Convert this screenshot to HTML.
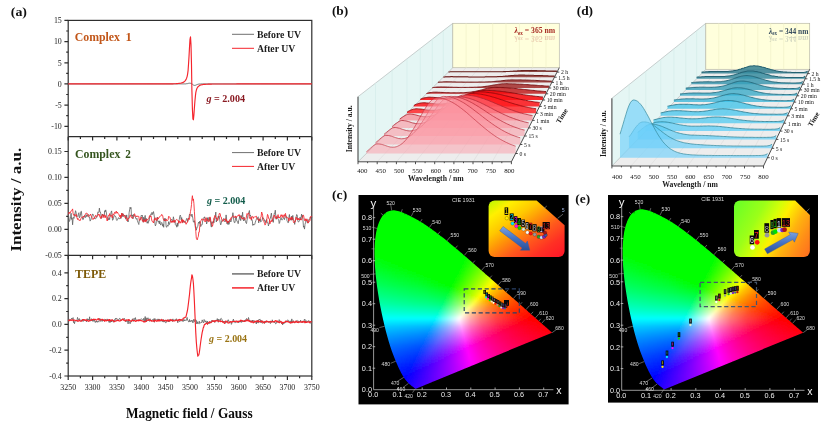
<!DOCTYPE html>
<html><head><meta charset="utf-8"><title>figure</title>
<style>html,body{margin:0;padding:0;background:#fff;overflow:hidden}svg{display:block;filter:blur(0.4px)}text{font-family:"Liberation Serif",serif}.sans,.sans text{font-family:"Liberation Sans",sans-serif}</style></head>
<body>
<svg width="839" height="430" viewBox="0 0 839 430">
<rect width="839" height="430" fill="#fff"/>
<g id="panelA">
<g fill="none" stroke="#2e2e2e" stroke-width="1.2">
<rect x="68.2" y="20.4" width="243.6" height="355.6"/>
<path d="M68.2,136.7H311.8M68.2,255.3H311.8"/>
<path d="M68.2,20.4h-3.8M68.2,41.6h-3.8M68.2,62.8h-3.8M68.2,83.9h-3.8M68.2,105.1h-3.8M68.2,126.3h-3.8M68.2,31h-2M68.2,52.2h-2M68.2,73.3h-2M68.2,94.5h-2M68.2,115.7h-2M68.2,151.5h-3.8M68.2,177.4h-3.8M68.2,203.4h-3.8M68.2,229.3h-3.8M68.2,164.5h-2M68.2,190.4h-2M68.2,216.4h-2M68.2,242.3h-2M68.2,272.8h-3.8M68.2,298.6h-3.8M68.2,324.4h-3.8M68.2,350.2h-3.8M68.2,376h-3.8M68.2,285.7h-2M68.2,311.5h-2M68.2,337.3h-2M68.2,363.1h-2M68.2,255.3h-3.8M68.2,376.0v3.9M68.2,136.7v3.9M68.2,255.3v3.9M80.4,376.0v2.3M80.4,136.7v2.3M80.4,255.3v2.3M92.6,376.0v3.9M92.6,136.7v3.9M92.6,255.3v3.9M104.7,376.0v2.3M104.7,136.7v2.3M104.7,255.3v2.3M116.9,376.0v3.9M116.9,136.7v3.9M116.9,255.3v3.9M129.1,376.0v2.3M129.1,136.7v2.3M129.1,255.3v2.3M141.3,376.0v3.9M141.3,136.7v3.9M141.3,255.3v3.9M153.5,376.0v2.3M153.5,136.7v2.3M153.5,255.3v2.3M165.6,376.0v3.9M165.6,136.7v3.9M165.6,255.3v3.9M177.8,376.0v2.3M177.8,136.7v2.3M177.8,255.3v2.3M190,376.0v3.9M190,136.7v3.9M190,255.3v3.9M202.2,376.0v2.3M202.2,136.7v2.3M202.2,255.3v2.3M214.4,376.0v3.9M214.4,136.7v3.9M214.4,255.3v3.9M226.5,376.0v2.3M226.5,136.7v2.3M226.5,255.3v2.3M238.7,376.0v3.9M238.7,136.7v3.9M238.7,255.3v3.9M250.9,376.0v2.3M250.9,136.7v2.3M250.9,255.3v2.3M263.1,376.0v3.9M263.1,136.7v3.9M263.1,255.3v3.9M275.3,376.0v2.3M275.3,136.7v2.3M275.3,255.3v2.3M287.4,376.0v3.9M287.4,136.7v3.9M287.4,255.3v3.9M299.6,376.0v2.3M299.6,136.7v2.3M299.6,255.3v2.3M311.8,376.0v3.9M311.8,136.7v3.9M311.8,255.3v3.9"/>
</g>
<g font-size="7.9" fill="#1e1e1e" text-anchor="end">
<text x="61.8" y="23.1">15</text>
<text x="61.8" y="44.3">10</text>
<text x="61.8" y="65.5">5</text>
<text x="61.8" y="86.6">0</text>
<text x="61.8" y="107.8">-5</text>
<text x="61.8" y="129">-10</text>
<text x="61.8" y="154.2">0.15</text>
<text x="61.8" y="180.1">0.10</text>
<text x="61.8" y="206.1">0.05</text>
<text x="61.8" y="232">0.00</text>
<text x="61.8" y="258">-0.05</text>
<text x="61.8" y="275.5">0.4</text>
<text x="61.8" y="301.3">0.2</text>
<text x="61.8" y="327.1">0.0</text>
<text x="61.8" y="352.9">-0.2</text>
<text x="61.8" y="378.7">-0.4</text>
</g>
<g font-size="7.9" fill="#1e1e1e" text-anchor="middle">
<text x="68.2" y="390.3">3250</text>
<text x="92.6" y="390.3">3300</text>
<text x="116.9" y="390.3">3350</text>
<text x="141.3" y="390.3">3400</text>
<text x="165.6" y="390.3">3450</text>
<text x="190" y="390.3">3500</text>
<text x="214.4" y="390.3">3550</text>
<text x="238.7" y="390.3">3600</text>
<text x="263.1" y="390.3">3650</text>
<text x="287.4" y="390.3">3700</text>
<text x="311.8" y="390.3">3750</text>
</g>
<g fill="none" stroke-linejoin="round">
<path stroke="#5e5e5e" stroke-width="0.9" d="M68.2,83.9 68.7,83.9 69.2,83.9 69.7,83.9 70.1,83.9 70.6,83.9 71.1,83.9 71.6,83.9 72.1,83.9 72.6,83.9 73.1,83.9 73.6,83.9 74,83.9 74.5,83.9 75,83.9 75.5,83.9 76,83.9 76.5,83.9 77,83.9 77.5,83.9 77.9,83.9 78.4,83.9 78.9,83.9 79.4,83.9 79.9,83.9 80.4,83.9 80.9,83.9 81.4,83.9 81.8,83.9 82.3,83.9 82.8,83.9 83.3,83.9 83.8,83.9 84.3,83.9 84.8,83.9 85.3,83.9 85.7,83.9 86.2,83.9 86.7,83.9 87.2,83.9 87.7,83.9 88.2,83.9 88.7,83.9 89.1,83.9 89.6,83.9 90.1,83.9 90.6,83.9 91.1,83.9 91.6,83.9 92.1,83.9 92.6,83.9 93,83.9 93.5,83.9 94,83.9 94.5,83.9 95,83.9 95.5,83.9 96,83.9 96.5,83.9 96.9,83.9 97.4,83.9 97.9,83.9 98.4,83.9 98.9,83.9 99.4,83.9 99.9,83.9 100.4,83.9 100.8,83.9 101.3,83.9 101.8,83.9 102.3,83.9 102.8,83.9 103.3,83.9 103.8,83.9 104.3,83.9 104.7,83.9 105.2,83.9 105.7,83.9 106.2,83.9 106.7,83.9 107.2,83.9 107.7,83.9 108.2,83.9 108.6,83.9 109.1,83.9 109.6,83.9 110.1,83.9 110.6,83.9 111.1,83.9 111.6,83.9 112,83.9 112.5,83.9 113,83.9 113.5,83.9 114,83.9 114.5,83.9 115,83.9 115.5,83.9 115.9,83.9 116.4,83.9 116.9,83.9 117.4,83.9 117.9,83.9 118.4,83.9 118.9,83.9 119.4,83.9 119.8,83.9 120.3,83.9 120.8,83.9 121.3,83.9 121.8,83.9 122.3,83.9 122.8,83.9 123.3,83.9 123.7,83.9 124.2,83.9 124.7,83.9 125.2,83.9 125.7,83.9 126.2,83.9 126.7,83.9 127.2,83.9 127.6,83.9 128.1,83.9 128.6,83.9 129.1,83.9 129.6,83.9 130.1,83.9 130.6,83.9 131,83.9 131.5,83.9 132,83.9 132.5,83.9 133,83.9 133.5,83.9 134,83.9 134.5,83.9 134.9,83.9 135.4,83.9 135.9,83.9 136.4,83.9 136.9,83.9 137.4,83.9 137.9,83.9 138.4,83.9 138.8,83.9 139.3,83.9 139.8,83.9 140.3,83.9 140.8,83.9 141.3,83.9 141.8,83.9 142.3,83.9 142.7,83.9 143.2,83.9 143.7,83.9 144.2,83.9 144.7,83.9 145.2,83.9 145.7,83.9 146.2,83.9 146.6,83.9 147.1,83.9 147.6,83.9 148.1,83.9 148.6,83.9 149.1,83.9 149.6,83.9 150,83.9 150.5,83.9 151,83.9 151.5,83.9 152,83.9 152.5,83.9 153,83.9 153.5,83.9 153.9,83.9 154.4,83.9 154.9,83.9 155.4,83.9 155.9,83.9 156.4,83.9 156.9,83.9 157.4,83.9 157.8,83.9 158.3,83.9 158.8,83.9 159.3,83.9 159.8,83.9 160.3,83.9 160.8,83.9 161.3,83.9 161.7,83.9 162.2,83.9 162.7,83.9 163.2,83.9 163.7,83.9 164.2,83.9 164.7,83.9 165.2,83.9 165.6,83.9 166.1,83.9 166.6,83.9 167.1,83.9 167.6,83.9 168.1,83.9 168.6,83.9 169.1,83.9 169.5,83.9 170,83.9 170.5,83.9 171,83.9 171.5,83.9 172,83.9 172.5,83.9 172.9,83.9 173.4,83.9 173.9,83.9 174.4,83.9 174.9,83.9 175.4,83.9 175.9,83.9 176.4,83.9 176.8,83.9 177.3,83.9 177.8,83.9 178.3,83.9 178.8,83.9 179.3,83.9 179.8,83.9 180.3,83.9 180.7,83.9 181.2,83.9 181.7,83.9 182.2,83.9 182.7,83.9 183.2,83.9 183.7,83.9 184.2,83.9 184.6,83.9 185.1,83.9 185.6,83.9 186.1,83.8 186.6,83.7 187.1,83.7 187.6,83.6 188.1,83.5 188.5,83.3 189,83.3 189.5,83.2 190,83.2 190.5,83.3 191,83.4 191.5,83.6 191.9,83.8 192.4,84.2 192.9,84.6 193.4,85 193.9,85.3 194.4,85.4 194.9,85.4 195.4,85.3 195.8,85.1 196.3,84.9 196.8,84.7 197.3,84.5 197.8,84.3 198.3,84.2 198.8,84.1 199.3,84 199.7,84 200.2,84 200.7,84 201.2,83.9 201.7,83.9 202.2,83.9 202.7,83.9 203.2,83.9 203.6,83.9 204.1,83.9 204.6,83.9 205.1,83.9 205.6,83.9 206.1,83.9 206.6,83.9 207.1,83.9 207.5,83.9 208,83.9 208.5,83.9 209,83.9 209.5,83.9 210,83.9 210.5,83.9 210.9,83.9 211.4,83.9 211.9,83.9 212.4,83.9 212.9,83.9 213.4,83.9 213.9,83.9 214.4,83.9 214.8,83.9 215.3,83.9 215.8,83.9 216.3,83.9 216.8,83.9 217.3,83.9 217.8,83.9 218.3,83.9 218.7,83.9 219.2,83.9 219.7,83.9 220.2,83.9 220.7,83.9 221.2,83.9 221.7,83.9 222.2,83.9 222.6,83.9 223.1,83.9 223.6,83.9 224.1,83.9 224.6,83.9 225.1,83.9 225.6,83.9 226.1,83.9 226.5,83.9 227,83.9 227.5,83.9 228,83.9 228.5,83.9 229,83.9 229.5,83.9 230,83.9 230.4,83.9 230.9,83.9 231.4,83.9 231.9,83.9 232.4,83.9 232.9,83.9 233.4,83.9 233.8,83.9 234.3,83.9 234.8,83.9 235.3,83.9 235.8,83.9 236.3,83.9 236.8,83.9 237.3,83.9 237.7,83.9 238.2,83.9 238.7,83.9 239.2,83.9 239.7,83.9 240.2,83.9 240.7,83.9 241.2,83.9 241.6,83.9 242.1,83.9 242.6,83.9 243.1,83.9 243.6,83.9 244.1,83.9 244.6,83.9 245.1,83.9 245.5,83.9 246,83.9 246.5,83.9 247,83.9 247.5,83.9 248,83.9 248.5,83.9 249,83.9 249.4,83.9 249.9,83.9 250.4,83.9 250.9,83.9 251.4,83.9 251.9,83.9 252.4,83.9 252.8,83.9 253.3,83.9 253.8,83.9 254.3,83.9 254.8,83.9 255.3,83.9 255.8,83.9 256.3,83.9 256.7,83.9 257.2,83.9 257.7,83.9 258.2,83.9 258.7,83.9 259.2,83.9 259.7,83.9 260.2,83.9 260.6,83.9 261.1,83.9 261.6,83.9 262.1,83.9 262.6,83.9 263.1,83.9 263.6,83.9 264.1,83.9 264.5,83.9 265,83.9 265.5,83.9 266,83.9 266.5,83.9 267,83.9 267.5,83.9 268,83.9 268.4,83.9 268.9,83.9 269.4,83.9 269.9,83.9 270.4,83.9 270.9,83.9 271.4,83.9 271.8,83.9 272.3,83.9 272.8,83.9 273.3,83.9 273.8,83.9 274.3,83.9 274.8,83.9 275.3,83.9 275.7,83.9 276.2,83.9 276.7,83.9 277.2,83.9 277.7,83.9 278.2,83.9 278.7,83.9 279.2,83.9 279.6,83.9 280.1,83.9 280.6,83.9 281.1,83.9 281.6,83.9 282.1,83.9 282.6,83.9 283.1,83.9 283.5,83.9 284,83.9 284.5,83.9 285,83.9 285.5,83.9 286,83.9 286.5,83.9 287,83.9 287.4,83.9 287.9,83.9 288.4,83.9 288.9,83.9 289.4,83.9 289.9,83.9 290.4,83.9 290.9,83.9 291.3,83.9 291.8,83.9 292.3,83.9 292.8,83.9 293.3,83.9 293.8,83.9 294.3,83.9 294.7,83.9 295.2,83.9 295.7,83.9 296.2,83.9 296.7,83.9 297.2,83.9 297.7,83.9 298.2,83.9 298.6,83.9 299.1,83.9 299.6,83.9 300.1,83.9 300.6,83.9 301.1,83.9 301.6,83.9 302.1,83.9 302.5,83.9 303,83.9 303.5,83.9 304,83.9 304.5,83.9 305,83.9 305.5,83.9 306,83.9 306.4,83.9 306.9,83.9 307.4,83.9 307.9,83.9 308.4,83.9 308.9,83.9 309.4,83.9 309.9,83.9 310.3,83.9 310.8,83.9 311.3,83.9 311.8,83.9"/>
<path stroke="#f5242c" stroke-width="1.15" d="M68.2,83.9 68.7,83.9 69.2,83.9 69.7,83.9 70.1,83.9 70.6,83.9 71.1,83.9 71.6,83.9 72.1,83.9 72.6,83.9 73.1,83.9 73.6,83.9 74,83.9 74.5,83.9 75,83.9 75.5,83.9 76,83.9 76.5,83.9 77,83.9 77.5,83.9 77.9,83.9 78.4,83.9 78.9,83.9 79.4,83.9 79.9,83.9 80.4,83.9 80.9,83.9 81.4,83.9 81.8,83.9 82.3,83.9 82.8,83.9 83.3,83.9 83.8,83.9 84.3,83.9 84.8,83.9 85.3,83.9 85.7,83.9 86.2,83.9 86.7,83.9 87.2,83.9 87.7,83.9 88.2,83.9 88.7,83.9 89.1,83.9 89.6,83.9 90.1,83.9 90.6,83.9 91.1,83.9 91.6,83.9 92.1,83.9 92.6,83.9 93,83.9 93.5,83.9 94,83.9 94.5,83.9 95,83.9 95.5,83.9 96,83.9 96.5,83.9 96.9,83.9 97.4,83.9 97.9,83.9 98.4,83.9 98.9,83.9 99.4,83.9 99.9,83.9 100.4,83.9 100.8,83.9 101.3,83.9 101.8,83.9 102.3,83.9 102.8,83.9 103.3,83.9 103.8,83.9 104.3,83.9 104.7,83.9 105.2,83.9 105.7,83.9 106.2,83.9 106.7,83.9 107.2,83.9 107.7,83.9 108.2,83.9 108.6,83.9 109.1,83.9 109.6,83.9 110.1,83.9 110.6,83.9 111.1,83.9 111.6,83.9 112,83.9 112.5,83.9 113,83.9 113.5,83.9 114,83.9 114.5,83.9 115,83.9 115.5,83.9 115.9,83.9 116.4,83.9 116.9,83.9 117.4,83.9 117.9,83.9 118.4,83.9 118.9,83.9 119.4,83.9 119.8,83.9 120.3,83.9 120.8,83.9 121.3,83.9 121.8,83.9 122.3,83.9 122.8,83.9 123.3,83.9 123.7,83.9 124.2,83.9 124.7,83.9 125.2,83.9 125.7,83.9 126.2,83.9 126.7,83.9 127.2,83.9 127.6,83.9 128.1,83.9 128.6,83.9 129.1,83.9 129.6,83.9 130.1,83.9 130.6,83.9 131,83.9 131.5,83.9 132,83.9 132.5,83.9 133,83.9 133.5,83.9 134,83.9 134.5,83.9 134.9,83.9 135.4,83.9 135.9,83.9 136.4,83.9 136.9,83.9 137.4,83.9 137.9,83.9 138.4,83.9 138.8,83.9 139.3,83.9 139.8,83.9 140.3,83.9 140.8,83.9 141.3,83.9 141.8,83.9 142.3,83.9 142.7,83.9 143.2,83.9 143.7,83.9 144.2,83.9 144.7,83.9 145.2,83.9 145.7,83.9 146.2,83.9 146.6,83.9 147.1,83.9 147.6,83.9 148.1,83.9 148.6,83.9 149.1,83.9 149.6,83.9 150,83.9 150.5,83.9 151,83.9 151.5,83.9 152,83.9 152.5,83.9 153,83.9 153.5,83.9 153.9,83.9 154.4,83.9 154.9,83.9 155.4,83.9 155.9,83.9 156.4,83.9 156.9,83.9 157.4,83.9 157.8,83.9 158.3,83.9 158.8,83.9 159.3,83.9 159.8,83.9 160.3,83.9 160.8,83.9 161.3,83.9 161.7,83.9 162.2,83.9 162.7,83.9 163.2,83.9 163.7,83.9 164.2,83.9 164.7,83.9 165.2,83.9 165.6,83.9 166.1,83.9 166.6,83.9 167.1,83.9 167.6,83.9 168.1,83.9 168.6,83.8 169.1,83.8 169.5,83.8 170,83.8 170.5,83.8 171,83.8 171.5,83.8 172,83.8 172.5,83.8 172.9,83.8 173.4,83.8 173.9,83.7 174.4,83.7 174.9,83.7 175.4,83.7 175.9,83.7 176.4,83.6 176.8,83.6 177.3,83.6 177.8,83.5 178.3,83.5 178.8,83.4 179.3,83.4 179.8,83.3 180.3,83.2 180.7,83.2 181.2,83 181.7,82.9 182.2,82.8 182.7,82.6 183.2,82.4 183.7,82.1 184.2,81.8 184.6,81.4 185.1,80.9 185.6,80.2 186.1,79.4 186.6,78.2 187.1,76.6 187.6,74.1 188.1,70.3 188.5,64.5 189,56.6 189.5,47.4 190,39.4 190.5,36.9 191,44.8 191.5,65 191.9,90.4 192.4,108.9 192.9,118.9 193.4,119.8 193.9,114.9 194.4,107.8 194.9,101.2 195.4,96.1 195.8,92.6 196.3,90.3 196.8,88.8 197.3,87.8 197.8,87 198.3,86.5 198.8,86.1 199.3,85.7 199.7,85.4 200.2,85.2 200.7,85 201.2,84.9 201.7,84.8 202.2,84.7 202.7,84.6 203.2,84.5 203.6,84.4 204.1,84.4 204.6,84.3 205.1,84.3 205.6,84.3 206.1,84.2 206.6,84.2 207.1,84.2 207.5,84.2 208,84.1 208.5,84.1 209,84.1 209.5,84.1 210,84.1 210.5,84.1 210.9,84.1 211.4,84.1 211.9,84 212.4,84 212.9,84 213.4,84 213.9,84 214.4,84 214.8,84 215.3,84 215.8,84 216.3,84 216.8,84 217.3,84 217.8,84 218.3,84 218.7,84 219.2,84 219.7,84 220.2,84 220.7,84 221.2,84 221.7,84 222.2,84 222.6,84 223.1,84 223.6,84 224.1,84 224.6,84 225.1,84 225.6,84 226.1,84 226.5,84 227,84 227.5,84 228,84 228.5,84 229,84 229.5,84 230,84 230.4,84 230.9,84 231.4,84 231.9,84 232.4,84 232.9,84 233.4,84 233.8,84 234.3,84 234.8,84 235.3,84 235.8,84 236.3,84 236.8,83.9 237.3,83.9 237.7,83.9 238.2,83.9 238.7,83.9 239.2,83.9 239.7,83.9 240.2,83.9 240.7,83.9 241.2,83.9 241.6,83.9 242.1,83.9 242.6,83.9 243.1,83.9 243.6,83.9 244.1,83.9 244.6,83.9 245.1,83.9 245.5,83.9 246,83.9 246.5,83.9 247,83.9 247.5,83.9 248,83.9 248.5,83.9 249,83.9 249.4,83.9 249.9,83.9 250.4,83.9 250.9,83.9 251.4,83.9 251.9,83.9 252.4,83.9 252.8,83.9 253.3,83.9 253.8,83.9 254.3,83.9 254.8,83.9 255.3,83.9 255.8,83.9 256.3,83.9 256.7,83.9 257.2,83.9 257.7,83.9 258.2,83.9 258.7,83.9 259.2,83.9 259.7,83.9 260.2,83.9 260.6,83.9 261.1,83.9 261.6,83.9 262.1,83.9 262.6,83.9 263.1,83.9 263.6,83.9 264.1,83.9 264.5,83.9 265,83.9 265.5,83.9 266,83.9 266.5,83.9 267,83.9 267.5,83.9 268,83.9 268.4,83.9 268.9,83.9 269.4,83.9 269.9,83.9 270.4,83.9 270.9,83.9 271.4,83.9 271.8,83.9 272.3,83.9 272.8,83.9 273.3,83.9 273.8,83.9 274.3,83.9 274.8,83.9 275.3,83.9 275.7,83.9 276.2,83.9 276.7,83.9 277.2,83.9 277.7,83.9 278.2,83.9 278.7,83.9 279.2,83.9 279.6,83.9 280.1,83.9 280.6,83.9 281.1,83.9 281.6,83.9 282.1,83.9 282.6,83.9 283.1,83.9 283.5,83.9 284,83.9 284.5,83.9 285,83.9 285.5,83.9 286,83.9 286.5,83.9 287,83.9 287.4,83.9 287.9,83.9 288.4,83.9 288.9,83.9 289.4,83.9 289.9,83.9 290.4,83.9 290.9,83.9 291.3,83.9 291.8,83.9 292.3,83.9 292.8,83.9 293.3,83.9 293.8,83.9 294.3,83.9 294.7,83.9 295.2,83.9 295.7,83.9 296.2,83.9 296.7,83.9 297.2,83.9 297.7,83.9 298.2,83.9 298.6,83.9 299.1,83.9 299.6,83.9 300.1,83.9 300.6,83.9 301.1,83.9 301.6,83.9 302.1,83.9 302.5,83.9 303,83.9 303.5,83.9 304,83.9 304.5,83.9 305,83.9 305.5,83.9 306,83.9 306.4,83.9 306.9,83.9 307.4,83.9 307.9,83.9 308.4,83.9 308.9,83.9 309.4,83.9 309.9,83.9 310.3,83.9 310.8,83.9 311.3,83.9 311.8,83.9"/>
<path stroke="#5e5e5e" stroke-width="0.8" d="M68.2,214.5 68.7,216.7 69.2,221.6 69.7,220.7 70.1,219.3 70.6,216.8 71.1,213.2 71.6,219.4 72.1,217.7 72.6,224.8 73.1,218.8 73.6,217.4 74,218.4 74.5,214 75,213.9 75.5,210.7 76,212.1 76.5,216.4 77,215.8 77.5,216.3 77.9,216.6 78.4,213.7 78.9,212.7 79.4,217.9 79.9,217.2 80.4,215.1 80.9,211.6 81.4,211.3 81.8,215.5 82.3,217.9 82.8,219.6 83.3,219.4 83.8,217.5 84.3,216.6 84.8,215.6 85.3,217.6 85.7,217.3 86.2,214.6 86.7,216.6 87.2,216.5 87.7,215.1 88.2,214.8 88.7,214.6 89.1,217.6 89.6,217.3 90.1,221.1 90.6,220.3 91.1,219.2 91.6,217.2 92.1,215.7 92.6,214.1 93,214.1 93.5,215.7 94,216.4 94.5,218.4 95,218.5 95.5,218.7 96,218.5 96.5,217.5 96.9,217.4 97.4,214.8 97.9,211.9 98.4,212.4 98.9,212.1 99.4,208.1 99.9,212.2 100.4,212.1 100.8,213.9 101.3,218.5 101.8,217.7 102.3,214 102.8,215.1 103.3,216.2 103.8,214.7 104.3,215.3 104.7,210.7 105.2,211.9 105.7,209.9 106.2,211.7 106.7,215 107.2,217.9 107.7,217.7 108.2,220.1 108.6,218.6 109.1,217.8 109.6,219.7 110.1,215.7 110.6,215.6 111.1,212 111.6,210.9 112,214.4 112.5,220.2 113,219.9 113.5,218.1 114,215.8 114.5,215.3 115,216.5 115.5,216.3 115.9,217.1 116.4,219.7 116.9,220.5 117.4,219.5 117.9,219.3 118.4,217.7 118.9,218.1 119.4,218.9 119.8,218.7 120.3,217.6 120.8,218.5 121.3,217.3 121.8,213.5 122.3,216.6 122.8,213.4 123.3,216.5 123.7,216.3 124.2,215 124.7,215.6 125.2,215.1 125.7,219.2 126.2,217.9 126.7,214.9 127.2,220.8 127.6,220.9 128.1,222 128.6,219.6 129.1,212.8 129.6,209.9 130.1,207.2 130.6,208.7 131,207.5 131.5,216.2 132,216.3 132.5,214.9 133,218.8 133.5,214.5 134,215.2 134.5,215.9 134.9,215.9 135.4,217 135.9,218.6 136.4,219.3 136.9,218.3 137.4,220.6 137.9,222.1 138.4,223.4 138.8,224.5 139.3,220.4 139.8,220.7 140.3,220.1 140.8,217.2 141.3,215.3 141.8,216.1 142.3,215.2 142.7,219 143.2,222.2 143.7,217.2 144.2,221.3 144.7,217.5 145.2,215.4 145.7,220.9 146.2,218.4 146.6,219.2 147.1,223.2 147.6,221.7 148.1,223.3 148.6,220.7 149.1,221.1 149.6,216.8 150,217.1 150.5,215.2 151,213.8 151.5,214.5 152,212.3 152.5,214.5 153,213.2 153.5,211.6 153.9,214 154.4,217 154.9,223.6 155.4,225.9 155.9,224.7 156.4,221.6 156.9,219.6 157.4,217.1 157.8,221.1 158.3,222.2 158.8,221.2 159.3,223.8 159.8,220.8 160.3,223.6 160.8,225.1 161.3,223.2 161.7,222.4 162.2,223.3 162.7,226.2 163.2,224.3 163.7,227.3 164.2,218.2 164.7,220.9 165.2,219.3 165.6,218.5 166.1,226.2 166.6,227.3 167.1,225.9 167.6,225.3 168.1,226.2 168.6,221.7 169.1,224.1 169.5,224.5 170,222.2 170.5,220.7 171,220 171.5,219.1 172,219.8 172.5,221.9 172.9,220.4 173.4,216.8 173.9,219.4 174.4,222.4 174.9,220.6 175.4,224.7 175.9,225.3 176.4,224.8 176.8,227.2 177.3,222.9 177.8,226.3 178.3,223.2 178.8,222.2 179.3,219.3 179.8,216.1 180.3,215.1 180.7,216.5 181.2,219.8 181.7,217.6 182.2,220.9 182.7,222.4 183.2,220.5 183.7,222.2 184.2,222.1 184.6,222 185.1,222.6 185.6,221.4 186.1,220.3 186.6,218.5 187.1,218.6 187.6,221.6 188.1,220.3 188.5,218.1 189,217.4 189.5,214.1 190,214.8 190.5,215 191,215.4 191.5,216.4 191.9,214 192.4,215.8 192.9,218.6 193.4,222 193.9,222.1 194.4,220.7 194.9,223.8 195.4,227.4 195.8,226.8 196.3,230.2 196.8,228.3 197.3,226.9 197.8,226.5 198.3,222.9 198.8,222 199.3,223.5 199.7,221.2 200.2,223 200.7,226.6 201.2,225.7 201.7,224.5 202.2,224.6 202.7,220.4 203.2,218.4 203.6,218 204.1,218 204.6,216.8 205.1,219.2 205.6,219 206.1,219.2 206.6,224 207.1,222.2 207.5,217.7 208,220 208.5,220.6 209,217.3 209.5,220.7 210,217.9 210.5,220.3 210.9,225.6 211.4,227.1 211.9,221.7 212.4,223.1 212.9,223.2 213.4,221 213.9,222.8 214.4,220 214.8,217.3 215.3,216.3 215.8,212.1 216.3,222 216.8,219.8 217.3,219.8 217.8,218.2 218.3,216.1 218.7,217.5 219.2,216.2 219.7,219.7 220.2,222.5 220.7,224.9 221.2,223.5 221.7,220.6 222.2,220.6 222.6,220.4 223.1,219 223.6,218.5 224.1,221.2 224.6,221 225.1,221.8 225.6,219.7 226.1,214.9 226.5,218 227,223.8 227.5,221.4 228,224.6 228.5,221.3 229,224.3 229.5,221.6 230,220.2 230.4,221 230.9,222 231.4,219.9 231.9,218 232.4,216.2 232.9,212.7 233.4,216.7 233.8,220.6 234.3,222.5 234.8,222.8 235.3,220.6 235.8,216.4 236.3,217.1 236.8,221.1 237.3,221.3 237.7,222 238.2,223.7 238.7,220.3 239.2,219.3 239.7,216 240.2,218.2 240.7,220.6 241.2,215.4 241.6,218 242.1,216.8 242.6,212.2 243.1,219.3 243.6,220.9 244.1,217.1 244.6,220.2 245.1,220.2 245.5,221.2 246,223 246.5,223.6 247,220 247.5,218.4 248,214.4 248.5,213.8 249,211.9 249.4,210.5 249.9,215.8 250.4,215 250.9,217 251.4,220.3 251.9,219.5 252.4,221.1 252.8,225.4 253.3,224 253.8,224.9 254.3,224.8 254.8,224.3 255.3,222.2 255.8,220.8 256.3,219.4 256.7,218.6 257.2,219.3 257.7,217.4 258.2,216.8 258.7,222.9 259.2,219 259.7,220.8 260.2,218.8 260.6,221.9 261.1,221.6 261.6,221.2 262.1,220.3 262.6,217.3 263.1,218.8 263.6,218.4 264.1,219.2 264.5,220.8 265,220.4 265.5,222.7 266,220.6 266.5,219.5 267,221.6 267.5,222.8 268,222.9 268.4,225.9 268.9,224.3 269.4,221.2 269.9,219 270.4,218.1 270.9,215.4 271.4,213.1 271.8,217 272.3,220.8 272.8,220 273.3,222.4 273.8,216.4 274.3,213.2 274.8,213.4 275.3,210.2 275.7,215.6 276.2,219.3 276.7,218.1 277.2,216.4 277.7,218.2 278.2,219.3 278.7,219.7 279.2,223.5 279.6,222.8 280.1,220.4 280.6,218.9 281.1,217.5 281.6,219.8 282.1,220 282.6,219.7 283.1,218.7 283.5,217.6 284,218.1 284.5,219.6 285,216.7 285.5,215.3 286,215.5 286.5,216.2 287,220.8 287.4,221.5 287.9,222.7 288.4,222.6 288.9,217.6 289.4,214.5 289.9,218.1 290.4,218.4 290.9,218.3 291.3,220.3 291.8,216 292.3,219.8 292.8,215.4 293.3,219.9 293.8,220.2 294.3,221.2 294.7,224.4 295.2,220.8 295.7,219 296.2,216.7 296.7,214.5 297.2,215 297.7,220.7 298.2,221.8 298.6,222.1 299.1,221.1 299.6,219.8 300.1,217.1 300.6,219.9 301.1,217.5 301.6,214.1 302.1,217.3 302.5,215.4 303,220.8 303.5,227.2 304,226 304.5,229.1 305,224.5 305.5,222.6 306,219.7 306.4,220.7 306.9,220.6 307.4,223 307.9,222.9 308.4,219.8 308.9,219.7 309.4,220.1 309.9,219.1 310.3,217 310.8,217.7 311.3,216.8 311.8,217.4"/>
<path stroke="#f5242c" stroke-width="0.85" d="M68.2,214.4 68.7,213.5 69.2,212.1 69.7,213.4 70.1,213.1 70.6,212.1 71.1,210.8 71.6,210.6 72.1,210.1 72.6,208.9 73.1,213.5 73.6,215.2 74,215.5 74.5,215.1 75,216 75.5,216.1 76,214.2 76.5,216 77,217.8 77.5,219.5 77.9,218.3 78.4,219.4 78.9,220.3 79.4,219.9 79.9,220.8 80.4,220.1 80.9,218.6 81.4,217.9 81.8,217.2 82.3,217.4 82.8,217.3 83.3,216.2 83.8,217.3 84.3,215.9 84.8,215 85.3,214.6 85.7,213.5 86.2,213.3 86.7,213 87.2,214 87.7,214 88.2,216.5 88.7,216.2 89.1,215.9 89.6,215.5 90.1,215.2 90.6,214 91.1,216.2 91.6,216.3 92.1,217.6 92.6,218.4 93,219.6 93.5,218.5 94,219 94.5,217.6 95,217.7 95.5,215.4 96,215.4 96.5,216.7 96.9,216.6 97.4,215.7 97.9,215.2 98.4,213.9 98.9,215.3 99.4,214.5 99.9,217.3 100.4,217.4 100.8,218.6 101.3,215.9 101.8,217.6 102.3,214.3 102.8,214.9 103.3,214.9 103.8,217.6 104.3,215.2 104.7,214.8 105.2,217.7 105.7,215.5 106.2,217.5 106.7,218.8 107.2,221 107.7,218.8 108.2,216.7 108.6,215.3 109.1,215.8 109.6,213.6 110.1,216.2 110.6,216.2 111.1,215.5 111.6,215.2 112,217.3 112.5,218 113,213.8 113.5,214.6 114,214.8 114.5,212.4 115,212.6 115.5,213.4 115.9,211.6 116.4,211.1 116.9,213.3 117.4,212 117.9,213.3 118.4,213.7 118.9,214.4 119.4,215.9 119.8,216.8 120.3,215 120.8,218.2 121.3,215.9 121.8,213 122.3,215.7 122.8,215.3 123.3,214.2 123.7,214.8 124.2,216.2 124.7,215.7 125.2,217.8 125.7,216.6 126.2,216.9 126.7,217.5 127.2,221 127.6,218.8 128.1,219 128.6,218.3 129.1,218.3 129.6,217.3 130.1,214.9 130.6,215.2 131,216.9 131.5,217.8 132,217.4 132.5,218.4 133,217.4 133.5,216.9 134,215.6 134.5,213.7 134.9,214.6 135.4,216.3 135.9,216.4 136.4,216 136.9,217 137.4,216.1 137.9,216 138.4,216.3 138.8,216.3 139.3,220.3 139.8,219.3 140.3,219.5 140.8,218.8 141.3,217 141.8,218.7 142.3,220.6 142.7,219.8 143.2,222.1 143.7,222 144.2,219.7 144.7,219.4 145.2,222.1 145.7,220.3 146.2,221.4 146.6,219.2 147.1,219.1 147.6,220 148.1,219.6 148.6,218.7 149.1,217.3 149.6,215.6 150,216.5 150.5,216.5 151,215.8 151.5,218.9 152,221.1 152.5,221.7 153,221.6 153.5,223 153.9,220.7 154.4,218.6 154.9,220.2 155.4,219.6 155.9,217.7 156.4,220.4 156.9,220.5 157.4,218.3 157.8,217.7 158.3,218.9 158.8,218 159.3,216.9 159.8,216.9 160.3,216.1 160.8,215.6 161.3,215.6 161.7,214.4 162.2,215.3 162.7,215.5 163.2,218.7 163.7,220.1 164.2,220.8 164.7,220.2 165.2,221 165.6,220.9 166.1,219 166.6,220.6 167.1,220.6 167.6,220.5 168.1,219.7 168.6,216.4 169.1,217.2 169.5,216.8 170,217.5 170.5,219.4 171,222.4 171.5,221.2 172,222.6 172.5,221.1 172.9,220.9 173.4,222.3 173.9,219.9 174.4,220.9 174.9,222.4 175.4,220.6 175.9,220.3 176.4,219.4 176.8,219.6 177.3,220 177.8,220 178.3,220.6 178.8,223.3 179.3,221 179.8,221.5 180.3,223.2 180.7,222.1 181.2,221.3 181.7,219.7 182.2,223.1 182.7,219.5 183.2,221.2 183.7,220.4 184.2,222.3 184.6,221.2 185.1,221.7 185.6,222.8 186.1,224.3 186.6,222.8 187.1,222.9 187.6,222.1 188.1,219 188.5,218.1 189,219.4 189.5,219.3 190,214.6 190.5,211.4 191,208.6 191.5,204.6 191.9,199.2 192.4,195.7 192.9,200.5 193.4,198.9 193.9,203.4 194.4,211.7 194.9,219.9 195.4,225.4 195.8,231.7 196.3,238.2 196.8,239.4 197.3,239.9 197.8,237.6 198.3,236.6 198.8,232.1 199.3,232.1 199.7,226.8 200.2,223.5 200.7,221.4 201.2,220.2 201.7,219.1 202.2,218.7 202.7,219.2 203.2,220.4 203.6,219.4 204.1,219 204.6,219.9 205.1,222 205.6,220.5 206.1,217.6 206.6,219.6 207.1,221.1 207.5,219.4 208,220.7 208.5,221.6 209,221.9 209.5,218.8 210,216.9 210.5,218.4 210.9,222.4 211.4,222.8 211.9,224.7 212.4,226.4 212.9,224.7 213.4,220.9 213.9,217.8 214.4,217.7 214.8,215.5 215.3,216.1 215.8,217.3 216.3,219 216.8,217.9 217.3,220.5 217.8,220.4 218.3,218.2 218.7,216.6 219.2,213.8 219.7,213.1 220.2,214 220.7,216.7 221.2,217 221.7,219.6 222.2,220.3 222.6,221.4 223.1,221.2 223.6,220 224.1,219.3 224.6,220 225.1,218.6 225.6,220.6 226.1,221.5 226.5,219.5 227,221.4 227.5,223.1 228,221.1 228.5,222.1 229,222.1 229.5,219.7 230,220 230.4,220.2 230.9,217.8 231.4,218.2 231.9,217.1 232.4,216.4 232.9,216.2 233.4,215.9 233.8,216.3 234.3,217.6 234.8,217.4 235.3,215.9 235.8,216.8 236.3,217.8 236.8,216.5 237.3,216.3 237.7,215.7 238.2,216 238.7,214.8 239.2,214.5 239.7,216.1 240.2,216.2 240.7,215.8 241.2,217.7 241.6,217.2 242.1,219.2 242.6,218.1 243.1,218.7 243.6,217.6 244.1,218.6 244.6,219.6 245.1,219.2 245.5,219.2 246,218.9 246.5,216 247,213.6 247.5,214.3 248,213.9 248.5,212.9 249,214 249.4,218.4 249.9,217.7 250.4,218.4 250.9,217.4 251.4,219.7 251.9,216.4 252.4,216.4 252.8,216.7 253.3,218.4 253.8,217 254.3,216.7 254.8,217.2 255.3,216.9 255.8,216.3 256.3,216.1 256.7,217.9 257.2,218.7 257.7,219.3 258.2,219.1 258.7,220.4 259.2,221.1 259.7,220.5 260.2,217.9 260.6,217.7 261.1,217 261.6,212 262.1,213.2 262.6,215.2 263.1,219.3 263.6,220.2 264.1,222.1 264.5,223.2 265,225.1 265.5,224.5 266,222.7 266.5,222.4 267,218 267.5,214.4 268,215.3 268.4,216.7 268.9,219 269.4,219.5 269.9,223.9 270.4,221.9 270.9,220.6 271.4,220.3 271.8,221.9 272.3,220.5 272.8,218.3 273.3,217.2 273.8,216.2 274.3,215 274.8,216.9 275.3,218.4 275.7,217.7 276.2,216.7 276.7,218.7 277.2,215.7 277.7,214.9 278.2,214.6 278.7,218 279.2,216.9 279.6,217.8 280.1,217.7 280.6,216 281.1,214.7 281.6,216.3 282.1,214.8 282.6,217.3 283.1,217.7 283.5,215.7 284,214.8 284.5,216.3 285,214 285.5,213.4 286,217.6 286.5,217 287,217.7 287.4,217.6 287.9,218.4 288.4,218.2 288.9,221.2 289.4,218.3 289.9,217.9 290.4,220.1 290.9,218.2 291.3,216.9 291.8,219.4 292.3,217.8 292.8,217.8 293.3,221.5 293.8,222.7 294.3,221.8 294.7,222 295.2,221.9 295.7,219.7 296.2,217.1 296.7,218.8 297.2,219.9 297.7,218.4 298.2,219.8 298.6,218.3 299.1,219.9 299.6,218.8 300.1,219.7 300.6,219 301.1,220.2 301.6,219.1 302.1,217.9 302.5,216.5 303,215.3 303.5,215.2 304,217.7 304.5,220.4 305,220.9 305.5,218.8 306,220.7 306.4,220.9 306.9,218.8 307.4,220.1 307.9,222.9 308.4,222.9 308.9,220.8 309.4,221.4 309.9,220.9 310.3,216.8 310.8,216.6 311.3,216 311.8,216.8"/>
<path stroke="#5e5e5e" stroke-width="0.8" d="M68.2,320.2 68.7,318.8 69.2,320.1 69.7,319.5 70.1,320.2 70.6,319.6 71.1,319.4 71.6,318.2 72.1,319 72.6,318.8 73.1,317.6 73.6,322.6 74,321.7 74.5,323.7 75,320.9 75.5,320.7 76,320.3 76.5,320.4 77,321.3 77.5,317.4 77.9,318.9 78.4,319.2 78.9,320.2 79.4,318.6 79.9,319.7 80.4,320.4 80.9,320.1 81.4,320.6 81.8,321.3 82.3,319.2 82.8,321.1 83.3,321.4 83.8,319.7 84.3,320.3 84.8,320.3 85.3,321 85.7,320.6 86.2,320.6 86.7,321.9 87.2,318.6 87.7,320.7 88.2,319.7 88.7,319 89.1,320 89.6,316.8 90.1,321.3 90.6,320.7 91.1,320.1 91.6,318.7 92.1,319.5 92.6,321.3 93,319.2 93.5,321.2 94,320.9 94.5,320.1 95,322.4 95.5,322.3 96,321 96.5,322.1 96.9,321.1 97.4,322.3 97.9,321.2 98.4,321.6 98.9,322.1 99.4,318.4 99.9,319.7 100.4,318.8 100.8,321.5 101.3,320.9 101.8,320.3 102.3,321.4 102.8,319.4 103.3,320.9 103.8,320.2 104.3,321.2 104.7,319.2 105.2,319.4 105.7,319.6 106.2,320.6 106.7,320.5 107.2,318.9 107.7,320.6 108.2,320.1 108.6,320.7 109.1,322.4 109.6,319 110.1,322.5 110.6,320.3 111.1,320.7 111.6,322 112,319.8 112.5,320.6 113,321.4 113.5,322.2 114,320.7 114.5,319.6 115,320.8 115.5,318.1 115.9,318.6 116.4,318.5 116.9,318.3 117.4,320.8 117.9,320 118.4,319.6 118.9,319.7 119.4,318.5 119.8,318.2 120.3,319.4 120.8,319.9 121.3,320.3 121.8,319.8 122.3,319.5 122.8,318.7 123.3,319.5 123.7,319.1 124.2,318.2 124.7,319.5 125.2,319.7 125.7,321.8 126.2,320.2 126.7,321.5 127.2,321.3 127.6,320.8 128.1,323.9 128.6,320.1 129.1,321.5 129.6,322 130.1,323.8 130.6,321.4 131,321.8 131.5,321.8 132,321.3 132.5,318.8 133,320.5 133.5,321.4 134,318.3 134.5,319.3 134.9,319.6 135.4,317.6 135.9,320.2 136.4,320.3 136.9,319.9 137.4,320.3 137.9,319.7 138.4,319.8 138.8,320.4 139.3,319.9 139.8,319.5 140.3,320.1 140.8,319.5 141.3,318.7 141.8,319.2 142.3,319.5 142.7,319.9 143.2,319.9 143.7,318.3 144.2,321.7 144.7,319.1 145.2,316.5 145.7,321.7 146.2,317.8 146.6,321.7 147.1,319.8 147.6,318.1 148.1,317.7 148.6,320.1 149.1,320.9 149.6,321.3 150,318.7 150.5,320.7 151,320.5 151.5,320.5 152,319.8 152.5,319.6 153,320.2 153.5,321.5 153.9,318.7 154.4,322.3 154.9,318.5 155.4,320.6 155.9,320.3 156.4,319.7 156.9,319.5 157.4,319.2 157.8,320.1 158.3,320.4 158.8,318.9 159.3,321.1 159.8,319.2 160.3,321.2 160.8,321 161.3,320.1 161.7,319.8 162.2,321.8 162.7,321.4 163.2,319.3 163.7,322 164.2,321.9 164.7,320.4 165.2,322.2 165.6,322.8 166.1,322.8 166.6,320.3 167.1,319.9 167.6,320.2 168.1,320.2 168.6,321.9 169.1,319.6 169.5,319.6 170,321.2 170.5,319.6 171,320.8 171.5,320.3 172,319.7 172.5,321.5 172.9,318.9 173.4,321 173.9,320 174.4,320.1 174.9,319.8 175.4,319.8 175.9,320.2 176.4,318.7 176.8,319.6 177.3,320.7 177.8,322.8 178.3,319.9 178.8,320.3 179.3,321.2 179.8,321.8 180.3,320.4 180.7,320 181.2,319.6 181.7,319.5 182.2,321.3 182.7,320.3 183.2,321.5 183.7,319.3 184.2,319.5 184.6,320.9 185.1,320 185.6,320 186.1,320.6 186.6,319.2 187.1,317.4 187.6,320.2 188.1,320.5 188.5,321.7 189,322.1 189.5,319.5 190,321.9 190.5,320.9 191,321.2 191.5,320.3 191.9,321.5 192.4,320.5 192.9,322.9 193.4,321.3 193.9,319.1 194.4,321.6 194.9,321 195.4,319.7 195.8,320.2 196.3,320.2 196.8,324 197.3,321.7 197.8,323.6 198.3,323.6 198.8,322.4 199.3,321.2 199.7,323.7 200.2,323.3 200.7,322.6 201.2,322.1 201.7,322.7 202.2,319.9 202.7,321.6 203.2,322.3 203.6,322.9 204.1,319.5 204.6,320.1 205.1,322.1 205.6,321.2 206.1,320.9 206.6,323.1 207.1,323.2 207.5,321.2 208,323.1 208.5,323.4 209,324 209.5,323 210,321.3 210.5,322.7 210.9,323.1 211.4,322.2 211.9,320.1 212.4,320.9 212.9,322 213.4,320.8 213.9,320.9 214.4,321.1 214.8,322.5 215.3,320.7 215.8,320.4 216.3,319.9 216.8,320.9 217.3,318.6 217.8,320.5 218.3,322.3 218.7,319.1 219.2,320.2 219.7,320.2 220.2,320.6 220.7,318.7 221.2,318.3 221.7,319.1 222.2,320 222.6,322 223.1,322.3 223.6,321.2 224.1,322.2 224.6,321.2 225.1,321.7 225.6,323.1 226.1,322.7 226.5,322.3 227,322.3 227.5,320.8 228,319.7 228.5,320 229,322.3 229.5,322.9 230,321.5 230.4,322 230.9,322.3 231.4,324.4 231.9,323.2 232.4,321.1 232.9,320.9 233.4,319.1 233.8,321.5 234.3,321.4 234.8,322.7 235.3,322.6 235.8,322.6 236.3,322.1 236.8,321.8 237.3,321.1 237.7,321.4 238.2,321.1 238.7,322.9 239.2,321.7 239.7,321.7 240.2,320.3 240.7,322.2 241.2,321.2 241.6,322.4 242.1,320.8 242.6,320.8 243.1,321.9 243.6,320.9 244.1,320.7 244.6,320 245.1,321.5 245.5,319.7 246,320.4 246.5,318.6 247,318.7 247.5,320.4 248,320.9 248.5,317.5 249,319.5 249.4,319.9 249.9,320.9 250.4,321.8 250.9,320.5 251.4,320.8 251.9,322.3 252.4,320.1 252.8,321.1 253.3,321.7 253.8,320.3 254.3,321.8 254.8,321.2 255.3,322.2 255.8,321.7 256.3,324 256.7,321.4 257.2,322.4 257.7,320.1 258.2,323.1 258.7,320.3 259.2,319 259.7,319.7 260.2,319.4 260.6,322.6 261.1,320.2 261.6,320.7 262.1,323.2 262.6,323.1 263.1,322.9 263.6,321.9 264.1,321.4 264.5,323.4 265,321.1 265.5,322.3 266,322.5 266.5,320.8 267,322.3 267.5,321.2 268,321.8 268.4,322.2 268.9,321 269.4,321.5 269.9,322.5 270.4,323.6 270.9,322 271.4,321.3 271.8,322.3 272.3,319.8 272.8,321.8 273.3,321.6 273.8,321.8 274.3,322.9 274.8,322.2 275.3,322.7 275.7,323.9 276.2,323.5 276.7,321.1 277.2,321.9 277.7,321.2 278.2,322.6 278.7,321.5 279.2,319.6 279.6,320.7 280.1,321.9 280.6,320.9 281.1,322.5 281.6,323.7 282.1,322.7 282.6,324.8 283.1,322.6 283.5,323.7 284,323.7 284.5,322.8 285,322.4 285.5,322.6 286,321.8 286.5,321.6 287,320.3 287.4,319.9 287.9,320.3 288.4,320.4 288.9,321.8 289.4,322.4 289.9,320.9 290.4,321.6 290.9,320.8 291.3,323.1 291.8,318.9 292.3,322.9 292.8,321.4 293.3,320.6 293.8,322.6 294.3,322 294.7,322.9 295.2,321.8 295.7,322.2 296.2,320.6 296.7,321.2 297.2,321.7 297.7,320.5 298.2,320.9 298.6,322.6 299.1,322.1 299.6,321.4 300.1,322.1 300.6,320.2 301.1,321.4 301.6,322.3 302.1,322.4 302.5,322 303,322.5 303.5,321.2 304,321 304.5,319 305,319.5 305.5,322.3 306,320.8 306.4,320.8 306.9,322.3 307.4,321.5 307.9,321.9 308.4,320.5 308.9,321.7 309.4,321.3 309.9,321 310.3,322.8 310.8,322.6 311.3,324 311.8,321.4"/>
<path stroke="#f5242c" stroke-width="1.15" d="M68.2,320.3 68.7,320.3 69.2,320.7 69.7,320.4 70.1,319.9 70.6,320.3 71.1,320.5 71.6,320 72.1,319.7 72.6,319.8 73.1,320.8 73.6,320 74,320.4 74.5,320 75,320.2 75.5,320.5 76,320.7 76.5,320.5 77,320.3 77.5,321.1 77.9,321.3 78.4,321.2 78.9,320.5 79.4,320.1 79.9,321 80.4,321.2 80.9,321.1 81.4,320.9 81.8,321 82.3,320.2 82.8,319.6 83.3,319.6 83.8,319.5 84.3,319.9 84.8,319.8 85.3,320.6 85.7,320 86.2,319.7 86.7,320.4 87.2,320.3 87.7,320.8 88.2,321 88.7,321.4 89.1,320.8 89.6,320.6 90.1,320 90.6,320.3 91.1,319.9 91.6,320.4 92.1,319.6 92.6,319.6 93,319.6 93.5,319.1 94,319.6 94.5,319.7 95,319.1 95.5,319.6 96,319.9 96.5,320.2 96.9,319.8 97.4,319.1 97.9,319.1 98.4,318.6 98.9,319.7 99.4,319.7 99.9,320.2 100.4,319.9 100.8,320 101.3,319.9 101.8,319.4 102.3,319.7 102.8,319.3 103.3,320.4 103.8,320.2 104.3,320.4 104.7,321.3 105.2,320.8 105.7,319.8 106.2,320.1 106.7,320.9 107.2,320.4 107.7,320.3 108.2,320.5 108.6,319.7 109.1,320.6 109.6,319.6 110.1,320.3 110.6,321.1 111.1,320.1 111.6,320.4 112,320 112.5,319.8 113,320.6 113.5,320.5 114,321.8 114.5,321.6 115,321.2 115.5,321.2 115.9,320.8 116.4,320.9 116.9,320.3 117.4,320.1 117.9,320.6 118.4,320.5 118.9,320.8 119.4,321.1 119.8,320.9 120.3,321 120.8,320.3 121.3,320.1 121.8,320.3 122.3,319.2 122.8,319.4 123.3,319.4 123.7,320.3 124.2,320 124.7,320.3 125.2,321.1 125.7,320.4 126.2,320.1 126.7,319.9 127.2,320.4 127.6,320.1 128.1,319.6 128.6,320.4 129.1,319.5 129.6,320.7 130.1,320.8 130.6,320.8 131,321 131.5,321.4 132,320.1 132.5,320.4 133,320.3 133.5,320.5 134,320.6 134.5,320.5 134.9,320.8 135.4,321.3 135.9,320.8 136.4,321.1 136.9,320.4 137.4,320.4 137.9,320.8 138.4,320 138.8,320.8 139.3,320 139.8,320.7 140.3,320.4 140.8,320.4 141.3,320.8 141.8,320.7 142.3,321 142.7,321.1 143.2,321 143.7,322 144.2,321.5 144.7,322 145.2,321.9 145.7,321.4 146.2,321.3 146.6,320.2 147.1,320.1 147.6,320.2 148.1,320.5 148.6,320.1 149.1,319.7 149.6,319.8 150,320.2 150.5,320.2 151,320.8 151.5,320.6 152,321.3 152.5,320.8 153,320.8 153.5,320.8 153.9,320.7 154.4,321.4 154.9,320.4 155.4,320.2 155.9,320.8 156.4,321.2 156.9,321.3 157.4,320.3 157.8,320.7 158.3,321 158.8,319.9 159.3,321 159.8,320.8 160.3,320 160.8,320.2 161.3,320.5 161.7,319.4 162.2,320.7 162.7,320.2 163.2,320.3 163.7,320.9 164.2,320.7 164.7,320.6 165.2,320.2 165.6,320.6 166.1,320.6 166.6,320.8 167.1,320.2 167.6,321.2 168.1,320 168.6,320.5 169.1,320.4 169.5,321.3 170,320.7 170.5,320.2 171,319.4 171.5,320.4 172,320.7 172.5,320.3 172.9,320.5 173.4,321 173.9,321 174.4,321 174.9,320.6 175.4,320.7 175.9,320 176.4,320.1 176.8,320.3 177.3,320.7 177.8,320.1 178.3,320.6 178.8,319.6 179.3,320.1 179.8,319.4 180.3,320.2 180.7,319.7 181.2,320.2 181.7,320.1 182.2,320.1 182.7,319.5 183.2,318.1 183.7,318.1 184.2,318 184.6,317.6 185.1,317.2 185.6,317.3 186.1,316.2 186.6,314.2 187.1,312 187.6,309.6 188.1,306 188.5,302.7 189,298.6 189.5,294.5 190,289.1 190.5,284.5 191,280.8 191.5,278 191.9,274.8 192.4,275.9 192.9,279 193.4,283.5 193.9,291.8 194.4,301.8 194.9,313.5 195.4,324.5 195.8,333.1 196.3,341.7 196.8,347.7 197.3,352.2 197.8,356.1 198.3,355.3 198.8,355 199.3,352.7 199.7,349.7 200.2,345.8 200.7,342 201.2,338.5 201.7,335.3 202.2,332.4 202.7,330.5 203.2,327.8 203.6,327.3 204.1,325.5 204.6,324.3 205.1,324.5 205.6,323.9 206.1,323.1 206.6,323.5 207.1,323.5 207.5,324.3 208,322.7 208.5,322.7 209,322.3 209.5,321.9 210,322.8 210.5,322.7 210.9,322.5 211.4,322 211.9,321.7 212.4,320.8 212.9,320.7 213.4,321.2 213.9,321.5 214.4,320.7 214.8,321.7 215.3,321.2 215.8,320.6 216.3,320.9 216.8,320.8 217.3,320.5 217.8,320.8 218.3,321.2 218.7,321.5 219.2,321.1 219.7,321.1 220.2,320.7 220.7,321.7 221.2,321.4 221.7,321.3 222.2,321.3 222.6,322.1 223.1,321.9 223.6,322.1 224.1,322.8 224.6,323.5 225.1,322.4 225.6,321 226.1,321.2 226.5,321.2 227,321.8 227.5,321.7 228,323.1 228.5,323 229,323 229.5,322.5 230,321.7 230.4,321.6 230.9,321.9 231.4,322.5 231.9,321.6 232.4,321.7 232.9,321.4 233.4,321.7 233.8,321.5 234.3,321.4 234.8,321.2 235.3,321.5 235.8,321.3 236.3,321.1 236.8,321.1 237.3,322.3 237.7,321.3 238.2,321.7 238.7,321.3 239.2,321.5 239.7,321.2 240.2,321.5 240.7,320.1 241.2,320.6 241.6,320.4 242.1,320.5 242.6,321.2 243.1,321 243.6,321.1 244.1,321 244.6,321.5 245.1,321.2 245.5,320.7 246,320.7 246.5,320.1 247,321 247.5,319.9 248,320 248.5,321.1 249,320.7 249.4,321.3 249.9,320.9 250.4,322 250.9,321.7 251.4,322.1 251.9,321.9 252.4,321.2 252.8,322.2 253.3,322.9 253.8,322.4 254.3,322.4 254.8,321.2 255.3,321.7 255.8,321.8 256.3,320.8 256.7,321.3 257.2,321.3 257.7,321.8 258.2,320.6 258.7,321.2 259.2,322 259.7,321.5 260.2,321.5 260.6,321 261.1,321.3 261.6,322.1 262.1,322 262.6,321 263.1,321.8 263.6,322.7 264.1,322.5 264.5,322.8 265,321.8 265.5,321.4 266,322 266.5,321 267,321.4 267.5,321.4 268,321.9 268.4,322 268.9,322.3 269.4,321.8 269.9,321.7 270.4,321.3 270.9,322 271.4,322.1 271.8,321.8 272.3,321.4 272.8,321.7 273.3,322 273.8,321.7 274.3,321.4 274.8,321.7 275.3,320.6 275.7,321 276.2,320.9 276.7,321.5 277.2,320.9 277.7,322.1 278.2,321.7 278.7,322.1 279.2,322.7 279.6,322.6 280.1,321.3 280.6,321.9 281.1,321.6 281.6,322.1 282.1,323.6 282.6,322.3 283.1,322.7 283.5,322.5 284,322.3 284.5,322.5 285,322.1 285.5,321.1 286,321.5 286.5,321.6 287,321.9 287.4,321.2 287.9,321.6 288.4,321.6 288.9,322.3 289.4,322.5 289.9,322.7 290.4,323.1 290.9,322 291.3,322.6 291.8,322.4 292.3,322.6 292.8,322 293.3,321.6 293.8,322.1 294.3,321.8 294.7,322.7 295.2,321.8 295.7,321.8 296.2,321.1 296.7,322 297.2,322.5 297.7,322.2 298.2,322.7 298.6,321.8 299.1,322 299.6,322.1 300.1,322.1 300.6,321.6 301.1,321.9 301.6,322 302.1,322.5 302.5,321.4 303,321.8 303.5,321.7 304,322.1 304.5,321.4 305,322.8 305.5,321.6 306,322.5 306.4,322.5 306.9,322.5 307.4,321.9 307.9,322 308.4,321.9 308.9,322 309.4,322.8 309.9,322 310.3,321.6 310.8,322 311.3,321.9 311.8,321.9"/>
</g>
<path d="M232,34.3H254" stroke="#707070" stroke-width="1.0" fill="none"/>
<path d="M232,48.3H254" stroke="#f5242c" stroke-width="1.0" fill="none"/>
<text x="256.9" y="37.8" font-size="10.4" font-weight="bold" fill="#1c1c1c" textLength="44.2" lengthAdjust="spacingAndGlyphs">Before UV</text>
<text x="256.9" y="51.7" font-size="10.4" font-weight="bold" fill="#1c1c1c" textLength="38.4" lengthAdjust="spacingAndGlyphs">After UV</text>
<path d="M232,152.6H254" stroke="#707070" stroke-width="1.0" fill="none"/>
<path d="M232,166.4H254" stroke="#f5242c" stroke-width="1.0" fill="none"/>
<text x="256.9" y="156.1" font-size="10.4" font-weight="bold" fill="#1c1c1c" textLength="44.2" lengthAdjust="spacingAndGlyphs">Before UV</text>
<text x="256.9" y="169.8" font-size="10.4" font-weight="bold" fill="#1c1c1c" textLength="38.4" lengthAdjust="spacingAndGlyphs">After UV</text>
<path d="M232,273.9H254" stroke="#707070" stroke-width="1.5" fill="none"/>
<path d="M232,287.9H254" stroke="#f5242c" stroke-width="1.5" fill="none"/>
<text x="256.9" y="277.4" font-size="10.4" font-weight="bold" fill="#1c1c1c" textLength="44.2" lengthAdjust="spacingAndGlyphs">Before UV</text>
<text x="256.9" y="291.3" font-size="10.4" font-weight="bold" fill="#1c1c1c" textLength="38.4" lengthAdjust="spacingAndGlyphs">After UV</text>
<text x="74.7" y="40.7" font-size="12.6" font-weight="bold" fill="#c2571a" textLength="45.3" lengthAdjust="spacingAndGlyphs">Complex</text>
<text x="125.4" y="40.7" font-size="12.6" font-weight="bold" fill="#c2571a">1</text>
<text x="75.0" y="158.3" font-size="12.6" font-weight="bold" fill="#34541e" textLength="45.3" lengthAdjust="spacingAndGlyphs">Complex</text>
<text x="125.2" y="158.3" font-size="12.6" font-weight="bold" fill="#34541e" textLength="5.6" lengthAdjust="spacingAndGlyphs">2</text>
<text x="75.0" y="278.1" font-size="12.2" font-weight="bold" fill="#7d5a08" textLength="31.1" lengthAdjust="spacingAndGlyphs">TEPE</text>
<text x="206.4" y="102.1" font-size="10" font-weight="bold" fill="#8a1a22" textLength="38.6" lengthAdjust="spacingAndGlyphs"><tspan font-style="italic">g</tspan> = 2.004</text>
<text x="206.9" y="203.6" font-size="10" font-weight="bold" fill="#125c4a" textLength="38.4" lengthAdjust="spacingAndGlyphs"><tspan font-style="italic">g</tspan> = 2.004</text>
<text x="209.0" y="341.7" font-size="10" font-weight="bold" fill="#9a7414" textLength="38.1" lengthAdjust="spacingAndGlyphs"><tspan font-style="italic">g</tspan> = 2.004</text>
<text x="126.0" y="418.2" font-size="13.8" font-weight="bold" fill="#0c0c0c" textLength="126.6" lengthAdjust="spacingAndGlyphs">Magnetic field / Gauss</text>
<text font-size="15.6" font-weight="bold" fill="#111" transform="translate(21.2,251.6) rotate(-90)" textLength="103.8" lengthAdjust="spacingAndGlyphs">Intensity / a.u.</text>
<text x="10.8" y="16.2" font-size="13.4" font-weight="bold" fill="#111" textLength="16.2" lengthAdjust="spacingAndGlyphs">(a)</text>
</g>
<g id="panelB">
<path d="M358.0,161.8L511.4,161.8L559.3,67.7L452.8,67.7Z" fill="#ededed"/>
<path d="M377.2,161.8L466.1,67.7M396.4,161.8L479.4,67.7M415.5,161.8L492.7,67.7M434.7,161.8L506,67.7M453.9,161.8L519.4,67.7M473,161.8L532.7,67.7M492.2,161.8L546,67.7" stroke="#dcdcdc" stroke-width="0.6" fill="none"/>
<path d="M358.0,161.8L358.0,96.7L452.8,23.3L452.8,67.7Z" fill="#e5f6f4" stroke="#b4bcbc" stroke-width="0.7"/>
<path d="M375.5,144.5V83.2M392.1,127.9V70.3M407,113.2V58.8M420.3,100V48.5M432.3,88V39.1M443.3,77.2V30.7" stroke="#d4ecea" stroke-width="0.7" fill="none"/>
<rect x="452.8" y="23.3" width="106.5" height="44.4" fill="#ffffdc" stroke="#b8b8a8" stroke-width="0.7"/>
<path d="M466.1,23.3V67.7M479.4,23.3V67.7M492.7,23.3V67.7M506,23.3V67.7M519.4,23.3V67.7M532.7,23.3V67.7M546,23.3V67.7" stroke="#f0f0c8" stroke-width="0.7" fill="none"/>
<g font-weight="bold" font-size="8.3" fill="#a82c24"><text x="514.6" y="33.4" textLength="40.6" lengthAdjust="spacingAndGlyphs"><tspan font-style="italic">&#955;</tspan><tspan font-size="5.6" dy="1.6">ex</tspan><tspan dy="-1.6"> = 365 nm</tspan></text><text x="514.6" y="-35.6" transform="scale(1,-1)" opacity="0.22" textLength="40.6" lengthAdjust="spacingAndGlyphs"><tspan font-style="italic">&#955;</tspan><tspan font-size="5.6" dy="-1.6">ex</tspan><tspan dy="1.6"> = 365 nm</tspan></text></g>
<path d="M448.4,72.1L448.4,72 449.5,71.9 450.5,71.8 451.6,71.8 452.7,71.7 453.8,71.7 454.9,71.7 456,71.7 457.1,71.7 458.1,71.7 459.2,71.7 460.3,71.7 461.4,71.7 462.5,71.7 463.6,71.7 464.7,71.7 465.8,71.8 466.8,71.8 467.9,71.8 469,71.8 470.1,71.8 471.2,71.8 472.3,71.8 473.4,71.8 474.5,71.8 475.5,71.8 476.6,71.8 477.7,71.8 478.8,71.8 479.9,71.8 481,71.8 482.1,71.8 483.1,71.8 484.2,71.8 485.3,71.8 486.4,71.8 487.5,71.8 488.6,71.8 489.7,71.8 490.8,71.8 491.8,71.8 492.9,71.8 494,71.8 495.1,71.8 496.2,71.8 497.3,71.8 498.4,71.8 499.5,71.7 500.5,71.7 501.6,71.7 502.7,71.7 503.8,71.6 504.9,71.6 506,71.6 507.1,71.5 508.1,71.5 509.2,71.4 510.3,71.3 511.4,71.3 512.5,71.2 513.6,71.1 514.7,71 515.8,71 516.8,70.9 517.9,70.8 519,70.7 520.1,70.7 521.2,70.6 522.3,70.6 523.4,70.6 524.5,70.5 525.5,70.5 526.6,70.5 527.7,70.5 528.8,70.6 529.9,70.6 531,70.6 532.1,70.6 533.1,70.6 534.2,70.6 535.3,70.6 536.4,70.6 537.5,70.7 538.6,70.7 539.7,70.7 540.8,70.7 541.8,70.8 542.9,70.8 544,70.8 545.1,70.8 546.2,70.9 547.3,70.9 548.4,70.9 549.5,71 550.5,71 551.6,71 552.7,71.1 553.8,71.1 554.9,71.1 556,71.1 557.1,71.2L557.1,72.1Z" fill="rgba(128,46,40,0.82)"/>
<path d="M448.4,72 449.5,71.9 450.5,71.8 451.6,71.8 452.7,71.7 453.8,71.7 454.9,71.7 456,71.7 457.1,71.7 458.1,71.7 459.2,71.7 460.3,71.7 461.4,71.7 462.5,71.7 463.6,71.7 464.7,71.7 465.8,71.8 466.8,71.8 467.9,71.8 469,71.8 470.1,71.8 471.2,71.8 472.3,71.8 473.4,71.8 474.5,71.8 475.5,71.8 476.6,71.8 477.7,71.8 478.8,71.8 479.9,71.8 481,71.8 482.1,71.8 483.1,71.8 484.2,71.8 485.3,71.8 486.4,71.8 487.5,71.8 488.6,71.8 489.7,71.8 490.8,71.8 491.8,71.8 492.9,71.8 494,71.8 495.1,71.8 496.2,71.8 497.3,71.8 498.4,71.8 499.5,71.7 500.5,71.7 501.6,71.7 502.7,71.7 503.8,71.6 504.9,71.6 506,71.6 507.1,71.5 508.1,71.5 509.2,71.4 510.3,71.3 511.4,71.3 512.5,71.2 513.6,71.1 514.7,71 515.8,71 516.8,70.9 517.9,70.8 519,70.7 520.1,70.7 521.2,70.6 522.3,70.6 523.4,70.6 524.5,70.5 525.5,70.5 526.6,70.5 527.7,70.5 528.8,70.6 529.9,70.6 531,70.6 532.1,70.6 533.1,70.6 534.2,70.6 535.3,70.6 536.4,70.6 537.5,70.7 538.6,70.7 539.7,70.7 540.8,70.7 541.8,70.8 542.9,70.8 544,70.8 545.1,70.8 546.2,70.9 547.3,70.9 548.4,70.9 549.5,71 550.5,71 551.6,71 552.7,71.1 553.8,71.1 554.9,71.1 556,71.1 557.1,71.2" fill="none" stroke="rgb(104,36,32)" stroke-width="1.05" stroke-linejoin="round"/>
<path d="M443.3,77.2L443.3,77 444.4,76.9 445.5,76.8 446.6,76.8 447.7,76.7 448.8,76.7 449.9,76.7 451.1,76.6 452.2,76.6 453.3,76.7 454.4,76.7 455.5,76.7 456.6,76.7 457.7,76.7 458.8,76.7 460,76.8 461.1,76.8 462.2,76.8 463.3,76.8 464.4,76.8 465.5,76.8 466.6,76.8 467.7,76.8 468.9,76.9 470,76.9 471.1,76.9 472.2,76.9 473.3,76.9 474.4,76.9 475.5,76.9 476.6,76.9 477.8,76.9 478.9,76.9 480,76.9 481.1,76.9 482.2,76.9 483.3,76.9 484.4,76.9 485.5,76.8 486.6,76.8 487.8,76.8 488.9,76.8 490,76.8 491.1,76.8 492.2,76.8 493.3,76.8 494.4,76.7 495.5,76.7 496.7,76.7 497.8,76.6 498.9,76.6 500,76.5 501.1,76.4 502.2,76.4 503.3,76.3 504.4,76.2 505.6,76.1 506.7,76 507.8,75.9 508.9,75.8 510,75.7 511.1,75.6 512.2,75.5 513.3,75.4 514.5,75.3 515.6,75.2 516.7,75.2 517.8,75.2 518.9,75.1 520,75.1 521.1,75.1 522.2,75.1 523.3,75.1 524.5,75.1 525.6,75.2 526.7,75.2 527.8,75.2 528.9,75.2 530,75.2 531.1,75.3 532.2,75.3 533.4,75.3 534.5,75.4 535.6,75.4 536.7,75.4 537.8,75.5 538.9,75.5 540,75.5 541.1,75.6 542.3,75.6 543.4,75.7 544.5,75.7 545.6,75.7 546.7,75.8 547.8,75.8 548.9,75.9 550,75.9 551.2,75.9 552.3,76 553.4,76 554.5,76.1L554.5,77.2Z" fill="rgba(138,43,38,0.82)"/>
<path d="M443.3,77 444.4,76.9 445.5,76.8 446.6,76.8 447.7,76.7 448.8,76.7 449.9,76.7 451.1,76.6 452.2,76.6 453.3,76.7 454.4,76.7 455.5,76.7 456.6,76.7 457.7,76.7 458.8,76.7 460,76.8 461.1,76.8 462.2,76.8 463.3,76.8 464.4,76.8 465.5,76.8 466.6,76.8 467.7,76.8 468.9,76.9 470,76.9 471.1,76.9 472.2,76.9 473.3,76.9 474.4,76.9 475.5,76.9 476.6,76.9 477.8,76.9 478.9,76.9 480,76.9 481.1,76.9 482.2,76.9 483.3,76.9 484.4,76.9 485.5,76.8 486.6,76.8 487.8,76.8 488.9,76.8 490,76.8 491.1,76.8 492.2,76.8 493.3,76.8 494.4,76.7 495.5,76.7 496.7,76.7 497.8,76.6 498.9,76.6 500,76.5 501.1,76.4 502.2,76.4 503.3,76.3 504.4,76.2 505.6,76.1 506.7,76 507.8,75.9 508.9,75.8 510,75.7 511.1,75.6 512.2,75.5 513.3,75.4 514.5,75.3 515.6,75.2 516.7,75.2 517.8,75.2 518.9,75.1 520,75.1 521.1,75.1 522.2,75.1 523.3,75.1 524.5,75.1 525.6,75.2 526.7,75.2 527.8,75.2 528.9,75.2 530,75.2 531.1,75.3 532.2,75.3 533.4,75.3 534.5,75.4 535.6,75.4 536.7,75.4 537.8,75.5 538.9,75.5 540,75.5 541.1,75.6 542.3,75.6 543.4,75.7 544.5,75.7 545.6,75.7 546.7,75.8 547.8,75.8 548.9,75.9 550,75.9 551.2,75.9 552.3,76 553.4,76 554.5,76.1" fill="none" stroke="rgb(109,31,28)" stroke-width="1.02" stroke-linejoin="round"/>
<path d="M437.9,82.4L437.9,82.3 439.1,82.1 440.2,82 441.4,82 442.5,81.9 443.6,81.8 444.8,81.8 445.9,81.8 447.1,81.8 448.2,81.8 449.3,81.8 450.5,81.8 451.6,81.8 452.7,81.9 453.9,81.9 455,81.9 456.2,82 457.3,82 458.4,82 459.6,82 460.7,82 461.9,82 463,82.1 464.1,82.1 465.3,82.1 466.4,82.1 467.5,82.1 468.7,82.1 469.8,82.1 471,82.1 472.1,82.1 473.2,82.1 474.4,82.1 475.5,82.1 476.7,82.1 477.8,82.1 478.9,82 480.1,82 481.2,82 482.3,82 483.5,82 484.6,82 485.8,81.9 486.9,81.9 488,81.9 489.2,81.8 490.3,81.8 491.5,81.7 492.6,81.6 493.7,81.5 494.9,81.4 496,81.3 497.1,81.2 498.3,81.1 499.4,81 500.6,80.9 501.7,80.7 502.8,80.6 504,80.5 505.1,80.3 506.3,80.2 507.4,80.1 508.5,80 509.7,80 510.8,79.9 511.9,79.9 513.1,79.9 514.2,79.9 515.4,79.9 516.5,79.9 517.6,79.9 518.8,79.9 519.9,79.9 521.1,79.9 522.2,80 523.3,80 524.5,80 525.6,80 526.7,80.1 527.9,80.1 529,80.2 530.2,80.2 531.3,80.3 532.4,80.3 533.6,80.3 534.7,80.4 535.9,80.4 537,80.5 538.1,80.6 539.3,80.6 540.4,80.7 541.5,80.7 542.7,80.8 543.8,80.8 545,80.9 546.1,80.9 547.2,81 548.4,81 549.5,81.1 550.7,81.1 551.8,81.2L551.8,82.4Z" fill="rgba(147,39,36,0.82)"/>
<path d="M437.9,82.3 439.1,82.1 440.2,82 441.4,82 442.5,81.9 443.6,81.8 444.8,81.8 445.9,81.8 447.1,81.8 448.2,81.8 449.3,81.8 450.5,81.8 451.6,81.8 452.7,81.9 453.9,81.9 455,81.9 456.2,82 457.3,82 458.4,82 459.6,82 460.7,82 461.9,82 463,82.1 464.1,82.1 465.3,82.1 466.4,82.1 467.5,82.1 468.7,82.1 469.8,82.1 471,82.1 472.1,82.1 473.2,82.1 474.4,82.1 475.5,82.1 476.7,82.1 477.8,82.1 478.9,82 480.1,82 481.2,82 482.3,82 483.5,82 484.6,82 485.8,81.9 486.9,81.9 488,81.9 489.2,81.8 490.3,81.8 491.5,81.7 492.6,81.6 493.7,81.5 494.9,81.4 496,81.3 497.1,81.2 498.3,81.1 499.4,81 500.6,80.9 501.7,80.7 502.8,80.6 504,80.5 505.1,80.3 506.3,80.2 507.4,80.1 508.5,80 509.7,80 510.8,79.9 511.9,79.9 513.1,79.9 514.2,79.9 515.4,79.9 516.5,79.9 517.6,79.9 518.8,79.9 519.9,79.9 521.1,79.9 522.2,80 523.3,80 524.5,80 525.6,80 526.7,80.1 527.9,80.1 529,80.2 530.2,80.2 531.3,80.3 532.4,80.3 533.6,80.3 534.7,80.4 535.9,80.4 537,80.5 538.1,80.6 539.3,80.6 540.4,80.7 541.5,80.7 542.7,80.8 543.8,80.8 545,80.9 546.1,80.9 547.2,81 548.4,81 549.5,81.1 550.7,81.1 551.8,81.2" fill="none" stroke="rgb(114,25,25)" stroke-width="0.99" stroke-linejoin="round"/>
<path d="M432.3,88L432.3,87.8 433.5,87.5 434.7,87.3 435.8,87.2 437,87.1 438.2,87 439.3,87 440.5,86.9 441.7,86.9 442.8,87 444,87 445.2,87 446.3,87 447.5,87.1 448.7,87.1 449.8,87.2 451,87.2 452.2,87.2 453.3,87.3 454.5,87.3 455.7,87.3 456.8,87.3 458,87.4 459.2,87.4 460.3,87.4 461.5,87.4 462.7,87.4 463.8,87.4 465,87.4 466.2,87.4 467.3,87.4 468.5,87.4 469.7,87.3 470.8,87.3 472,87.3 473.2,87.3 474.3,87.2 475.5,87.2 476.7,87.2 477.8,87.1 479,87 480.2,87 481.3,86.9 482.5,86.8 483.7,86.6 484.8,86.5 486,86.3 487.2,86.2 488.3,86 489.5,85.8 490.7,85.6 491.8,85.4 493,85.2 494.2,85 495.3,84.8 496.5,84.6 497.7,84.4 498.8,84.2 500,84.1 501.2,83.9 502.3,83.8 503.5,83.8 504.7,83.7 505.8,83.7 507,83.7 508.2,83.8 509.3,83.8 510.5,83.8 511.6,83.8 512.8,83.9 514,83.9 515.1,83.9 516.3,84 517.5,84.1 518.6,84.1 519.8,84.2 521,84.2 522.1,84.3 523.3,84.4 524.5,84.5 525.6,84.5 526.8,84.6 528,84.7 529.1,84.8 530.3,84.9 531.5,85 532.6,85 533.8,85.1 535,85.2 536.1,85.3 537.3,85.4 538.5,85.5 539.6,85.6 540.8,85.7 542,85.7 543.1,85.8 544.3,85.9 545.5,86 546.6,86.1 547.8,86.1 549,86.2L549,88Z" fill="rgba(160,35,34,0.82)"/>
<path d="M432.3,87.8 433.5,87.5 434.7,87.3 435.8,87.2 437,87.1 438.2,87 439.3,87 440.5,86.9 441.7,86.9 442.8,87 444,87 445.2,87 446.3,87 447.5,87.1 448.7,87.1 449.8,87.2 451,87.2 452.2,87.2 453.3,87.3 454.5,87.3 455.7,87.3 456.8,87.3 458,87.4 459.2,87.4 460.3,87.4 461.5,87.4 462.7,87.4 463.8,87.4 465,87.4 466.2,87.4 467.3,87.4 468.5,87.4 469.7,87.3 470.8,87.3 472,87.3 473.2,87.3 474.3,87.2 475.5,87.2 476.7,87.2 477.8,87.1 479,87 480.2,87 481.3,86.9 482.5,86.8 483.7,86.6 484.8,86.5 486,86.3 487.2,86.2 488.3,86 489.5,85.8 490.7,85.6 491.8,85.4 493,85.2 494.2,85 495.3,84.8 496.5,84.6 497.7,84.4 498.8,84.2 500,84.1 501.2,83.9 502.3,83.8 503.5,83.8 504.7,83.7 505.8,83.7 507,83.7 508.2,83.8 509.3,83.8 510.5,83.8 511.6,83.8 512.8,83.9 514,83.9 515.1,83.9 516.3,84 517.5,84.1 518.6,84.1 519.8,84.2 521,84.2 522.1,84.3 523.3,84.4 524.5,84.5 525.6,84.5 526.8,84.6 528,84.7 529.1,84.8 530.3,84.9 531.5,85 532.6,85 533.8,85.1 535,85.2 536.1,85.3 537.3,85.4 538.5,85.5 539.6,85.6 540.8,85.7 542,85.7 543.1,85.8 544.3,85.9 545.5,86 546.6,86.1 547.8,86.1 549,86.2" fill="none" stroke="rgb(119,20,21)" stroke-width="0.96" stroke-linejoin="round"/>
<path d="M426.5,93.8L426.5,93.5 427.7,93.1 428.9,92.8 430.1,92.6 431.3,92.5 432.5,92.3 433.7,92.2 434.8,92.2 436,92.2 437.2,92.2 438.4,92.3 439.6,92.3 440.8,92.4 442,92.4 443.2,92.5 444.4,92.5 445.6,92.6 446.8,92.7 448,92.7 449.2,92.7 450.4,92.8 451.6,92.8 452.8,92.8 454,92.8 455.2,92.8 456.4,92.8 457.6,92.8 458.7,92.8 459.9,92.8 461.1,92.7 462.3,92.7 463.5,92.7 464.7,92.6 465.9,92.5 467.1,92.4 468.3,92.3 469.5,92.2 470.7,92.1 471.9,91.9 473.1,91.7 474.3,91.5 475.5,91.3 476.7,91 477.9,90.8 479.1,90.5 480.3,90.2 481.5,89.9 482.7,89.6 483.8,89.2 485,88.9 486.2,88.6 487.4,88.4 488.6,88.1 489.8,87.9 491,87.7 492.2,87.6 493.4,87.5 494.6,87.4 495.8,87.4 497,87.4 498.2,87.5 499.4,87.5 500.6,87.5 501.8,87.6 503,87.6 504.2,87.7 505.4,87.7 506.6,87.8 507.8,87.9 508.9,88 510.1,88.1 511.3,88.2 512.5,88.3 513.7,88.4 514.9,88.5 516.1,88.6 517.3,88.7 518.5,88.9 519.7,89 520.9,89.1 522.1,89.3 523.3,89.4 524.5,89.5 525.7,89.6 526.9,89.8 528.1,89.9 529.3,90 530.5,90.2 531.7,90.3 532.9,90.4 534,90.5 535.2,90.7 536.4,90.8 537.6,90.9 538.8,91 540,91.1 541.2,91.2 542.4,91.3 543.6,91.4 544.8,91.5 546,91.6L546,93.8Z" fill="rgba(192,29,29,0.84)"/>
<path d="M426.5,93.5 427.7,93.1 428.9,92.8 430.1,92.6 431.3,92.5 432.5,92.3 433.7,92.2 434.8,92.2 436,92.2 437.2,92.2 438.4,92.3 439.6,92.3 440.8,92.4 442,92.4 443.2,92.5 444.4,92.5 445.6,92.6 446.8,92.7 448,92.7 449.2,92.7 450.4,92.8 451.6,92.8 452.8,92.8 454,92.8 455.2,92.8 456.4,92.8 457.6,92.8 458.7,92.8 459.9,92.8 461.1,92.7 462.3,92.7 463.5,92.7 464.7,92.6 465.9,92.5 467.1,92.4 468.3,92.3 469.5,92.2 470.7,92.1 471.9,91.9 473.1,91.7 474.3,91.5 475.5,91.3 476.7,91 477.9,90.8 479.1,90.5 480.3,90.2 481.5,89.9 482.7,89.6 483.8,89.2 485,88.9 486.2,88.6 487.4,88.4 488.6,88.1 489.8,87.9 491,87.7 492.2,87.6 493.4,87.5 494.6,87.4 495.8,87.4 497,87.4 498.2,87.5 499.4,87.5 500.6,87.5 501.8,87.6 503,87.6 504.2,87.7 505.4,87.7 506.6,87.8 507.8,87.9 508.9,88 510.1,88.1 511.3,88.2 512.5,88.3 513.7,88.4 514.9,88.5 516.1,88.6 517.3,88.7 518.5,88.9 519.7,89 520.9,89.1 522.1,89.3 523.3,89.4 524.5,89.5 525.7,89.6 526.9,89.8 528.1,89.9 529.3,90 530.5,90.2 531.7,90.3 532.9,90.4 534,90.5 535.2,90.7 536.4,90.8 537.6,90.9 538.8,91 540,91.1 541.2,91.2 542.4,91.3 543.6,91.4 544.8,91.5 546,91.6" fill="none" stroke="rgb(124,14,17)" stroke-width="0.93" stroke-linejoin="round"/>
<path d="M420.3,100L420.3,99.3 421.5,98.7 422.8,98.2 424,97.9 425.2,97.7 426.4,97.5 427.7,97.3 428.9,97.2 430.1,97.2 431.3,97.3 432.6,97.3 433.8,97.4 435,97.5 436.2,97.6 437.5,97.7 438.7,97.8 439.9,97.9 441.1,98 442.4,98 443.6,98.1 444.8,98.1 446,98.1 447.3,98.1 448.5,98.1 449.7,98.1 451,98.1 452.2,98 453.4,97.9 454.6,97.8 455.9,97.7 457.1,97.5 458.3,97.4 459.5,97.2 460.8,96.9 462,96.7 463.2,96.4 464.4,96.1 465.7,95.7 466.9,95.3 468.1,94.9 469.3,94.5 470.6,94.1 471.8,93.6 473,93.2 474.2,92.7 475.5,92.3 476.7,91.9 477.9,91.5 479.1,91.2 480.4,90.9 481.6,90.7 482.8,90.5 484,90.4 485.3,90.4 486.5,90.4 487.7,90.4 488.9,90.4 490.2,90.5 491.4,90.5 492.6,90.6 493.9,90.7 495.1,90.8 496.3,90.9 497.5,91 498.8,91.1 500,91.2 501.2,91.4 502.4,91.5 503.7,91.7 504.9,91.8 506.1,92 507.3,92.2 508.6,92.4 509.8,92.6 511,92.7 512.2,92.9 513.5,93.1 514.7,93.3 515.9,93.5 517.1,93.7 518.4,93.9 519.6,94.1 520.8,94.3 522,94.5 523.3,94.7 524.5,94.8 525.7,95 526.9,95.2 528.2,95.4 529.4,95.5 530.6,95.7 531.9,95.8 533.1,96 534.3,96.1 535.5,96.3 536.8,96.4 538,96.5 539.2,96.7 540.4,96.8 541.7,96.9 542.9,97L542.9,100Z" fill="rgba(248,12,16,0.88)"/>
<path d="M420.3,99.3 421.5,98.7 422.8,98.2 424,97.9 425.2,97.7 426.4,97.5 427.7,97.3 428.9,97.2 430.1,97.2 431.3,97.3 432.6,97.3 433.8,97.4 435,97.5 436.2,97.6 437.5,97.7 438.7,97.8 439.9,97.9 441.1,98 442.4,98 443.6,98.1 444.8,98.1 446,98.1 447.3,98.1 448.5,98.1 449.7,98.1 451,98.1 452.2,98 453.4,97.9 454.6,97.8 455.9,97.7 457.1,97.5 458.3,97.4 459.5,97.2 460.8,96.9 462,96.7 463.2,96.4 464.4,96.1 465.7,95.7 466.9,95.3 468.1,94.9 469.3,94.5 470.6,94.1 471.8,93.6 473,93.2 474.2,92.7 475.5,92.3 476.7,91.9 477.9,91.5 479.1,91.2 480.4,90.9 481.6,90.7 482.8,90.5 484,90.4 485.3,90.4 486.5,90.4 487.7,90.4 488.9,90.4 490.2,90.5 491.4,90.5 492.6,90.6 493.9,90.7 495.1,90.8 496.3,90.9 497.5,91 498.8,91.1 500,91.2 501.2,91.4 502.4,91.5 503.7,91.7 504.9,91.8 506.1,92 507.3,92.2 508.6,92.4 509.8,92.6 511,92.7 512.2,92.9 513.5,93.1 514.7,93.3 515.9,93.5 517.1,93.7 518.4,93.9 519.6,94.1 520.8,94.3 522,94.5 523.3,94.7 524.5,94.8 525.7,95 526.9,95.2 528.2,95.4 529.4,95.5 530.6,95.7 531.9,95.8 533.1,96 534.3,96.1 535.5,96.3 536.8,96.4 538,96.5 539.2,96.7 540.4,96.8 541.7,96.9 542.9,97" fill="none" stroke="rgb(130,10,14)" stroke-width="0.9" stroke-linejoin="round"/>
<path d="M413.8,106.4L413.8,105.6 415.1,104.7 416.3,104.2 417.6,103.8 418.8,103.4 420.1,103.1 421.4,102.9 422.6,102.8 423.9,102.8 425.1,102.8 426.4,102.9 427.6,103 428.9,103.2 430.2,103.3 431.4,103.4 432.7,103.6 433.9,103.7 435.2,103.8 436.5,103.9 437.7,103.9 439,104 440.2,104 441.5,103.9 442.7,103.9 444,103.8 445.3,103.7 446.5,103.5 447.8,103.3 449,103.1 450.3,102.8 451.5,102.5 452.8,102.1 454.1,101.7 455.3,101.3 456.6,100.8 457.8,100.2 459.1,99.6 460.4,99 461.6,98.4 462.9,97.7 464.1,97 465.4,96.3 466.6,95.6 467.9,94.9 469.2,94.3 470.4,93.7 471.7,93.2 472.9,92.7 474.2,92.3 475.4,92.1 476.7,91.9 478,91.8 479.2,91.8 480.5,91.8 481.7,91.9 483,91.9 484.3,92 485.5,92.1 486.8,92.3 488,92.4 489.3,92.6 490.5,92.7 491.8,92.9 493.1,93.1 494.3,93.3 495.6,93.6 496.8,93.8 498.1,94.1 499.3,94.3 500.6,94.6 501.9,94.9 503.1,95.2 504.4,95.5 505.6,95.8 506.9,96.1 508.2,96.4 509.4,96.7 510.7,97 511.9,97.3 513.2,97.6 514.4,97.9 515.7,98.2 517,98.5 518.2,98.8 519.5,99.1 520.7,99.4 522,99.6 523.2,99.9 524.5,100.1 525.8,100.4 527,100.6 528.3,100.9 529.5,101.1 530.8,101.3 532.1,101.5 533.3,101.7 534.6,101.9 535.8,102.1 537.1,102.2 538.3,102.4 539.6,102.5L539.6,106.4Z" fill="rgba(252,18,22,0.85)"/>
<path d="M413.8,105.6 415.1,104.7 416.3,104.2 417.6,103.8 418.8,103.4 420.1,103.1 421.4,102.9 422.6,102.8 423.9,102.8 425.1,102.8 426.4,102.9 427.6,103 428.9,103.2 430.2,103.3 431.4,103.4 432.7,103.6 433.9,103.7 435.2,103.8 436.5,103.9 437.7,103.9 439,104 440.2,104 441.5,103.9 442.7,103.9 444,103.8 445.3,103.7 446.5,103.5 447.8,103.3 449,103.1 450.3,102.8 451.5,102.5 452.8,102.1 454.1,101.7 455.3,101.3 456.6,100.8 457.8,100.2 459.1,99.6 460.4,99 461.6,98.4 462.9,97.7 464.1,97 465.4,96.3 466.6,95.6 467.9,94.9 469.2,94.3 470.4,93.7 471.7,93.2 472.9,92.7 474.2,92.3 475.4,92.1 476.7,91.9 478,91.8 479.2,91.8 480.5,91.8 481.7,91.9 483,91.9 484.3,92 485.5,92.1 486.8,92.3 488,92.4 489.3,92.6 490.5,92.7 491.8,92.9 493.1,93.1 494.3,93.3 495.6,93.6 496.8,93.8 498.1,94.1 499.3,94.3 500.6,94.6 501.9,94.9 503.1,95.2 504.4,95.5 505.6,95.8 506.9,96.1 508.2,96.4 509.4,96.7 510.7,97 511.9,97.3 513.2,97.6 514.4,97.9 515.7,98.2 517,98.5 518.2,98.8 519.5,99.1 520.7,99.4 522,99.6 523.2,99.9 524.5,100.1 525.8,100.4 527,100.6 528.3,100.9 529.5,101.1 530.8,101.3 532.1,101.5 533.3,101.7 534.6,101.9 535.8,102.1 537.1,102.2 538.3,102.4 539.6,102.5" fill="none" stroke="rgb(140,9,13)" stroke-width="0.88" stroke-linejoin="round"/>
<path d="M407,113.2L407,112.3 408.3,111.3 409.6,110.7 410.8,110.1 412.1,109.6 413.4,109.2 414.7,109 416,108.8 417.3,108.8 418.6,108.9 419.9,109 421.2,109.1 422.5,109.3 423.8,109.5 425.1,109.7 426.3,109.9 427.6,110 428.9,110.2 430.2,110.3 431.5,110.3 432.8,110.3 434.1,110.3 435.4,110.2 436.7,110.1 438,109.9 439.3,109.6 440.6,109.3 441.8,109 443.1,108.5 444.4,108.1 445.7,107.5 447,106.9 448.3,106.2 449.6,105.5 450.9,104.7 452.2,103.8 453.5,102.9 454.8,102 456.1,101 457.3,100.1 458.6,99.1 459.9,98.2 461.2,97.3 462.5,96.5 463.8,95.7 465.1,95 466.4,94.5 467.7,94 469,93.7 470.3,93.5 471.6,93.5 472.8,93.5 474.1,93.6 475.4,93.6 476.7,93.7 478,93.9 479.3,94 480.6,94.2 481.9,94.4 483.2,94.7 484.5,94.9 485.8,95.2 487.1,95.5 488.3,95.8 489.6,96.1 490.9,96.5 492.2,96.9 493.5,97.2 494.8,97.6 496.1,98 497.4,98.4 498.7,98.8 500,99.3 501.3,99.7 502.6,100.1 503.8,100.6 505.1,101 506.4,101.4 507.7,101.8 509,102.3 510.3,102.7 511.6,103.1 512.9,103.5 514.2,103.9 515.5,104.3 516.8,104.6 518.1,105 519.4,105.3 520.6,105.7 521.9,106 523.2,106.3 524.5,106.6 525.8,106.9 527.1,107.2 528.4,107.5 529.7,107.7 531,108 532.3,108.2 533.6,108.4 534.9,108.6 536.1,108.8L536.1,113.2Z" fill="rgba(255,28,32,0.81)"/>
<path d="M407,112.3 408.3,111.3 409.6,110.7 410.8,110.1 412.1,109.6 413.4,109.2 414.7,109 416,108.8 417.3,108.8 418.6,108.9 419.9,109 421.2,109.1 422.5,109.3 423.8,109.5 425.1,109.7 426.3,109.9 427.6,110 428.9,110.2 430.2,110.3 431.5,110.3 432.8,110.3 434.1,110.3 435.4,110.2 436.7,110.1 438,109.9 439.3,109.6 440.6,109.3 441.8,109 443.1,108.5 444.4,108.1 445.7,107.5 447,106.9 448.3,106.2 449.6,105.5 450.9,104.7 452.2,103.8 453.5,102.9 454.8,102 456.1,101 457.3,100.1 458.6,99.1 459.9,98.2 461.2,97.3 462.5,96.5 463.8,95.7 465.1,95 466.4,94.5 467.7,94 469,93.7 470.3,93.5 471.6,93.5 472.8,93.5 474.1,93.6 475.4,93.6 476.7,93.7 478,93.9 479.3,94 480.6,94.2 481.9,94.4 483.2,94.7 484.5,94.9 485.8,95.2 487.1,95.5 488.3,95.8 489.6,96.1 490.9,96.5 492.2,96.9 493.5,97.2 494.8,97.6 496.1,98 497.4,98.4 498.7,98.8 500,99.3 501.3,99.7 502.6,100.1 503.8,100.6 505.1,101 506.4,101.4 507.7,101.8 509,102.3 510.3,102.7 511.6,103.1 512.9,103.5 514.2,103.9 515.5,104.3 516.8,104.6 518.1,105 519.4,105.3 520.6,105.7 521.9,106 523.2,106.3 524.5,106.6 525.8,106.9 527.1,107.2 528.4,107.5 529.7,107.7 531,108 532.3,108.2 533.6,108.4 534.9,108.6 536.1,108.8" fill="none" stroke="rgb(151,9,13)" stroke-width="0.85" stroke-linejoin="round"/>
<path d="M399.7,120.4L399.7,119.1 401.1,118 402.4,117.1 403.7,116.3 405.1,115.5 406.4,114.8 407.7,114.3 409,114 410.4,114 411.7,114.2 413,114.3 414.3,114.6 415.7,114.9 417,115.3 418.3,115.6 419.7,116 421,116.2 422.3,116.5 423.6,116.7 425,116.8 426.3,116.8 427.6,116.7 429,116.5 430.3,116.3 431.6,116 432.9,115.6 434.3,115.1 435.6,114.5 436.9,113.8 438.2,113.1 439.6,112.2 440.9,111.3 442.2,110.3 443.6,109.2 444.9,108.1 446.2,106.9 447.5,105.7 448.9,104.5 450.2,103.2 451.5,102 452.8,100.8 454.2,99.6 455.5,98.6 456.8,97.6 458.2,96.8 459.5,96.1 460.8,95.6 462.1,95.2 463.5,95 464.8,95 466.1,95 467.4,95.1 468.8,95.2 470.1,95.4 471.4,95.6 472.8,95.8 474.1,96 475.4,96.3 476.7,96.6 478.1,97 479.4,97.4 480.7,97.8 482,98.2 483.4,98.6 484.7,99.1 486,99.6 487.4,100.1 488.7,100.6 490,101.1 491.3,101.7 492.7,102.2 494,102.8 495.3,103.4 496.7,103.9 498,104.5 499.3,105 500.6,105.6 502,106.2 503.3,106.7 504.6,107.3 505.9,107.8 507.3,108.3 508.6,108.9 509.9,109.4 511.3,109.8 512.6,110.3 513.9,110.8 515.2,111.2 516.6,111.7 517.9,112.1 519.2,112.5 520.5,112.9 521.9,113.2 523.2,113.6 524.5,113.9 525.9,114.2 527.2,114.5 528.5,114.8 529.8,115.1 531.2,115.3 532.5,115.6L532.5,120.4Z" fill="rgba(252,114,126,0.58)"/>
<path d="M399.7,119.1 401.1,118 402.4,117.1 403.7,116.3 405.1,115.5 406.4,114.8 407.7,114.3 409,114 410.4,114 411.7,114.2 413,114.3 414.3,114.6 415.7,114.9 417,115.3 418.3,115.6 419.7,116 421,116.2 422.3,116.5 423.6,116.7 425,116.8 426.3,116.8 427.6,116.7 429,116.5 430.3,116.3 431.6,116 432.9,115.6 434.3,115.1 435.6,114.5 436.9,113.8 438.2,113.1 439.6,112.2 440.9,111.3 442.2,110.3 443.6,109.2 444.9,108.1 446.2,106.9 447.5,105.7 448.9,104.5 450.2,103.2 451.5,102 452.8,100.8 454.2,99.6 455.5,98.6 456.8,97.6 458.2,96.8 459.5,96.1 460.8,95.6 462.1,95.2 463.5,95 464.8,95 466.1,95 467.4,95.1 468.8,95.2 470.1,95.4 471.4,95.6 472.8,95.8 474.1,96 475.4,96.3 476.7,96.6 478.1,97 479.4,97.4 480.7,97.8 482,98.2 483.4,98.6 484.7,99.1 486,99.6 487.4,100.1 488.7,100.6 490,101.1 491.3,101.7 492.7,102.2 494,102.8 495.3,103.4 496.7,103.9 498,104.5 499.3,105 500.6,105.6 502,106.2 503.3,106.7 504.6,107.3 505.9,107.8 507.3,108.3 508.6,108.9 509.9,109.4 511.3,109.8 512.6,110.3 513.9,110.8 515.2,111.2 516.6,111.7 517.9,112.1 519.2,112.5 520.5,112.9 521.9,113.2 523.2,113.6 524.5,113.9 525.9,114.2 527.2,114.5 528.5,114.8 529.8,115.1 531.2,115.3 532.5,115.6" fill="none" stroke="rgb(176,36,48)" stroke-width="0.82" stroke-linejoin="round"/>
<path d="M392.1,127.9L392.1,126.6 393.5,125.4 394.8,124.3 396.2,123.3 397.6,122.4 398.9,121.5 400.3,120.8 401.7,120.5 403,120.5 404.4,120.7 405.8,120.9 407.1,121.2 408.5,121.6 409.9,122 411.2,122.5 412.6,122.9 414,123.2 415.3,123.5 416.7,123.6 418.1,123.7 419.4,123.7 420.8,123.5 422.1,123.3 423.5,122.9 424.9,122.4 426.2,121.8 427.6,121.1 429,120.3 430.3,119.4 431.7,118.3 433.1,117.2 434.4,115.9 435.8,114.6 437.2,113.2 438.5,111.7 439.9,110.2 441.3,108.7 442.6,107.1 444,105.6 445.4,104.1 446.7,102.7 448.1,101.4 449.5,100.2 450.8,99.1 452.2,98.2 453.5,97.5 454.9,97 456.3,96.8 457.6,96.7 459,96.7 460.4,96.8 461.7,96.9 463.1,97.1 464.5,97.3 465.8,97.6 467.2,97.9 468.6,98.3 469.9,98.6 471.3,99.1 472.7,99.5 474,100 475.4,100.5 476.8,101.1 478.1,101.7 479.5,102.3 480.9,102.9 482.2,103.6 483.6,104.2 484.9,104.9 486.3,105.6 487.7,106.3 489,107 490.4,107.7 491.8,108.4 493.1,109.1 494.5,109.9 495.9,110.6 497.2,111.3 498.6,111.9 500,112.6 501.3,113.3 502.7,113.9 504.1,114.6 505.4,115.2 506.8,115.8 508.2,116.4 509.5,117 510.9,117.5 512.3,118 513.6,118.5 515,119 516.3,119.5 517.7,119.9 519.1,120.4 520.4,120.8 521.8,121.1 523.2,121.5 524.5,121.9 525.9,122.2 527.3,122.5 528.6,122.8L528.6,127.9Z" fill="rgba(252,140,152,0.52)"/>
<path d="M392.1,126.6 393.5,125.4 394.8,124.3 396.2,123.3 397.6,122.4 398.9,121.5 400.3,120.8 401.7,120.5 403,120.5 404.4,120.7 405.8,120.9 407.1,121.2 408.5,121.6 409.9,122 411.2,122.5 412.6,122.9 414,123.2 415.3,123.5 416.7,123.6 418.1,123.7 419.4,123.7 420.8,123.5 422.1,123.3 423.5,122.9 424.9,122.4 426.2,121.8 427.6,121.1 429,120.3 430.3,119.4 431.7,118.3 433.1,117.2 434.4,115.9 435.8,114.6 437.2,113.2 438.5,111.7 439.9,110.2 441.3,108.7 442.6,107.1 444,105.6 445.4,104.1 446.7,102.7 448.1,101.4 449.5,100.2 450.8,99.1 452.2,98.2 453.5,97.5 454.9,97 456.3,96.8 457.6,96.7 459,96.7 460.4,96.8 461.7,96.9 463.1,97.1 464.5,97.3 465.8,97.6 467.2,97.9 468.6,98.3 469.9,98.6 471.3,99.1 472.7,99.5 474,100 475.4,100.5 476.8,101.1 478.1,101.7 479.5,102.3 480.9,102.9 482.2,103.6 483.6,104.2 484.9,104.9 486.3,105.6 487.7,106.3 489,107 490.4,107.7 491.8,108.4 493.1,109.1 494.5,109.9 495.9,110.6 497.2,111.3 498.6,111.9 500,112.6 501.3,113.3 502.7,113.9 504.1,114.6 505.4,115.2 506.8,115.8 508.2,116.4 509.5,117 510.9,117.5 512.3,118 513.6,118.5 515,119 516.3,119.5 517.7,119.9 519.1,120.4 520.4,120.8 521.8,121.1 523.2,121.5 524.5,121.9 525.9,122.2 527.3,122.5 528.6,122.8" fill="none" stroke="rgb(181,41,54)" stroke-width="0.79" stroke-linejoin="round"/>
<path d="M384,136L384,134.4 385.4,133.2 386.8,132.1 388.2,130.9 389.7,129.7 391.1,128.7 392.5,127.9 393.9,127.6 395.3,127.5 396.7,127.7 398.1,128 399.5,128.3 400.9,128.8 402.3,129.3 403.7,129.7 405.1,130.2 406.5,130.5 407.9,130.8 409.3,130.9 410.7,130.9 412.1,130.8 413.5,130.5 414.9,130.1 416.4,129.5 417.8,128.8 419.2,128 420.6,126.9 422,125.8 423.4,124.5 424.8,123.1 426.2,121.6 427.6,119.9 429,118.2 430.4,116.3 431.8,114.4 433.2,112.5 434.6,110.5 436,108.5 437.4,106.6 438.8,104.8 440.2,103 441.6,101.5 443.1,100 444.5,98.8 445.9,97.8 447.3,97.1 448.7,96.6 450.1,96.4 451.5,96.4 452.9,96.5 454.3,96.6 455.7,96.8 457.1,97.1 458.5,97.4 459.9,97.7 461.3,98.2 462.7,98.6 464.1,99.2 465.5,99.7 466.9,100.3 468.3,101 469.7,101.7 471.2,102.4 472.6,103.2 474,104 475.4,104.8 476.8,105.7 478.2,106.5 479.6,107.4 481,108.3 482.4,109.2 483.8,110.1 485.2,111 486.6,112 488,112.9 489.4,113.8 490.8,114.7 492.2,115.6 493.6,116.5 495,117.3 496.4,118.2 497.9,119 499.3,119.8 500.7,120.6 502.1,121.4 503.5,122.1 504.9,122.8 506.3,123.5 507.7,124.2 509.1,124.8 510.5,125.5 511.9,126 513.3,126.6 514.7,127.1 516.1,127.6 517.5,128.1 518.9,128.6 520.3,129 521.7,129.4 523.1,129.8 524.6,130.1L524.6,136Z" fill="rgba(252,145,157,0.51)"/>
<path d="M384,134.4 385.4,133.2 386.8,132.1 388.2,130.9 389.7,129.7 391.1,128.7 392.5,127.9 393.9,127.6 395.3,127.5 396.7,127.7 398.1,128 399.5,128.3 400.9,128.8 402.3,129.3 403.7,129.7 405.1,130.2 406.5,130.5 407.9,130.8 409.3,130.9 410.7,130.9 412.1,130.8 413.5,130.5 414.9,130.1 416.4,129.5 417.8,128.8 419.2,128 420.6,126.9 422,125.8 423.4,124.5 424.8,123.1 426.2,121.6 427.6,119.9 429,118.2 430.4,116.3 431.8,114.4 433.2,112.5 434.6,110.5 436,108.5 437.4,106.6 438.8,104.8 440.2,103 441.6,101.5 443.1,100 444.5,98.8 445.9,97.8 447.3,97.1 448.7,96.6 450.1,96.4 451.5,96.4 452.9,96.5 454.3,96.6 455.7,96.8 457.1,97.1 458.5,97.4 459.9,97.7 461.3,98.2 462.7,98.6 464.1,99.2 465.5,99.7 466.9,100.3 468.3,101 469.7,101.7 471.2,102.4 472.6,103.2 474,104 475.4,104.8 476.8,105.7 478.2,106.5 479.6,107.4 481,108.3 482.4,109.2 483.8,110.1 485.2,111 486.6,112 488,112.9 489.4,113.8 490.8,114.7 492.2,115.6 493.6,116.5 495,117.3 496.4,118.2 497.9,119 499.3,119.8 500.7,120.6 502.1,121.4 503.5,122.1 504.9,122.8 506.3,123.5 507.7,124.2 509.1,124.8 510.5,125.5 511.9,126 513.3,126.6 514.7,127.1 516.1,127.6 517.5,128.1 518.9,128.6 520.3,129 521.7,129.4 523.1,129.8 524.6,130.1" fill="none" stroke="rgb(186,46,59)" stroke-width="0.76" stroke-linejoin="round"/>
<path d="M375.5,144.5L375.5,142.9 376.9,141.6 378.4,140.4 379.8,139.1 381.3,137.8 382.7,136.7 384.1,135.8 385.6,135.4 387,135.4 388.5,135.5 389.9,135.8 391.4,136.2 392.8,136.7 394.3,137.2 395.7,137.7 397.2,138.1 398.6,138.5 400.1,138.7 401.5,138.8 403,138.7 404.4,138.5 405.9,138.1 407.3,137.6 408.8,136.8 410.2,135.9 411.7,134.8 413.1,133.5 414.5,132.1 416,130.5 417.4,128.7 418.9,126.8 420.3,124.8 421.8,122.6 423.2,120.4 424.7,118.1 426.1,115.7 427.6,113.3 429,111 430.5,108.7 431.9,106.5 433.4,104.4 434.8,102.5 436.3,100.8 437.7,99.3 439.2,98.2 440.6,97.3 442.1,96.7 443.5,96.4 444.9,96.5 446.4,96.5 447.8,96.7 449.3,97 450.7,97.3 452.2,97.6 453.6,98.1 455.1,98.6 456.5,99.2 458,99.8 459.4,100.5 460.9,101.3 462.3,102.1 463.8,102.9 465.2,103.8 466.7,104.8 468.1,105.8 469.6,106.8 471,107.8 472.5,108.9 473.9,110 475.3,111.1 476.8,112.2 478.2,113.3 479.7,114.4 481.1,115.5 482.6,116.7 484,117.8 485.5,118.9 486.9,120 488.4,121.1 489.8,122.1 491.3,123.2 492.7,124.2 494.2,125.2 495.6,126.2 497.1,127.1 498.5,128 500,128.9 501.4,129.7 502.9,130.6 504.3,131.3 505.7,132.1 507.2,132.8 508.6,133.5 510.1,134.2 511.5,134.8 513,135.4 514.4,135.9 515.9,136.5 517.3,136.9 518.8,137.4 520.2,137.8L520.2,144.5Z" fill="rgba(252,151,163,0.51)"/>
<path d="M375.5,142.9 376.9,141.6 378.4,140.4 379.8,139.1 381.3,137.8 382.7,136.7 384.1,135.8 385.6,135.4 387,135.4 388.5,135.5 389.9,135.8 391.4,136.2 392.8,136.7 394.3,137.2 395.7,137.7 397.2,138.1 398.6,138.5 400.1,138.7 401.5,138.8 403,138.7 404.4,138.5 405.9,138.1 407.3,137.6 408.8,136.8 410.2,135.9 411.7,134.8 413.1,133.5 414.5,132.1 416,130.5 417.4,128.7 418.9,126.8 420.3,124.8 421.8,122.6 423.2,120.4 424.7,118.1 426.1,115.7 427.6,113.3 429,111 430.5,108.7 431.9,106.5 433.4,104.4 434.8,102.5 436.3,100.8 437.7,99.3 439.2,98.2 440.6,97.3 442.1,96.7 443.5,96.4 444.9,96.5 446.4,96.5 447.8,96.7 449.3,97 450.7,97.3 452.2,97.6 453.6,98.1 455.1,98.6 456.5,99.2 458,99.8 459.4,100.5 460.9,101.3 462.3,102.1 463.8,102.9 465.2,103.8 466.7,104.8 468.1,105.8 469.6,106.8 471,107.8 472.5,108.9 473.9,110 475.3,111.1 476.8,112.2 478.2,113.3 479.7,114.4 481.1,115.5 482.6,116.7 484,117.8 485.5,118.9 486.9,120 488.4,121.1 489.8,122.1 491.3,123.2 492.7,124.2 494.2,125.2 495.6,126.2 497.1,127.1 498.5,128 500,128.9 501.4,129.7 502.9,130.6 504.3,131.3 505.7,132.1 507.2,132.8 508.6,133.5 510.1,134.2 511.5,134.8 513,135.4 514.4,135.9 515.9,136.5 517.3,136.9 518.8,137.4 520.2,137.8" fill="none" stroke="rgb(191,51,65)" stroke-width="0.73" stroke-linejoin="round"/>
<path d="M366.4,153.5L366.4,151.8 367.9,150.6 369.3,149.3 370.8,147.9 372.3,146.6 373.8,145.3 375.3,144.4 376.8,143.9 378.3,143.9 379.8,144 381.3,144.3 382.8,144.7 384.3,145.2 385.8,145.7 387.3,146.2 388.8,146.7 390.2,147 391.7,147.2 393.2,147.2 394.7,147.1 396.2,146.8 397.7,146.2 399.2,145.5 400.7,144.6 402.2,143.5 403.7,142.2 405.2,140.6 406.7,138.9 408.2,137 409.6,135 411.1,132.8 412.6,130.4 414.1,127.9 415.6,125.3 417.1,122.6 418.6,119.9 420.1,117.2 421.6,114.5 423.1,111.8 424.6,109.3 426.1,107 427.6,104.8 429.1,102.9 430.5,101.2 432,99.9 433.5,98.9 435,98.2 436.5,98 438,98 439.5,98.1 441,98.3 442.5,98.5 444,98.9 445.5,99.4 447,99.9 448.5,100.5 449.9,101.2 451.4,101.9 452.9,102.7 454.4,103.6 455.9,104.5 457.4,105.5 458.9,106.6 460.4,107.7 461.9,108.8 463.4,110 464.9,111.2 466.4,112.4 467.9,113.7 469.4,115 470.8,116.3 472.3,117.6 473.8,118.9 475.3,120.2 476.8,121.5 478.3,122.8 479.8,124.1 481.3,125.4 482.8,126.6 484.3,127.9 485.8,129.1 487.3,130.3 488.8,131.5 490.3,132.6 491.7,133.7 493.2,134.7 494.7,135.8 496.2,136.8 497.7,137.7 499.2,138.6 500.7,139.5 502.2,140.3 503.7,141.1 505.2,141.9 506.7,142.6 508.2,143.3 509.7,144 511.1,144.6 512.6,145.1 514.1,145.7 515.6,146.2L515.6,153.5Z" fill="rgba(252,156,168,0.50)"/>
<path d="M366.4,151.8 367.9,150.6 369.3,149.3 370.8,147.9 372.3,146.6 373.8,145.3 375.3,144.4 376.8,143.9 378.3,143.9 379.8,144 381.3,144.3 382.8,144.7 384.3,145.2 385.8,145.7 387.3,146.2 388.8,146.7 390.2,147 391.7,147.2 393.2,147.2 394.7,147.1 396.2,146.8 397.7,146.2 399.2,145.5 400.7,144.6 402.2,143.5 403.7,142.2 405.2,140.6 406.7,138.9 408.2,137 409.6,135 411.1,132.8 412.6,130.4 414.1,127.9 415.6,125.3 417.1,122.6 418.6,119.9 420.1,117.2 421.6,114.5 423.1,111.8 424.6,109.3 426.1,107 427.6,104.8 429.1,102.9 430.5,101.2 432,99.9 433.5,98.9 435,98.2 436.5,98 438,98 439.5,98.1 441,98.3 442.5,98.5 444,98.9 445.5,99.4 447,99.9 448.5,100.5 449.9,101.2 451.4,101.9 452.9,102.7 454.4,103.6 455.9,104.5 457.4,105.5 458.9,106.6 460.4,107.7 461.9,108.8 463.4,110 464.9,111.2 466.4,112.4 467.9,113.7 469.4,115 470.8,116.3 472.3,117.6 473.8,118.9 475.3,120.2 476.8,121.5 478.3,122.8 479.8,124.1 481.3,125.4 482.8,126.6 484.3,127.9 485.8,129.1 487.3,130.3 488.8,131.5 490.3,132.6 491.7,133.7 493.2,134.7 494.7,135.8 496.2,136.8 497.7,137.7 499.2,138.6 500.7,139.5 502.2,140.3 503.7,141.1 505.2,141.9 506.7,142.6 508.2,143.3 509.7,144 511.1,144.6 512.6,145.1 514.1,145.7 515.6,146.2" fill="none" stroke="rgb(196,56,70)" stroke-width="0.7" stroke-linejoin="round"/>
<path d="M358.0,161.8H511.4M358.0,161.8V96.7M511.4,161.8L559.3,67.7M358,161.8v2.4M367.6,161.8v1.4M377.2,161.8v2.4M386.8,161.8v1.4M396.4,161.8v2.4M405.9,161.8v1.4M415.5,161.8v2.4M425.1,161.8v1.4M434.7,161.8v2.4M444.3,161.8v1.4M453.9,161.8v2.4M463.5,161.8v1.4M473,161.8v2.4M482.6,161.8v1.4M492.2,161.8v2.4M501.8,161.8v1.4M511.4,161.8v2.4M515.6,153.5h2.2M520.2,144.5h2.2M524.6,136h2.2M528.6,127.9h2.2M532.5,120.4h2.2M536.1,113.2h2.2M539.6,106.4h2.2M542.9,100h2.2M546,93.8h2.2M549,88h2.2M551.8,82.4h2.2M554.5,77.2h2.2M557.1,72.1h2.2" stroke="#3a3a3a" stroke-width="0.9" fill="none"/>
<g font-size="6.9" fill="#141414" text-anchor="middle">
<text x="362.3" y="172.8">400</text>
<text x="380.7" y="172.8">450</text>
<text x="399.1" y="172.8">500</text>
<text x="417.4" y="172.8">550</text>
<text x="435.8" y="172.8">600</text>
<text x="454.2" y="172.8">650</text>
<text x="472.6" y="172.8">700</text>
<text x="490.9" y="172.8">750</text>
<text x="509.3" y="172.8">800</text>
</g>
<g font-size="5.7" fill="#161616">
<text x="519.4" y="155.8">0 s</text>
<text x="524" y="146.8">5 s</text>
<text x="528.4" y="138.3">15 s</text>
<text x="532.4" y="130.2">30 s</text>
<text x="536.3" y="122.7">1 min</text>
<text x="539.9" y="115.5">3 min</text>
<text x="543.4" y="108.7">5 min</text>
<text x="546.7" y="102.3">10 min</text>
<text x="549.8" y="96.1">20 min</text>
<text x="552.8" y="90.3">30 min</text>
<text x="555.6" y="84.7">1 h</text>
<text x="558.3" y="79.5">1.5 h</text>
<text x="560.9" y="74.4">2 h</text>
</g>
<text font-size="7.2" font-weight="bold" fill="#1a1a1a" text-anchor="middle" transform="translate(564.0,117.2) rotate(-58)">Time</text>
<text x="407.9" y="181.3" font-size="8.2" font-weight="bold" fill="#1a1a1a" textLength="55.8" lengthAdjust="spacingAndGlyphs">Wavelength / nm</text>
<text font-size="7.8" font-weight="bold" fill="#1a1a1a" transform="translate(352.2,152.2) rotate(-90)" textLength="46.8" lengthAdjust="spacingAndGlyphs">Intensity / a.u.</text>
<text x="331.9" y="15.2" font-size="13.4" font-weight="bold" fill="#111">(b)</text>
</g>
<g id="panelD">
<path d="M611.9,166.0L763.5,166.0L809.7,69.3L705.8,69.3Z" fill="#ededed"/>
<path d="M630.9,166.0L718.8,69.3M649.8,166.0L731.8,69.3M668.8,166.0L744.8,69.3M687.7,166.0L757.8,69.3M706.6,166.0L770.7,69.3M725.6,166.0L783.7,69.3M744.5,166.0L796.7,69.3" stroke="#dcdcdc" stroke-width="0.6" fill="none"/>
<path d="M611.9,166.0L611.9,98.3L705.8,23.3L705.8,69.3Z" fill="#e5f6f4" stroke="#b4bcbc" stroke-width="0.7"/>
<path d="M629.1,148.3V84.5M645.8,131.1V71.2M660.7,115.8V59.4M673.9,102.1V48.8M685.8,89.9V39.2M696.6,78.8V30.6" stroke="#d4ecea" stroke-width="0.7" fill="none"/>
<rect x="705.8" y="23.3" width="103.9" height="46" fill="#ffffdc" stroke="#b8b8a8" stroke-width="0.7"/>
<path d="M718.8,23.3V69.3M731.8,23.3V69.3M744.8,23.3V69.3M757.8,23.3V69.3M770.7,23.3V69.3M783.7,23.3V69.3M796.7,23.3V69.3" stroke="#f0f0c8" stroke-width="0.7" fill="none"/>
<g font-weight="bold" font-size="8.3" fill="#384e60"><text x="769.0" y="33.8" textLength="39.4" lengthAdjust="spacingAndGlyphs"><tspan font-style="italic">&#955;</tspan><tspan font-size="5.6" dy="1.6">ex</tspan><tspan dy="-1.6"> = 344 nm</tspan></text><text x="769.0" y="-36" transform="scale(1,-1)" opacity="0.22" textLength="39.4" lengthAdjust="spacingAndGlyphs"><tspan font-style="italic">&#955;</tspan><tspan font-size="5.6" dy="-1.6">ex</tspan><tspan dy="1.6"> = 344 nm</tspan></text></g>
<path d="M701.6,73.6L701.6,72.1 702.7,72.1 703.7,72 704.8,71.9 705.9,71.8 706.9,71.8 708,71.7 709,71.6 710.1,71.6 711.2,71.5 712.2,71.5 713.3,71.5 714.3,71.5 715.4,71.5 716.5,71.5 717.5,71.5 718.6,71.5 719.6,71.5 720.7,71.5 721.8,71.5 722.8,71.5 723.9,71.5 724.9,71.5 726,71.5 727.1,71.4 728.1,71.4 729.2,71.3 730.3,71.2 731.3,71.1 732.4,71 733.4,70.8 734.5,70.6 735.6,70.4 736.6,70.2 737.7,69.9 738.7,69.6 739.8,69.3 740.9,69 741.9,68.6 743,68.2 744,67.9 745.1,67.5 746.2,67.2 747.2,66.9 748.3,66.6 749.3,66.3 750.4,66.1 751.5,66 752.5,65.9 753.6,65.8 754.6,65.8 755.7,65.9 756.8,66 757.8,66.1 758.9,66.3 759.9,66.5 761,66.7 762.1,67 763.1,67.2 764.2,67.5 765.2,67.8 766.3,68.2 767.4,68.5 768.4,68.8 769.5,69.1 770.5,69.4 771.6,69.7 772.7,70 773.7,70.3 774.8,70.5 775.8,70.8 776.9,71 778,71.2 779,71.4 780.1,71.5 781.1,71.7 782.2,71.8 783.3,71.9 784.3,72 785.4,72.1 786.4,72.1 787.5,72.2 788.6,72.3 789.6,72.3 790.7,72.3 791.7,72.4 792.8,72.4 793.9,72.4 794.9,72.4 796,72.4 797,72.4 798.1,72.5 799.2,72.5 800.2,72.5 801.3,72.4 802.3,72.4 803.4,72.4 804.5,72.3 805.5,72.1 806.6,71.8 807.6,71.1L807.6,73.6Z" fill="rgba(52,128,146,0.85)"/>
<path d="M701.6,72.1 702.7,72.1 703.7,72 704.8,71.9 705.9,71.8 706.9,71.8 708,71.7 709,71.6 710.1,71.6 711.2,71.5 712.2,71.5 713.3,71.5 714.3,71.5 715.4,71.5 716.5,71.5 717.5,71.5 718.6,71.5 719.6,71.5 720.7,71.5 721.8,71.5 722.8,71.5 723.9,71.5 724.9,71.5 726,71.5 727.1,71.4 728.1,71.4 729.2,71.3 730.3,71.2 731.3,71.1 732.4,71 733.4,70.8 734.5,70.6 735.6,70.4 736.6,70.2 737.7,69.9 738.7,69.6 739.8,69.3 740.9,69 741.9,68.6 743,68.2 744,67.9 745.1,67.5 746.2,67.2 747.2,66.9 748.3,66.6 749.3,66.3 750.4,66.1 751.5,66 752.5,65.9 753.6,65.8 754.6,65.8 755.7,65.9 756.8,66 757.8,66.1 758.9,66.3 759.9,66.5 761,66.7 762.1,67 763.1,67.2 764.2,67.5 765.2,67.8 766.3,68.2 767.4,68.5 768.4,68.8 769.5,69.1 770.5,69.4 771.6,69.7 772.7,70 773.7,70.3 774.8,70.5 775.8,70.8 776.9,71 778,71.2 779,71.4 780.1,71.5 781.1,71.7 782.2,71.8 783.3,71.9 784.3,72 785.4,72.1 786.4,72.1 787.5,72.2 788.6,72.3 789.6,72.3 790.7,72.3 791.7,72.4 792.8,72.4 793.9,72.4 794.9,72.4 796,72.4 797,72.4 798.1,72.5 799.2,72.5 800.2,72.5 801.3,72.4 802.3,72.4 803.4,72.4 804.5,72.3 805.5,72.1 806.6,71.8 807.6,71.1" fill="none" stroke="rgb(36,96,112)" stroke-width="1.05" stroke-linejoin="round"/>
<path d="M696.6,78.8L696.6,77.2 697.7,77.1 698.8,77.1 699.9,77 701,76.9 702,76.8 703.1,76.8 704.2,76.7 705.3,76.6 706.4,76.6 707.5,76.6 708.6,76.6 709.6,76.5 710.7,76.5 711.8,76.5 712.9,76.5 714,76.5 715.1,76.5 716.2,76.5 717.2,76.6 718.3,76.6 719.4,76.6 720.5,76.5 721.6,76.5 722.7,76.5 723.8,76.4 724.8,76.4 725.9,76.3 727,76.2 728.1,76 729.2,75.9 730.3,75.7 731.4,75.5 732.4,75.2 733.5,75 734.6,74.7 735.7,74.4 736.8,74 737.9,73.7 739,73.3 740,73 741.1,72.6 742.2,72.3 743.3,72 744.4,71.7 745.5,71.4 746.6,71.2 747.6,71.1 748.7,71 749.8,70.9 750.9,70.9 752,71 753.1,71.1 754.2,71.2 755.2,71.4 756.3,71.6 757.4,71.8 758.5,72.1 759.6,72.3 760.7,72.6 761.8,73 762.8,73.3 763.9,73.6 765,73.9 766.1,74.2 767.2,74.5 768.3,74.8 769.4,75.1 770.4,75.4 771.5,75.7 772.6,75.9 773.7,76.1 774.8,76.3 775.9,76.5 777,76.6 778,76.8 779.1,76.9 780.2,77 781.3,77.1 782.4,77.2 783.5,77.3 784.6,77.3 785.6,77.4 786.7,77.4 787.8,77.5 788.9,77.5 790,77.5 791.1,77.5 792.2,77.6 793.2,77.6 794.3,77.6 795.4,77.6 796.5,77.6 797.6,77.6 798.7,77.6 799.8,77.6 800.8,77.5 801.9,77.4 803,77.2 804.1,76.9 805.2,76.2L805.2,78.8Z" fill="rgba(54,139,159,0.84)"/>
<path d="M696.6,77.2 697.7,77.1 698.8,77.1 699.9,77 701,76.9 702,76.8 703.1,76.8 704.2,76.7 705.3,76.6 706.4,76.6 707.5,76.6 708.6,76.6 709.6,76.5 710.7,76.5 711.8,76.5 712.9,76.5 714,76.5 715.1,76.5 716.2,76.5 717.2,76.6 718.3,76.6 719.4,76.6 720.5,76.5 721.6,76.5 722.7,76.5 723.8,76.4 724.8,76.4 725.9,76.3 727,76.2 728.1,76 729.2,75.9 730.3,75.7 731.4,75.5 732.4,75.2 733.5,75 734.6,74.7 735.7,74.4 736.8,74 737.9,73.7 739,73.3 740,73 741.1,72.6 742.2,72.3 743.3,72 744.4,71.7 745.5,71.4 746.6,71.2 747.6,71.1 748.7,71 749.8,70.9 750.9,70.9 752,71 753.1,71.1 754.2,71.2 755.2,71.4 756.3,71.6 757.4,71.8 758.5,72.1 759.6,72.3 760.7,72.6 761.8,73 762.8,73.3 763.9,73.6 765,73.9 766.1,74.2 767.2,74.5 768.3,74.8 769.4,75.1 770.4,75.4 771.5,75.7 772.6,75.9 773.7,76.1 774.8,76.3 775.9,76.5 777,76.6 778,76.8 779.1,76.9 780.2,77 781.3,77.1 782.4,77.2 783.5,77.3 784.6,77.3 785.6,77.4 786.7,77.4 787.8,77.5 788.9,77.5 790,77.5 791.1,77.5 792.2,77.6 793.2,77.6 794.3,77.6 795.4,77.6 796.5,77.6 797.6,77.6 798.7,77.6 799.8,77.6 800.8,77.5 801.9,77.4 803,77.2 804.1,76.9 805.2,76.2" fill="none" stroke="rgb(37,100,117)" stroke-width="1.02" stroke-linejoin="round"/>
<path d="M691.4,84.2L691.4,82.6 692.5,82.5 693.6,82.4 694.7,82.3 695.8,82.2 696.9,82.1 698,82.1 699.1,82 700.3,81.9 701.4,81.9 702.5,81.9 703.6,81.8 704.7,81.8 705.8,81.8 706.9,81.8 708,81.8 709.2,81.8 710.3,81.8 711.4,81.8 712.5,81.9 713.6,81.9 714.7,81.9 715.8,81.8 716.9,81.8 718.1,81.8 719.2,81.7 720.3,81.7 721.4,81.6 722.5,81.4 723.6,81.3 724.7,81.1 725.8,80.9 727,80.7 728.1,80.4 729.2,80.1 730.3,79.8 731.4,79.4 732.5,79.1 733.6,78.7 734.7,78.3 735.9,77.9 737,77.5 738.1,77.1 739.2,76.8 740.3,76.5 741.4,76.2 742.5,76 743.6,75.8 744.8,75.7 745.9,75.6 747,75.6 748.1,75.7 749.2,75.8 750.3,75.9 751.4,76.1 752.5,76.3 753.7,76.6 754.8,76.9 755.9,77.2 757,77.5 758.1,77.9 759.2,78.2 760.3,78.6 761.4,78.9 762.6,79.3 763.7,79.6 764.8,79.9 765.9,80.3 767,80.6 768.1,80.8 769.2,81.1 770.3,81.3 771.4,81.6 772.6,81.8 773.7,81.9 774.8,82.1 775.9,82.2 777,82.3 778.1,82.5 779.2,82.5 780.3,82.6 781.5,82.7 782.6,82.7 783.7,82.8 784.8,82.8 785.9,82.9 787,82.9 788.1,82.9 789.2,82.9 790.4,82.9 791.5,83 792.6,83 793.7,83 794.8,83 795.9,83 797,82.9 798.1,82.9 799.3,82.8 800.4,82.6 801.5,82.2 802.6,81.5L802.6,84.2Z" fill="rgba(55,149,173,0.82)"/>
<path d="M691.4,82.6 692.5,82.5 693.6,82.4 694.7,82.3 695.8,82.2 696.9,82.1 698,82.1 699.1,82 700.3,81.9 701.4,81.9 702.5,81.9 703.6,81.8 704.7,81.8 705.8,81.8 706.9,81.8 708,81.8 709.2,81.8 710.3,81.8 711.4,81.8 712.5,81.9 713.6,81.9 714.7,81.9 715.8,81.8 716.9,81.8 718.1,81.8 719.2,81.7 720.3,81.7 721.4,81.6 722.5,81.4 723.6,81.3 724.7,81.1 725.8,80.9 727,80.7 728.1,80.4 729.2,80.1 730.3,79.8 731.4,79.4 732.5,79.1 733.6,78.7 734.7,78.3 735.9,77.9 737,77.5 738.1,77.1 739.2,76.8 740.3,76.5 741.4,76.2 742.5,76 743.6,75.8 744.8,75.7 745.9,75.6 747,75.6 748.1,75.7 749.2,75.8 750.3,75.9 751.4,76.1 752.5,76.3 753.7,76.6 754.8,76.9 755.9,77.2 757,77.5 758.1,77.9 759.2,78.2 760.3,78.6 761.4,78.9 762.6,79.3 763.7,79.6 764.8,79.9 765.9,80.3 767,80.6 768.1,80.8 769.2,81.1 770.3,81.3 771.4,81.6 772.6,81.8 773.7,81.9 774.8,82.1 775.9,82.2 777,82.3 778.1,82.5 779.2,82.5 780.3,82.6 781.5,82.7 782.6,82.7 783.7,82.8 784.8,82.8 785.9,82.9 787,82.9 788.1,82.9 789.2,82.9 790.4,82.9 791.5,83 792.6,83 793.7,83 794.8,83 795.9,83 797,82.9 798.1,82.9 799.3,82.8 800.4,82.6 801.5,82.2 802.6,81.5" fill="none" stroke="rgb(39,104,121)" stroke-width="0.99" stroke-linejoin="round"/>
<path d="M685.8,89.9L685.8,88.1 687,88 688.1,87.9 689.3,87.8 690.4,87.7 691.5,87.6 692.7,87.5 693.8,87.4 695,87.4 696.1,87.3 697.2,87.3 698.4,87.3 699.5,87.2 700.7,87.2 701.8,87.2 702.9,87.2 704.1,87.2 705.2,87.2 706.4,87.3 707.5,87.3 708.6,87.3 709.8,87.3 710.9,87.3 712.1,87.3 713.2,87.2 714.4,87.2 715.5,87.1 716.6,87 717.8,86.9 718.9,86.8 720.1,86.6 721.2,86.4 722.3,86.2 723.5,85.9 724.6,85.6 725.8,85.3 726.9,84.9 728,84.5 729.2,84.2 730.3,83.8 731.5,83.4 732.6,83 733.7,82.6 734.9,82.2 736,81.9 737.2,81.6 738.3,81.4 739.4,81.2 740.6,81.1 741.7,81.1 742.9,81.1 744,81.1 745.1,81.3 746.3,81.4 747.4,81.6 748.6,81.8 749.7,82.1 750.8,82.4 752,82.7 753.1,83 754.3,83.4 755.4,83.7 756.5,84.1 757.7,84.4 758.8,84.8 760,85.1 761.1,85.5 762.2,85.8 763.4,86.1 764.5,86.4 765.7,86.6 766.8,86.9 767.9,87.1 769.1,87.3 770.2,87.5 771.4,87.7 772.5,87.8 773.7,87.9 774.8,88 775.9,88.1 777.1,88.2 778.2,88.3 779.4,88.3 780.5,88.4 781.6,88.4 782.8,88.4 783.9,88.5 785.1,88.5 786.2,88.5 787.3,88.5 788.5,88.5 789.6,88.5 790.8,88.5 791.9,88.5 793,88.5 794.2,88.5 795.3,88.5 796.5,88.4 797.6,88.2 798.7,87.8 799.9,87.1L799.9,89.9Z" fill="rgba(57,160,186,0.81)"/>
<path d="M685.8,88.1 687,88 688.1,87.9 689.3,87.8 690.4,87.7 691.5,87.6 692.7,87.5 693.8,87.4 695,87.4 696.1,87.3 697.2,87.3 698.4,87.3 699.5,87.2 700.7,87.2 701.8,87.2 702.9,87.2 704.1,87.2 705.2,87.2 706.4,87.3 707.5,87.3 708.6,87.3 709.8,87.3 710.9,87.3 712.1,87.3 713.2,87.2 714.4,87.2 715.5,87.1 716.6,87 717.8,86.9 718.9,86.8 720.1,86.6 721.2,86.4 722.3,86.2 723.5,85.9 724.6,85.6 725.8,85.3 726.9,84.9 728,84.5 729.2,84.2 730.3,83.8 731.5,83.4 732.6,83 733.7,82.6 734.9,82.2 736,81.9 737.2,81.6 738.3,81.4 739.4,81.2 740.6,81.1 741.7,81.1 742.9,81.1 744,81.1 745.1,81.3 746.3,81.4 747.4,81.6 748.6,81.8 749.7,82.1 750.8,82.4 752,82.7 753.1,83 754.3,83.4 755.4,83.7 756.5,84.1 757.7,84.4 758.8,84.8 760,85.1 761.1,85.5 762.2,85.8 763.4,86.1 764.5,86.4 765.7,86.6 766.8,86.9 767.9,87.1 769.1,87.3 770.2,87.5 771.4,87.7 772.5,87.8 773.7,87.9 774.8,88 775.9,88.1 777.1,88.2 778.2,88.3 779.4,88.3 780.5,88.4 781.6,88.4 782.8,88.4 783.9,88.5 785.1,88.5 786.2,88.5 787.3,88.5 788.5,88.5 789.6,88.5 790.8,88.5 791.9,88.5 793,88.5 794.2,88.5 795.3,88.5 796.5,88.4 797.6,88.2 798.7,87.8 799.9,87.1" fill="none" stroke="rgb(40,108,126)" stroke-width="0.96" stroke-linejoin="round"/>
<path d="M680,95.8L680,94 681.2,93.9 682.4,93.7 683.5,93.6 684.7,93.5 685.9,93.4 687.1,93.3 688.2,93.2 689.4,93.1 690.6,93.1 691.7,93.1 692.9,93 694.1,93 695.2,93 696.4,93 697.6,93 698.8,93 699.9,93 701.1,93.1 702.3,93.1 703.4,93.1 704.6,93.1 705.8,93.1 706.9,93.1 708.1,93.1 709.3,93.1 710.5,93 711.6,92.9 712.8,92.8 714,92.7 715.1,92.6 716.3,92.4 717.5,92.2 718.6,92 719.8,91.7 721,91.4 722.2,91.1 723.3,90.8 724.5,90.5 725.7,90.1 726.8,89.8 728,89.4 729.2,89.1 730.3,88.8 731.5,88.5 732.7,88.2 733.8,88 735,87.9 736.2,87.8 737.4,87.7 738.5,87.8 739.7,87.8 740.9,87.9 742,88 743.2,88.2 744.4,88.4 745.5,88.7 746.7,88.9 747.9,89.2 749.1,89.5 750.2,89.8 751.4,90.1 752.6,90.5 753.7,90.8 754.9,91.1 756.1,91.4 757.2,91.7 758.4,92 759.6,92.3 760.8,92.5 761.9,92.8 763.1,93 764.3,93.2 765.4,93.4 766.6,93.5 767.8,93.7 768.9,93.8 770.1,93.9 771.3,94 772.5,94.1 773.6,94.2 774.8,94.2 776,94.3 777.1,94.3 778.3,94.4 779.5,94.4 780.6,94.4 781.8,94.4 783,94.5 784.2,94.5 785.3,94.5 786.5,94.5 787.7,94.5 788.8,94.5 790,94.5 791.2,94.5 792.3,94.4 793.5,94.3 794.7,94.1 795.9,93.7 797,93L797,95.8Z" fill="rgba(58,171,200,0.79)"/>
<path d="M680,94 681.2,93.9 682.4,93.7 683.5,93.6 684.7,93.5 685.9,93.4 687.1,93.3 688.2,93.2 689.4,93.1 690.6,93.1 691.7,93.1 692.9,93 694.1,93 695.2,93 696.4,93 697.6,93 698.8,93 699.9,93 701.1,93.1 702.3,93.1 703.4,93.1 704.6,93.1 705.8,93.1 706.9,93.1 708.1,93.1 709.3,93.1 710.5,93 711.6,92.9 712.8,92.8 714,92.7 715.1,92.6 716.3,92.4 717.5,92.2 718.6,92 719.8,91.7 721,91.4 722.2,91.1 723.3,90.8 724.5,90.5 725.7,90.1 726.8,89.8 728,89.4 729.2,89.1 730.3,88.8 731.5,88.5 732.7,88.2 733.8,88 735,87.9 736.2,87.8 737.4,87.7 738.5,87.8 739.7,87.8 740.9,87.9 742,88 743.2,88.2 744.4,88.4 745.5,88.7 746.7,88.9 747.9,89.2 749.1,89.5 750.2,89.8 751.4,90.1 752.6,90.5 753.7,90.8 754.9,91.1 756.1,91.4 757.2,91.7 758.4,92 759.6,92.3 760.8,92.5 761.9,92.8 763.1,93 764.3,93.2 765.4,93.4 766.6,93.5 767.8,93.7 768.9,93.8 770.1,93.9 771.3,94 772.5,94.1 773.6,94.2 774.8,94.2 776,94.3 777.1,94.3 778.3,94.4 779.5,94.4 780.6,94.4 781.8,94.4 783,94.5 784.2,94.5 785.3,94.5 786.5,94.5 787.7,94.5 788.8,94.5 790,94.5 791.2,94.5 792.3,94.4 793.5,94.3 794.7,94.1 795.9,93.7 797,93" fill="none" stroke="rgb(41,112,131)" stroke-width="0.93" stroke-linejoin="round"/>
<path d="M673.9,102.1L673.9,100 675.1,99.9 676.3,99.7 677.5,99.6 678.7,99.4 679.9,99.3 681.1,99.1 682.3,99 683.5,98.9 684.7,98.9 685.9,98.8 687.1,98.8 688.3,98.8 689.5,98.8 690.7,98.8 691.9,98.8 693.1,98.8 694.3,98.8 695.5,98.9 696.7,98.9 697.9,98.9 699.1,99 700.3,99 701.5,99 702.7,99 703.9,99 705.1,98.9 706.3,98.9 707.5,98.8 708.7,98.7 709.9,98.5 711.2,98.4 712.4,98.2 713.6,98 714.8,97.7 716,97.4 717.2,97.1 718.4,96.8 719.6,96.4 720.8,96.1 722,95.7 723.2,95.4 724.4,95.1 725.6,94.7 726.8,94.5 728,94.2 729.2,94 730.4,93.8 731.6,93.7 732.8,93.7 734,93.7 735.2,93.8 736.4,93.9 737.6,94 738.8,94.2 740,94.4 741.2,94.7 742.4,94.9 743.6,95.2 744.8,95.5 746,95.9 747.2,96.2 748.4,96.5 749.6,96.9 750.8,97.2 752,97.5 753.2,97.8 754.4,98.1 755.6,98.4 756.8,98.7 758,98.9 759.2,99.1 760.4,99.3 761.6,99.5 762.8,99.7 764,99.8 765.2,100 766.4,100.1 767.6,100.2 768.8,100.3 770,100.4 771.2,100.4 772.4,100.5 773.6,100.5 774.8,100.6 776,100.6 777.2,100.6 778.4,100.6 779.6,100.6 780.8,100.7 782,100.7 783.2,100.7 784.4,100.7 785.6,100.7 786.8,100.7 788,100.6 789.2,100.6 790.4,100.5 791.6,100.3 792.8,99.9 794,99.1L794,102.1Z" fill="rgba(59,182,216,0.78)"/>
<path d="M673.9,100 675.1,99.9 676.3,99.7 677.5,99.6 678.7,99.4 679.9,99.3 681.1,99.1 682.3,99 683.5,98.9 684.7,98.9 685.9,98.8 687.1,98.8 688.3,98.8 689.5,98.8 690.7,98.8 691.9,98.8 693.1,98.8 694.3,98.8 695.5,98.9 696.7,98.9 697.9,98.9 699.1,99 700.3,99 701.5,99 702.7,99 703.9,99 705.1,98.9 706.3,98.9 707.5,98.8 708.7,98.7 709.9,98.5 711.2,98.4 712.4,98.2 713.6,98 714.8,97.7 716,97.4 717.2,97.1 718.4,96.8 719.6,96.4 720.8,96.1 722,95.7 723.2,95.4 724.4,95.1 725.6,94.7 726.8,94.5 728,94.2 729.2,94 730.4,93.8 731.6,93.7 732.8,93.7 734,93.7 735.2,93.8 736.4,93.9 737.6,94 738.8,94.2 740,94.4 741.2,94.7 742.4,94.9 743.6,95.2 744.8,95.5 746,95.9 747.2,96.2 748.4,96.5 749.6,96.9 750.8,97.2 752,97.5 753.2,97.8 754.4,98.1 755.6,98.4 756.8,98.7 758,98.9 759.2,99.1 760.4,99.3 761.6,99.5 762.8,99.7 764,99.8 765.2,100 766.4,100.1 767.6,100.2 768.8,100.3 770,100.4 771.2,100.4 772.4,100.5 773.6,100.5 774.8,100.6 776,100.6 777.2,100.6 778.4,100.6 779.6,100.6 780.8,100.7 782,100.7 783.2,100.7 784.4,100.7 785.6,100.7 786.8,100.7 788,100.6 789.2,100.6 790.4,100.5 791.6,100.3 792.8,99.9 794,99.1" fill="none" stroke="rgb(43,116,135)" stroke-width="0.9" stroke-linejoin="round"/>
<path d="M667.5,108.8L667.5,106.2 668.7,106 669.9,105.7 671.2,105.5 672.4,105.3 673.6,105 674.9,104.8 676.1,104.6 677.3,104.5 678.6,104.4 679.8,104.3 681,104.3 682.3,104.3 683.5,104.3 684.7,104.3 686,104.3 687.2,104.3 688.4,104.4 689.7,104.4 690.9,104.5 692.1,104.6 693.4,104.7 694.6,104.7 695.8,104.8 697.1,104.8 698.3,104.9 699.5,104.9 700.8,104.9 702,104.8 703.3,104.7 704.5,104.7 705.7,104.5 707,104.4 708.2,104.2 709.4,104 710.7,103.7 711.9,103.5 713.1,103.2 714.4,102.9 715.6,102.6 716.8,102.2 718.1,101.9 719.3,101.6 720.5,101.3 721.8,101.1 723,100.9 724.2,100.7 725.5,100.5 726.7,100.5 727.9,100.4 729.2,100.5 730.4,100.5 731.6,100.6 732.9,100.8 734.1,101 735.3,101.2 736.6,101.4 737.8,101.7 739,102 740.3,102.3 741.5,102.6 742.7,102.9 744,103.2 745.2,103.6 746.4,103.9 747.7,104.2 748.9,104.5 750.1,104.8 751.4,105.1 752.6,105.3 753.8,105.6 755.1,105.8 756.3,106 757.5,106.2 758.8,106.3 760,106.5 761.2,106.6 762.5,106.7 763.7,106.8 764.9,106.9 766.2,107 767.4,107 768.6,107.1 769.9,107.1 771.1,107.2 772.3,107.2 773.6,107.2 774.8,107.2 776,107.2 777.3,107.3 778.5,107.3 779.7,107.3 781,107.3 782.2,107.3 783.4,107.3 784.7,107.2 785.9,107.2 787.1,107.1 788.4,106.9 789.6,106.5 790.8,105.7L790.8,108.8Z" fill="rgba(60,194,232,0.76)"/>
<path d="M667.5,106.2 668.7,106 669.9,105.7 671.2,105.5 672.4,105.3 673.6,105 674.9,104.8 676.1,104.6 677.3,104.5 678.6,104.4 679.8,104.3 681,104.3 682.3,104.3 683.5,104.3 684.7,104.3 686,104.3 687.2,104.3 688.4,104.4 689.7,104.4 690.9,104.5 692.1,104.6 693.4,104.7 694.6,104.7 695.8,104.8 697.1,104.8 698.3,104.9 699.5,104.9 700.8,104.9 702,104.8 703.3,104.7 704.5,104.7 705.7,104.5 707,104.4 708.2,104.2 709.4,104 710.7,103.7 711.9,103.5 713.1,103.2 714.4,102.9 715.6,102.6 716.8,102.2 718.1,101.9 719.3,101.6 720.5,101.3 721.8,101.1 723,100.9 724.2,100.7 725.5,100.5 726.7,100.5 727.9,100.4 729.2,100.5 730.4,100.5 731.6,100.6 732.9,100.8 734.1,101 735.3,101.2 736.6,101.4 737.8,101.7 739,102 740.3,102.3 741.5,102.6 742.7,102.9 744,103.2 745.2,103.6 746.4,103.9 747.7,104.2 748.9,104.5 750.1,104.8 751.4,105.1 752.6,105.3 753.8,105.6 755.1,105.8 756.3,106 757.5,106.2 758.8,106.3 760,106.5 761.2,106.6 762.5,106.7 763.7,106.8 764.9,106.9 766.2,107 767.4,107 768.6,107.1 769.9,107.1 771.1,107.2 772.3,107.2 773.6,107.2 774.8,107.2 776,107.2 777.3,107.3 778.5,107.3 779.7,107.3 781,107.3 782.2,107.3 783.4,107.3 784.7,107.2 785.9,107.2 787.1,107.1 788.4,106.9 789.6,106.5 790.8,105.7" fill="none" stroke="rgb(44,120,140)" stroke-width="0.88" stroke-linejoin="round"/>
<path d="M660.7,115.8L660.7,112.9 661.9,112.7 663.2,112.4 664.5,112.1 665.7,111.8 667,111.6 668.3,111.3 669.5,111.1 670.8,111 672.1,110.8 673.3,110.8 674.6,110.7 675.9,110.7 677.2,110.7 678.4,110.7 679.7,110.7 681,110.8 682.2,110.9 683.5,110.9 684.8,111 686,111.1 687.3,111.2 688.6,111.3 689.8,111.4 691.1,111.5 692.4,111.6 693.6,111.6 694.9,111.7 696.2,111.7 697.4,111.7 698.7,111.7 700,111.6 701.2,111.5 702.5,111.4 703.8,111.3 705.1,111.1 706.3,110.9 707.6,110.8 708.9,110.5 710.1,110.3 711.4,110.1 712.7,109.9 713.9,109.7 715.2,109.5 716.5,109.3 717.7,109.1 719,109 720.3,108.9 721.5,108.9 722.8,108.8 724.1,108.9 725.3,108.9 726.6,109 727.9,109.2 729.2,109.3 730.4,109.5 731.7,109.7 733,109.9 734.2,110.1 735.5,110.4 736.8,110.6 738,110.9 739.3,111.1 740.6,111.4 741.8,111.6 743.1,111.9 744.4,112.1 745.6,112.3 746.9,112.5 748.2,112.7 749.4,112.9 750.7,113.1 752,113.3 753.2,113.4 754.5,113.5 755.8,113.6 757.1,113.7 758.3,113.8 759.6,113.9 760.9,114 762.1,114 763.4,114.1 764.7,114.1 765.9,114.1 767.2,114.2 768.5,114.2 769.7,114.2 771,114.2 772.3,114.2 773.5,114.2 774.8,114.2 776.1,114.3 777.3,114.3 778.6,114.2 779.9,114.2 781.2,114.2 782.4,114.2 783.7,114 785,113.8 786.2,113.4 787.5,112.6L787.5,115.8Z" fill="rgba(68,197,237,0.75)"/>
<path d="M660.7,112.9 661.9,112.7 663.2,112.4 664.5,112.1 665.7,111.8 667,111.6 668.3,111.3 669.5,111.1 670.8,111 672.1,110.8 673.3,110.8 674.6,110.7 675.9,110.7 677.2,110.7 678.4,110.7 679.7,110.7 681,110.8 682.2,110.9 683.5,110.9 684.8,111 686,111.1 687.3,111.2 688.6,111.3 689.8,111.4 691.1,111.5 692.4,111.6 693.6,111.6 694.9,111.7 696.2,111.7 697.4,111.7 698.7,111.7 700,111.6 701.2,111.5 702.5,111.4 703.8,111.3 705.1,111.1 706.3,110.9 707.6,110.8 708.9,110.5 710.1,110.3 711.4,110.1 712.7,109.9 713.9,109.7 715.2,109.5 716.5,109.3 717.7,109.1 719,109 720.3,108.9 721.5,108.9 722.8,108.8 724.1,108.9 725.3,108.9 726.6,109 727.9,109.2 729.2,109.3 730.4,109.5 731.7,109.7 733,109.9 734.2,110.1 735.5,110.4 736.8,110.6 738,110.9 739.3,111.1 740.6,111.4 741.8,111.6 743.1,111.9 744.4,112.1 745.6,112.3 746.9,112.5 748.2,112.7 749.4,112.9 750.7,113.1 752,113.3 753.2,113.4 754.5,113.5 755.8,113.6 757.1,113.7 758.3,113.8 759.6,113.9 760.9,114 762.1,114 763.4,114.1 764.7,114.1 765.9,114.1 767.2,114.2 768.5,114.2 769.7,114.2 771,114.2 772.3,114.2 773.5,114.2 774.8,114.2 776.1,114.3 777.3,114.3 778.6,114.2 779.9,114.2 781.2,114.2 782.4,114.2 783.7,114 785,113.8 786.2,113.4 787.5,112.6" fill="none" stroke="rgb(46,123,143)" stroke-width="0.85" stroke-linejoin="round"/>
<path d="M653.5,123.2L653.5,119.9 654.8,119.6 656.1,119.3 657.4,118.9 658.7,118.6 660,118.3 661.3,118 662.6,117.7 663.9,117.5 665.2,117.4 666.5,117.3 667.8,117.2 669.1,117.2 670.4,117.2 671.7,117.2 673,117.3 674.3,117.4 675.6,117.5 677,117.6 678.3,117.7 679.6,117.9 680.9,118 682.2,118.1 683.5,118.3 684.8,118.4 686.1,118.5 687.4,118.6 688.7,118.7 690,118.8 691.3,118.8 692.6,118.8 693.9,118.8 695.2,118.8 696.5,118.7 697.8,118.7 699.1,118.6 700.4,118.5 701.7,118.3 703,118.2 704.4,118 705.7,117.9 707,117.7 708.3,117.5 709.6,117.4 710.9,117.3 712.2,117.1 713.5,117.1 714.8,117 716.1,117 717.4,117 718.7,117 720,117.1 721.3,117.2 722.6,117.3 723.9,117.4 725.2,117.5 726.5,117.7 727.8,117.9 729.1,118.1 730.5,118.3 731.8,118.5 733.1,118.7 734.4,118.9 735.7,119.1 737,119.4 738.3,119.6 739.6,119.8 740.9,119.9 742.2,120.1 743.5,120.3 744.8,120.4 746.1,120.6 747.4,120.7 748.7,120.8 750,120.9 751.3,121 752.6,121.1 753.9,121.2 755.2,121.2 756.5,121.3 757.9,121.3 759.2,121.4 760.5,121.4 761.8,121.4 763.1,121.5 764.4,121.5 765.7,121.5 767,121.5 768.3,121.5 769.6,121.5 770.9,121.5 772.2,121.5 773.5,121.5 774.8,121.5 776.1,121.5 777.4,121.5 778.7,121.4 780,121.3 781.3,121.1 782.6,120.7 783.9,119.8L783.9,123.2Z" fill="rgba(76,201,241,0.73)"/>
<path d="M653.5,119.9 654.8,119.6 656.1,119.3 657.4,118.9 658.7,118.6 660,118.3 661.3,118 662.6,117.7 663.9,117.5 665.2,117.4 666.5,117.3 667.8,117.2 669.1,117.2 670.4,117.2 671.7,117.2 673,117.3 674.3,117.4 675.6,117.5 677,117.6 678.3,117.7 679.6,117.9 680.9,118 682.2,118.1 683.5,118.3 684.8,118.4 686.1,118.5 687.4,118.6 688.7,118.7 690,118.8 691.3,118.8 692.6,118.8 693.9,118.8 695.2,118.8 696.5,118.7 697.8,118.7 699.1,118.6 700.4,118.5 701.7,118.3 703,118.2 704.4,118 705.7,117.9 707,117.7 708.3,117.5 709.6,117.4 710.9,117.3 712.2,117.1 713.5,117.1 714.8,117 716.1,117 717.4,117 718.7,117 720,117.1 721.3,117.2 722.6,117.3 723.9,117.4 725.2,117.5 726.5,117.7 727.8,117.9 729.1,118.1 730.5,118.3 731.8,118.5 733.1,118.7 734.4,118.9 735.7,119.1 737,119.4 738.3,119.6 739.6,119.8 740.9,119.9 742.2,120.1 743.5,120.3 744.8,120.4 746.1,120.6 747.4,120.7 748.7,120.8 750,120.9 751.3,121 752.6,121.1 753.9,121.2 755.2,121.2 756.5,121.3 757.9,121.3 759.2,121.4 760.5,121.4 761.8,121.4 763.1,121.5 764.4,121.5 765.7,121.5 767,121.5 768.3,121.5 769.6,121.5 770.9,121.5 772.2,121.5 773.5,121.5 774.8,121.5 776.1,121.5 777.4,121.5 778.7,121.4 780,121.3 781.3,121.1 782.6,120.7 783.9,119.8" fill="none" stroke="rgb(47,126,145)" stroke-width="0.82" stroke-linejoin="round"/>
<path d="M645.8,131.1L645.8,126.5 647.2,125.9 648.5,125.3 649.9,124.7 651.2,124 652.6,123.4 653.9,122.9 655.2,122.5 656.6,122.2 657.9,122 659.3,121.9 660.6,121.8 662,121.8 663.3,121.8 664.6,121.9 666,122 667.3,122.2 668.7,122.4 670,122.7 671.4,122.9 672.7,123.2 674,123.5 675.4,123.8 676.7,124.1 678.1,124.4 679.4,124.7 680.8,124.9 682.1,125.1 683.5,125.4 684.8,125.6 686.1,125.7 687.5,125.9 688.8,126 690.2,126.1 691.5,126.2 692.9,126.2 694.2,126.2 695.5,126.2 696.9,126.2 698.2,126.2 699.6,126.2 700.9,126.1 702.3,126.1 703.6,126 705,126 706.3,126 707.6,125.9 709,125.9 710.3,126 711.7,126 713,126.1 714.4,126.1 715.7,126.2 717,126.3 718.4,126.4 719.7,126.5 721.1,126.6 722.4,126.8 723.8,126.9 725.1,127.1 726.5,127.2 727.8,127.4 729.1,127.5 730.5,127.7 731.8,127.8 733.2,127.9 734.5,128.1 735.9,128.2 737.2,128.3 738.5,128.4 739.9,128.5 741.2,128.6 742.6,128.7 743.9,128.8 745.3,128.9 746.6,128.9 747.9,129 749.3,129 750.6,129.1 752,129.1 753.3,129.1 754.7,129.2 756,129.2 757.4,129.2 758.7,129.2 760,129.2 761.4,129.2 762.7,129.3 764.1,129.3 765.4,129.3 766.8,129.3 768.1,129.3 769.4,129.3 770.8,129.3 772.1,129.2 773.5,129.2 774.8,129.2 776.2,129 777.5,128.8 778.9,128.4 780.2,127.5L780.2,131.1Z" fill="rgba(84,204,246,0.72)"/>
<path d="M645.8,126.5 647.2,125.9 648.5,125.3 649.9,124.7 651.2,124 652.6,123.4 653.9,122.9 655.2,122.5 656.6,122.2 657.9,122 659.3,121.9 660.6,121.8 662,121.8 663.3,121.8 664.6,121.9 666,122 667.3,122.2 668.7,122.4 670,122.7 671.4,122.9 672.7,123.2 674,123.5 675.4,123.8 676.7,124.1 678.1,124.4 679.4,124.7 680.8,124.9 682.1,125.1 683.5,125.4 684.8,125.6 686.1,125.7 687.5,125.9 688.8,126 690.2,126.1 691.5,126.2 692.9,126.2 694.2,126.2 695.5,126.2 696.9,126.2 698.2,126.2 699.6,126.2 700.9,126.1 702.3,126.1 703.6,126 705,126 706.3,126 707.6,125.9 709,125.9 710.3,126 711.7,126 713,126.1 714.4,126.1 715.7,126.2 717,126.3 718.4,126.4 719.7,126.5 721.1,126.6 722.4,126.8 723.8,126.9 725.1,127.1 726.5,127.2 727.8,127.4 729.1,127.5 730.5,127.7 731.8,127.8 733.2,127.9 734.5,128.1 735.9,128.2 737.2,128.3 738.5,128.4 739.9,128.5 741.2,128.6 742.6,128.7 743.9,128.8 745.3,128.9 746.6,128.9 747.9,129 749.3,129 750.6,129.1 752,129.1 753.3,129.1 754.7,129.2 756,129.2 757.4,129.2 758.7,129.2 760,129.2 761.4,129.2 762.7,129.3 764.1,129.3 765.4,129.3 766.8,129.3 768.1,129.3 769.4,129.3 770.8,129.3 772.1,129.2 773.5,129.2 774.8,129.2 776.2,129 777.5,128.8 778.9,128.4 780.2,127.5" fill="none" stroke="rgb(49,129,148)" stroke-width="0.79" stroke-linejoin="round"/>
<path d="M637.7,139.4L637.7,132.4 639.1,131.3 640.5,130.2 641.9,129 643.3,127.9 644.7,126.8 646,125.9 647.4,125.1 648.8,124.6 650.2,124.4 651.6,124.3 653,124.3 654.4,124.4 655.7,124.6 657.1,124.9 658.5,125.3 659.9,125.7 661.3,126.2 662.7,126.7 664,127.3 665.4,127.9 666.8,128.5 668.2,129.1 669.6,129.7 671,130.3 672.4,130.9 673.7,131.4 675.1,131.9 676.5,132.4 677.9,132.8 679.3,133.2 680.7,133.5 682,133.8 683.4,134.1 684.8,134.3 686.2,134.5 687.6,134.7 689,134.9 690.4,135 691.7,135.1 693.1,135.1 694.5,135.2 695.9,135.2 697.3,135.3 698.7,135.3 700.1,135.4 701.4,135.4 702.8,135.4 704.2,135.5 705.6,135.5 707,135.6 708.4,135.6 709.7,135.7 711.1,135.8 712.5,135.8 713.9,135.9 715.3,136 716.7,136.1 718.1,136.1 719.4,136.2 720.8,136.3 722.2,136.4 723.6,136.5 725,136.5 726.4,136.6 727.7,136.7 729.1,136.8 730.5,136.8 731.9,136.9 733.3,136.9 734.7,137 736.1,137 737.4,137.1 738.8,137.1 740.2,137.2 741.6,137.2 743,137.2 744.4,137.3 745.7,137.3 747.1,137.3 748.5,137.3 749.9,137.3 751.3,137.3 752.7,137.3 754.1,137.4 755.4,137.4 756.8,137.4 758.2,137.4 759.6,137.4 761,137.4 762.4,137.4 763.7,137.4 765.1,137.4 766.5,137.4 767.9,137.3 769.3,137.3 770.7,137.3 772.1,137.1 773.4,136.9 774.8,136.4 776.2,135.6L776.2,139.4Z" fill="rgba(93,205,247,0.70)"/>
<path d="M637.7,132.4 639.1,131.3 640.5,130.2 641.9,129 643.3,127.9 644.7,126.8 646,125.9 647.4,125.1 648.8,124.6 650.2,124.4 651.6,124.3 653,124.3 654.4,124.4 655.7,124.6 657.1,124.9 658.5,125.3 659.9,125.7 661.3,126.2 662.7,126.7 664,127.3 665.4,127.9 666.8,128.5 668.2,129.1 669.6,129.7 671,130.3 672.4,130.9 673.7,131.4 675.1,131.9 676.5,132.4 677.9,132.8 679.3,133.2 680.7,133.5 682,133.8 683.4,134.1 684.8,134.3 686.2,134.5 687.6,134.7 689,134.9 690.4,135 691.7,135.1 693.1,135.1 694.5,135.2 695.9,135.2 697.3,135.3 698.7,135.3 700.1,135.4 701.4,135.4 702.8,135.4 704.2,135.5 705.6,135.5 707,135.6 708.4,135.6 709.7,135.7 711.1,135.8 712.5,135.8 713.9,135.9 715.3,136 716.7,136.1 718.1,136.1 719.4,136.2 720.8,136.3 722.2,136.4 723.6,136.5 725,136.5 726.4,136.6 727.7,136.7 729.1,136.8 730.5,136.8 731.9,136.9 733.3,136.9 734.7,137 736.1,137 737.4,137.1 738.8,137.1 740.2,137.2 741.6,137.2 743,137.2 744.4,137.3 745.7,137.3 747.1,137.3 748.5,137.3 749.9,137.3 751.3,137.3 752.7,137.3 754.1,137.4 755.4,137.4 756.8,137.4 758.2,137.4 759.6,137.4 761,137.4 762.4,137.4 763.7,137.4 765.1,137.4 766.5,137.4 767.9,137.3 769.3,137.3 770.7,137.3 772.1,137.1 773.4,136.9 774.8,136.4 776.2,135.6" fill="none" stroke="rgb(51,132,151)" stroke-width="0.76" stroke-linejoin="round"/>
<path d="M629.1,148.3L629.1,136.8 630.6,134.9 632,132.8 633.4,130.6 634.8,128.5 636.3,126.6 637.7,124.9 639.1,123.5 640.6,122.5 642,122 643.4,121.9 644.8,121.9 646.3,122.1 647.7,122.4 649.1,122.9 650.6,123.6 652,124.3 653.4,125.2 654.8,126.2 656.3,127.3 657.7,128.4 659.1,129.5 660.6,130.6 662,131.8 663.4,132.8 664.8,133.9 666.3,134.9 667.7,135.9 669.1,136.8 670.6,137.6 672,138.4 673.4,139.1 674.8,139.8 676.3,140.4 677.7,140.9 679.1,141.4 680.6,141.8 682,142.2 683.4,142.6 684.8,142.9 686.3,143.1 687.7,143.4 689.1,143.6 690.6,143.8 692,144 693.4,144.1 694.8,144.3 696.3,144.4 697.7,144.5 699.1,144.6 700.6,144.7 702,144.8 703.4,144.9 704.8,145 706.3,145.1 707.7,145.2 709.1,145.2 710.6,145.3 712,145.4 713.4,145.4 714.8,145.5 716.3,145.6 717.7,145.6 719.1,145.7 720.6,145.7 722,145.8 723.4,145.8 724.8,145.8 726.3,145.9 727.7,145.9 729.1,145.9 730.6,145.9 732,146 733.4,146 734.8,146 736.3,146 737.7,146 739.1,146 740.6,146 742,146.1 743.4,146.1 744.8,146.1 746.3,146.1 747.7,146.1 749.1,146.1 750.5,146.1 752,146.1 753.4,146.1 754.8,146.1 756.3,146.1 757.7,146.1 759.1,146.1 760.5,146.1 762,146.1 763.4,146.1 764.8,146 766.3,146 767.7,145.8 769.1,145.6 770.5,145.1 772,144.2L772,148.3Z" fill="rgba(103,207,249,0.68)"/>
<path d="M629.1,136.8 630.6,134.9 632,132.8 633.4,130.6 634.8,128.5 636.3,126.6 637.7,124.9 639.1,123.5 640.6,122.5 642,122 643.4,121.9 644.8,121.9 646.3,122.1 647.7,122.4 649.1,122.9 650.6,123.6 652,124.3 653.4,125.2 654.8,126.2 656.3,127.3 657.7,128.4 659.1,129.5 660.6,130.6 662,131.8 663.4,132.8 664.8,133.9 666.3,134.9 667.7,135.9 669.1,136.8 670.6,137.6 672,138.4 673.4,139.1 674.8,139.8 676.3,140.4 677.7,140.9 679.1,141.4 680.6,141.8 682,142.2 683.4,142.6 684.8,142.9 686.3,143.1 687.7,143.4 689.1,143.6 690.6,143.8 692,144 693.4,144.1 694.8,144.3 696.3,144.4 697.7,144.5 699.1,144.6 700.6,144.7 702,144.8 703.4,144.9 704.8,145 706.3,145.1 707.7,145.2 709.1,145.2 710.6,145.3 712,145.4 713.4,145.4 714.8,145.5 716.3,145.6 717.7,145.6 719.1,145.7 720.6,145.7 722,145.8 723.4,145.8 724.8,145.8 726.3,145.9 727.7,145.9 729.1,145.9 730.6,145.9 732,146 733.4,146 734.8,146 736.3,146 737.7,146 739.1,146 740.6,146 742,146.1 743.4,146.1 744.8,146.1 746.3,146.1 747.7,146.1 749.1,146.1 750.5,146.1 752,146.1 753.4,146.1 754.8,146.1 756.3,146.1 757.7,146.1 759.1,146.1 760.5,146.1 762,146.1 763.4,146.1 764.8,146 766.3,146 767.7,145.8 769.1,145.6 770.5,145.1 772,144.2" fill="none" stroke="rgb(52,135,153)" stroke-width="0.73" stroke-linejoin="round"/>
<path d="M620,157.7L620,134.2 621.4,129.6 622.9,124.6 624.4,119.5 625.9,114.5 627.3,109.9 628.8,105.9 630.3,102.8 631.8,100.8 633.2,100 634.7,100.1 636.2,100.6 637.7,101.4 639.1,102.7 640.6,104.3 642.1,106.2 643.6,108.4 645,110.8 646.5,113.4 648,116.1 649.5,118.9 650.9,121.8 652.4,124.6 653.9,127.4 655.4,130.1 656.8,132.6 658.3,135.1 659.8,137.4 661.3,139.5 662.7,141.5 664.2,143.2 665.7,144.8 667.2,146.3 668.6,147.5 670.1,148.7 671.6,149.6 673.1,150.5 674.5,151.2 676,151.9 677.5,152.4 679,152.9 680.4,153.3 681.9,153.6 683.4,153.9 684.9,154.1 686.3,154.3 687.8,154.5 689.3,154.6 690.8,154.8 692.2,154.9 693.7,154.9 695.2,155 696.7,155.1 698.1,155.2 699.6,155.2 701.1,155.2 702.6,155.3 704,155.3 705.5,155.4 707,155.4 708.5,155.4 709.9,155.4 711.4,155.4 712.9,155.5 714.4,155.5 715.8,155.5 717.3,155.5 718.8,155.5 720.3,155.5 721.7,155.5 723.2,155.5 724.7,155.5 726.2,155.5 727.6,155.5 729.1,155.5 730.6,155.5 732.1,155.5 733.5,155.6 735,155.6 736.5,155.6 738,155.6 739.4,155.6 740.9,155.6 742.4,155.6 743.9,155.6 745.3,155.6 746.8,155.6 748.3,155.6 749.8,155.6 751.2,155.6 752.7,155.6 754.2,155.6 755.7,155.5 757.1,155.5 758.6,155.5 760.1,155.5 761.6,155.4 763,155.3 764.5,155 766,154.6 767.5,153.6L767.5,157.7Z" fill="rgba(112,208,250,0.66)"/>
<path d="M620,134.2 621.4,129.6 622.9,124.6 624.4,119.5 625.9,114.5 627.3,109.9 628.8,105.9 630.3,102.8 631.8,100.8 633.2,100 634.7,100.1 636.2,100.6 637.7,101.4 639.1,102.7 640.6,104.3 642.1,106.2 643.6,108.4 645,110.8 646.5,113.4 648,116.1 649.5,118.9 650.9,121.8 652.4,124.6 653.9,127.4 655.4,130.1 656.8,132.6 658.3,135.1 659.8,137.4 661.3,139.5 662.7,141.5 664.2,143.2 665.7,144.8 667.2,146.3 668.6,147.5 670.1,148.7 671.6,149.6 673.1,150.5 674.5,151.2 676,151.9 677.5,152.4 679,152.9 680.4,153.3 681.9,153.6 683.4,153.9 684.9,154.1 686.3,154.3 687.8,154.5 689.3,154.6 690.8,154.8 692.2,154.9 693.7,154.9 695.2,155 696.7,155.1 698.1,155.2 699.6,155.2 701.1,155.2 702.6,155.3 704,155.3 705.5,155.4 707,155.4 708.5,155.4 709.9,155.4 711.4,155.4 712.9,155.5 714.4,155.5 715.8,155.5 717.3,155.5 718.8,155.5 720.3,155.5 721.7,155.5 723.2,155.5 724.7,155.5 726.2,155.5 727.6,155.5 729.1,155.5 730.6,155.5 732.1,155.5 733.5,155.6 735,155.6 736.5,155.6 738,155.6 739.4,155.6 740.9,155.6 742.4,155.6 743.9,155.6 745.3,155.6 746.8,155.6 748.3,155.6 749.8,155.6 751.2,155.6 752.7,155.6 754.2,155.6 755.7,155.5 757.1,155.5 758.6,155.5 760.1,155.5 761.6,155.4 763,155.3 764.5,155 766,154.6 767.5,153.6" fill="none" stroke="rgb(54,138,156)" stroke-width="0.7" stroke-linejoin="round"/>
<path d="M611.9,166.0H763.5M611.9,166.0V98.3M763.5,166.0L809.7,69.3M611.9,166.0v2.4M621.4,166.0v1.4M630.9,166.0v2.4M640.3,166.0v1.4M649.8,166.0v2.4M659.3,166.0v1.4M668.8,166.0v2.4M678.2,166.0v1.4M687.7,166.0v2.4M697.2,166.0v1.4M706.6,166.0v2.4M716.1,166.0v1.4M725.6,166.0v2.4M735.1,166.0v1.4M744.5,166.0v2.4M754,166.0v1.4M763.5,166.0v2.4M767.5,157.7h2.2M772,148.3h2.2M776.2,139.4h2.2M780.2,131.1h2.2M783.9,123.2h2.2M787.5,115.8h2.2M790.8,108.8h2.2M794,102.1h2.2M797,95.8h2.2M799.9,89.9h2.2M802.6,84.2h2.2M805.2,78.8h2.2M807.6,73.6h2.2" stroke="#3a3a3a" stroke-width="0.9" fill="none"/>
<g font-size="6.9" fill="#141414" text-anchor="middle">
<text x="617.2" y="178.8">400</text>
<text x="635.5" y="178.8">450</text>
<text x="653.8" y="178.8">500</text>
<text x="672.1" y="178.8">550</text>
<text x="690.4" y="178.8">600</text>
<text x="708.7" y="178.8">650</text>
<text x="726.9" y="178.8">700</text>
<text x="745.2" y="178.8">750</text>
<text x="763.5" y="178.8">800</text>
</g>
<g font-size="5.7" fill="#161616">
<text x="771.3" y="160">0 s</text>
<text x="775.8" y="150.6">5 s</text>
<text x="780" y="141.7">15 s</text>
<text x="784" y="133.4">30 s</text>
<text x="787.7" y="125.5">1 min</text>
<text x="791.3" y="118.1">3 min</text>
<text x="794.6" y="111.1">5 min</text>
<text x="797.8" y="104.4">10 min</text>
<text x="800.8" y="98.1">20 min</text>
<text x="803.7" y="92.2">30 min</text>
<text x="806.4" y="86.5">1 h</text>
<text x="809" y="81.1">1.5 h</text>
<text x="811.4" y="75.9">2 h</text>
</g>
<text font-size="7.2" font-weight="bold" fill="#1a1a1a" text-anchor="middle" transform="translate(815.6,120.6) rotate(-58)">Time</text>
<text x="662.3" y="187.2" font-size="8.2" font-weight="bold" fill="#1a1a1a" textLength="55.6" lengthAdjust="spacingAndGlyphs">Wavelength / nm</text>
<text font-size="7.8" font-weight="bold" fill="#1a1a1a" transform="translate(606.0,157.0) rotate(-90)" textLength="46.8" lengthAdjust="spacingAndGlyphs">Intensity / a.u.</text>
<text x="576.7" y="15.3" font-size="13.4" font-weight="bold" fill="#111">(d)</text>
</g>
<defs>
<linearGradient id="cg0" gradientUnits="userSpaceOnUse" x1="165" x2="183"><stop offset="0" stop-color="#2e00ff"/><stop offset="1" stop-color="#3b00ff"/></linearGradient><linearGradient id="cg1" gradientUnits="userSpaceOnUse" x1="157.3" x2="197.8"><stop offset="0" stop-color="#2700ff"/><stop offset="1" stop-color="#4500ff"/></linearGradient><linearGradient id="cg2" gradientUnits="userSpaceOnUse" x1="149.6" x2="212.6"><stop offset="0" stop-color="#2000ff"/><stop offset="1" stop-color="#4e00ff"/></linearGradient><linearGradient id="cg3" gradientUnits="userSpaceOnUse" x1="142.5" x2="226.5"><stop offset="0" stop-color="#1800ff"/><stop offset="1" stop-color="#5800ff"/></linearGradient><linearGradient id="cg4" gradientUnits="userSpaceOnUse" x1="136.4" x2="241.4"><stop offset="0" stop-color="#1100ff"/><stop offset="1" stop-color="#6200ff"/></linearGradient><linearGradient id="cg5" gradientUnits="userSpaceOnUse" x1="130.9" x2="255.4"><stop offset="0" stop-color="#0a00ff"/><stop offset="1" stop-color="#6d00ff"/></linearGradient><linearGradient id="cg6" gradientUnits="userSpaceOnUse" x1="126.6" x2="270.6"><stop offset="0" stop-color="#0400ff"/><stop offset="1" stop-color="#7800ff"/></linearGradient><linearGradient id="cg7" gradientUnits="userSpaceOnUse" x1="122.3" x2="285.8"><stop offset="0" stop-color="#0000ff"/><stop offset="1" stop-color="#8400ff"/></linearGradient><linearGradient id="cg8" gradientUnits="userSpaceOnUse" x1="118.4" x2="299.9"><stop offset="0" stop-color="#0001ff"/><stop offset=".074" stop-color="#0300ff"/><stop offset="1" stop-color="#9000ff"/></linearGradient><linearGradient id="cg9" gradientUnits="userSpaceOnUse" x1="115" x2="314.5"><stop offset="0" stop-color="#0007ff"/><stop offset=".098" stop-color="#0300ff"/><stop offset="1" stop-color="#9d00ff"/></linearGradient><linearGradient id="cg10" gradientUnits="userSpaceOnUse" x1="111.6" x2="329.1"><stop offset="0" stop-color="#000cff"/><stop offset=".117" stop-color="#0304ff"/><stop offset=".269" stop-color="#2100ff"/><stop offset="1" stop-color="#ab00ff"/></linearGradient><linearGradient id="cg11" gradientUnits="userSpaceOnUse" x1="108.2" x2="343.7"><stop offset="0" stop-color="#0011ff"/><stop offset=".134" stop-color="#0208ff"/><stop offset=".268" stop-color="#1f00ff"/><stop offset=".987" stop-color="#b600ff"/><stop offset="1" stop-color="#b900ff"/></linearGradient><linearGradient id="cg12" gradientUnits="userSpaceOnUse" x1="105" x2="358.5"><stop offset="0" stop-color="#0016ff"/><stop offset=".148" stop-color="#020bff"/><stop offset=".302" stop-color="#2600ff"/><stop offset=".941" stop-color="#b900ff"/><stop offset="1" stop-color="#c900ff"/></linearGradient><linearGradient id="cg13" gradientUnits="userSpaceOnUse" x1="102.3" x2="373.8"><stop offset="0" stop-color="#001bff"/><stop offset=".16" stop-color="#020eff"/><stop offset=".337" stop-color="#2f00ff"/><stop offset=".895" stop-color="#bc00ff"/><stop offset="1" stop-color="#da00ff"/></linearGradient><linearGradient id="cg14" gradientUnits="userSpaceOnUse" x1="99.5" x2="387.5"><stop offset="0" stop-color="#001fff"/><stop offset=".172" stop-color="#0312ff"/><stop offset=".318" stop-color="#2b03ff"/><stop offset=".609" stop-color="#7700ff"/><stop offset="1" stop-color="#ea00ff"/></linearGradient><linearGradient id="cg15" gradientUnits="userSpaceOnUse" x1="96.8" x2="402.8"><stop offset="0" stop-color="#0024ff"/><stop offset=".176" stop-color="#0115ff"/><stop offset=".279" stop-color="#220dff"/><stop offset=".392" stop-color="#4000ff"/><stop offset=".838" stop-color="#c500ff"/><stop offset="1" stop-color="#fd00ff"/></linearGradient><linearGradient id="cg16" gradientUnits="userSpaceOnUse" x1="94.1" x2="416.6"><stop offset="0" stop-color="#0029ff"/><stop offset=".186" stop-color="#0219ff"/><stop offset=".284" stop-color="#2411ff"/><stop offset=".419" stop-color="#4a00ff"/><stop offset=".819" stop-color="#cb00ff"/><stop offset=".963" stop-color="#ff00fd"/><stop offset="1" stop-color="#ff00ef"/></linearGradient><linearGradient id="cg17" gradientUnits="userSpaceOnUse" x1="91.4" x2="431.9"><stop offset="0" stop-color="#002eff"/><stop offset=".194" stop-color="#021cff"/><stop offset=".291" stop-color="#2615ff"/><stop offset=".445" stop-color="#5600ff"/><stop offset=".806" stop-color="#d500ff"/><stop offset=".916" stop-color="#ff00fc"/><stop offset="1" stop-color="#ff00dd"/></linearGradient><linearGradient id="cg18" gradientUnits="userSpaceOnUse" x1="88.7" x2="445.7"><stop offset="0" stop-color="#0032ff"/><stop offset=".202" stop-color="#0320ff"/><stop offset=".298" stop-color="#2918ff"/><stop offset=".462" stop-color="#5f00ff"/><stop offset=".79" stop-color="#dc00ff"/><stop offset=".878" stop-color="#ff00fc"/><stop offset="1" stop-color="#ff00ce"/></linearGradient><linearGradient id="cg19" gradientUnits="userSpaceOnUse" x1="86.2" x2="461.2"><stop offset="0" stop-color="#0037ff"/><stop offset=".204" stop-color="#0124ff"/><stop offset=".3" stop-color="#2b1dff"/><stop offset=".48" stop-color="#6a00ff"/><stop offset=".776" stop-color="#e500ff"/><stop offset=".836" stop-color="#ff00fd"/><stop offset=".988" stop-color="#ff00c2"/><stop offset="1" stop-color="#ff00be"/></linearGradient><linearGradient id="cg20" gradientUnits="userSpaceOnUse" x1="83.9" x2="475.4"><stop offset="0" stop-color="#003cff"/><stop offset=".211" stop-color="#0227ff"/><stop offset=".307" stop-color="#2e20ff"/><stop offset=".498" stop-color="#7600ff"/><stop offset=".766" stop-color="#ef00ff"/><stop offset=".805" stop-color="#ff00fc"/><stop offset=".95" stop-color="#ff00c0"/><stop offset="1" stop-color="#ff00b0"/></linearGradient><linearGradient id="cg21" gradientUnits="userSpaceOnUse" x1="81.7" x2="489.7"><stop offset="0" stop-color="#0041ff"/><stop offset=".213" stop-color="#012bff"/><stop offset=".309" stop-color="#3125ff"/><stop offset=".515" stop-color="#8300ff"/><stop offset=".761" stop-color="#fb00ff"/><stop offset=".794" stop-color="#ff00f1"/><stop offset=".938" stop-color="#ff00b7"/><stop offset="1" stop-color="#ff00a3"/></linearGradient><linearGradient id="cg22" gradientUnits="userSpaceOnUse" x1="79.4" x2="505.4"><stop offset="0" stop-color="#0046ff"/><stop offset=".218" stop-color="#022fff"/><stop offset=".317" stop-color="#3628ff"/><stop offset=".528" stop-color="#9100ff"/><stop offset=".739" stop-color="#ff00fe"/><stop offset=".866" stop-color="#ff00c2"/><stop offset="1" stop-color="#ff0096"/></linearGradient><linearGradient id="cg23" gradientUnits="userSpaceOnUse" x1="77.2" x2="519.7"><stop offset="0" stop-color="#004bff"/><stop offset=".22" stop-color="#0133ff"/><stop offset=".319" stop-color="#382cff"/><stop offset=".522" stop-color="#9502ff"/><stop offset=".715" stop-color="#ff00fd"/><stop offset=".834" stop-color="#ff00c2"/><stop offset="1" stop-color="#ff008b"/></linearGradient><linearGradient id="cg24" gradientUnits="userSpaceOnUse" x1="74.9" x2="533.9"><stop offset="0" stop-color="#0050ff"/><stop offset=".225" stop-color="#0237ff"/><stop offset=".324" stop-color="#3c31ff"/><stop offset=".529" stop-color="#a004ff"/><stop offset=".569" stop-color="#b600ff"/><stop offset=".69" stop-color="#ff00fe"/><stop offset=".801" stop-color="#ff00c3"/><stop offset=".958" stop-color="#ff008c"/><stop offset="1" stop-color="#ff0080"/></linearGradient><linearGradient id="cg25" gradientUnits="userSpaceOnUse" x1="72.6" x2="548.1"><stop offset="0" stop-color="#0055ff"/><stop offset=".227" stop-color="#013cff"/><stop offset=".325" stop-color="#3e35ff"/><stop offset=".53" stop-color="#a909ff"/><stop offset=".568" stop-color="#c000ff"/><stop offset=".669" stop-color="#ff00fc"/><stop offset=".776" stop-color="#ff00c1"/><stop offset=".924" stop-color="#ff008a"/><stop offset="1" stop-color="#ff0076"/></linearGradient><linearGradient id="cg26" gradientUnits="userSpaceOnUse" x1="70.4" x2="563.9"><stop offset="0" stop-color="#005bff"/><stop offset=".231" stop-color="#0240ff"/><stop offset=".331" stop-color="#4439ff"/><stop offset=".526" stop-color="#b00eff"/><stop offset=".574" stop-color="#cf00ff"/><stop offset=".644" stop-color="#ff00fd"/><stop offset=".745" stop-color="#ff00c2"/><stop offset=".884" stop-color="#ff008b"/><stop offset="1" stop-color="#ff006c"/></linearGradient><linearGradient id="cg27" gradientUnits="userSpaceOnUse" x1="68.1" x2="578.1"><stop offset="0" stop-color="#0060ff"/><stop offset=".232" stop-color="#0145ff"/><stop offset=".332" stop-color="#473fff"/><stop offset=".518" stop-color="#b414ff"/><stop offset=".585" stop-color="#e300ff"/><stop offset=".626" stop-color="#ff00fc"/><stop offset=".721" stop-color="#ff00c1"/><stop offset=".853" stop-color="#ff008b"/><stop offset="1" stop-color="#ff0062"/></linearGradient><linearGradient id="cg28" gradientUnits="userSpaceOnUse" x1="65.9" x2="592.4"><stop offset="0" stop-color="#0065ff"/><stop offset=".236" stop-color="#034aff"/><stop offset=".336" stop-color="#4c43ff"/><stop offset=".507" stop-color="#b51cff"/><stop offset=".595" stop-color="#f800ff"/><stop offset=".61" stop-color="#ff00fb"/><stop offset=".701" stop-color="#ff00c0"/><stop offset=".826" stop-color="#ff008a"/><stop offset="1" stop-color="#ff0059"/></linearGradient><linearGradient id="cg29" gradientUnits="userSpaceOnUse" x1="63.9" x2="606.9"><stop offset="0" stop-color="#006bff"/><stop offset=".238" stop-color="#024fff"/><stop offset=".337" stop-color="#4f49ff"/><stop offset=".497" stop-color="#b823ff"/><stop offset=".588" stop-color="#ff04fe"/><stop offset=".63" stop-color="#ff00de"/><stop offset=".729" stop-color="#ff00a5"/><stop offset=".87" stop-color="#ff0071"/><stop offset="1" stop-color="#ff0051"/></linearGradient><linearGradient id="cg30" gradientUnits="userSpaceOnUse" x1="62.2" x2="621.7"><stop offset="0" stop-color="#0071ff"/><stop offset=".239" stop-color="#0154ff"/><stop offset=".338" stop-color="#534eff"/><stop offset=".491" stop-color="#bd2aff"/><stop offset=".571" stop-color="#ff0ffe"/><stop offset=".611" stop-color="#ff00dd"/><stop offset=".705" stop-color="#ff00a5"/><stop offset=".839" stop-color="#ff0071"/><stop offset="1" stop-color="#ff0049"/></linearGradient><linearGradient id="cg31" gradientUnits="userSpaceOnUse" x1="60.5" x2="636.5"><stop offset="0" stop-color="#0076ff"/><stop offset=".24" stop-color="#015aff"/><stop offset=".339" stop-color="#5754ff"/><stop offset=".482" stop-color="#bf32ff"/><stop offset=".557" stop-color="#ff19fc"/><stop offset=".617" stop-color="#ff00cc"/><stop offset=".716" stop-color="#ff0095"/><stop offset=".859" stop-color="#ff0062"/><stop offset="1" stop-color="#ff0041"/></linearGradient><linearGradient id="cg32" gradientUnits="userSpaceOnUse" x1="58.8" x2="651.3"><stop offset="0" stop-color="#007cff"/><stop offset=".241" stop-color="#005fff"/><stop offset=".337" stop-color="#5a5bff"/><stop offset=".473" stop-color="#c23aff"/><stop offset=".542" stop-color="#ff23fc"/><stop offset=".618" stop-color="#ff00bf"/><stop offset=".719" stop-color="#ff0089"/><stop offset=".866" stop-color="#ff0057"/><stop offset="1" stop-color="#ff0039"/></linearGradient><linearGradient id="cg33" gradientUnits="userSpaceOnUse" x1="57.2" x2="666.2"><stop offset="0" stop-color="#0083ff"/><stop offset=".241" stop-color="#0065ff"/><stop offset=".33" stop-color="#5761ff"/><stop offset=".473" stop-color="#cc40ff"/><stop offset=".527" stop-color="#ff2efc"/><stop offset=".601" stop-color="#ff0bbe"/><stop offset=".633" stop-color="#ff00a9"/><stop offset=".744" stop-color="#ff0075"/><stop offset=".909" stop-color="#ff0044"/><stop offset="1" stop-color="#ff0031"/></linearGradient><linearGradient id="cg34" gradientUnits="userSpaceOnUse" x1="55.5" x2="681"><stop offset="0" stop-color="#0089ff"/><stop offset=".242" stop-color="#006bff"/><stop offset=".336" stop-color="#6067ff"/><stop offset=".465" stop-color="#d048ff"/><stop offset=".513" stop-color="#ff38fc"/><stop offset=".583" stop-color="#ff15be"/><stop offset=".64" stop-color="#ff0099"/><stop offset=".758" stop-color="#ff0066"/><stop offset=".933" stop-color="#ff0037"/><stop offset="1" stop-color="#ff002a"/></linearGradient><linearGradient id="cg35" gradientUnits="userSpaceOnUse" x1="53.8" x2="695.8"><stop offset="0" stop-color="#008fff"/><stop offset=".245" stop-color="#0372ff"/><stop offset=".346" stop-color="#6e6dff"/><stop offset=".456" stop-color="#d152ff"/><stop offset=".5" stop-color="#ff43fd"/><stop offset=".568" stop-color="#ff1fbe"/><stop offset=".645" stop-color="#ff008c"/><stop offset=".766" stop-color="#ff005a"/><stop offset=".953" stop-color="#ff002c"/><stop offset="1" stop-color="#ff0023"/></linearGradient><linearGradient id="cg36" gradientUnits="userSpaceOnUse" x1="52.1" x2="710.6"><stop offset="0" stop-color="#0096ff"/><stop offset=".246" stop-color="#0379ff"/><stop offset=".346" stop-color="#7374ff"/><stop offset=".451" stop-color="#d85bff"/><stop offset=".487" stop-color="#ff4efd"/><stop offset=".551" stop-color="#ff29be"/><stop offset=".638" stop-color="#ff0385"/><stop offset=".759" stop-color="#ff0054"/><stop offset=".945" stop-color="#ff0026"/><stop offset="1" stop-color="#ff001c"/></linearGradient><linearGradient id="cg37" gradientUnits="userSpaceOnUse" x1="50.4" x2="723.9"><stop offset="0" stop-color="#009cff"/><stop offset=".247" stop-color="#0280ff"/><stop offset=".341" stop-color="#717cff"/><stop offset=".452" stop-color="#e462ff"/><stop offset=".477" stop-color="#ff5afd"/><stop offset=".539" stop-color="#ff32be"/><stop offset=".621" stop-color="#ff0d85"/><stop offset=".659" stop-color="#ff0072"/><stop offset=".795" stop-color="#ff0042"/><stop offset="1" stop-color="#ff0016"/></linearGradient><linearGradient id="cg38" gradientUnits="userSpaceOnUse" x1="48.8" x2="738.8"><stop offset="0" stop-color="#00a3ff"/><stop offset=".248" stop-color="#0287ff"/><stop offset=".333" stop-color="#6c84ff"/><stop offset=".391" stop-color="#ab7bff"/><stop offset=".465" stop-color="#ff66fd"/><stop offset=".524" stop-color="#ff3dbf"/><stop offset=".602" stop-color="#ff1686"/><stop offset=".663" stop-color="#ff0066"/><stop offset=".804" stop-color="#ff0037"/><stop offset="1" stop-color="#ff000f"/></linearGradient><linearGradient id="cg39" gradientUnits="userSpaceOnUse" x1="47.1" x2="738.6"><stop offset="0" stop-color="#00abff"/><stop offset=".254" stop-color="#018fff"/><stop offset=".332" stop-color="#678cff"/><stop offset=".386" stop-color="#a587ff"/><stop offset=".464" stop-color="#ff72fd"/><stop offset=".523" stop-color="#ff46be"/><stop offset=".601" stop-color="#ff1e84"/><stop offset=".683" stop-color="#ff005b"/><stop offset=".835" stop-color="#ff002d"/><stop offset="1" stop-color="#ff000c"/></linearGradient><linearGradient id="cg40" gradientUnits="userSpaceOnUse" x1="45.4" x2="732.4"><stop offset="0" stop-color="#00b2ff"/><stop offset=".262" stop-color="#0198ff"/><stop offset=".332" stop-color="#5f95ff"/><stop offset=".395" stop-color="#aa91ff"/><stop offset=".467" stop-color="#ff7ffe"/><stop offset=".524" stop-color="#ff52bf"/><stop offset=".6" stop-color="#ff2885"/><stop offset=".705" stop-color="#ff0052"/><stop offset=".869" stop-color="#ff0023"/><stop offset="1" stop-color="#ff000a"/></linearGradient><linearGradient id="cg41" gradientUnits="userSpaceOnUse" x1="43.7" x2="726.2"><stop offset="0" stop-color="#00baff"/><stop offset=".27" stop-color="#00a0ff"/><stop offset=".334" stop-color="#599eff"/><stop offset=".407" stop-color="#b29bff"/><stop offset=".47" stop-color="#ff8cfe"/><stop offset=".527" stop-color="#ff5cbe"/><stop offset=".602" stop-color="#ff3185"/><stop offset=".708" stop-color="#ff0750"/><stop offset=".741" stop-color="#ff0044"/><stop offset=".925" stop-color="#ff0016"/><stop offset="1" stop-color="#ff0008"/></linearGradient><linearGradient id="cg42" gradientUnits="userSpaceOnUse" x1="42" x2="718.5"><stop offset="0" stop-color="#00c1ff"/><stop offset=".279" stop-color="#00aaff"/><stop offset=".344" stop-color="#5ba7ff"/><stop offset=".419" stop-color="#bba6ff"/><stop offset=".475" stop-color="#ff9afe"/><stop offset=".532" stop-color="#ff66bd"/><stop offset=".608" stop-color="#ff3983"/><stop offset=".714" stop-color="#ff0e4e"/><stop offset=".765" stop-color="#ff003c"/><stop offset=".969" stop-color="#ff000c"/><stop offset="1" stop-color="#ff0007"/></linearGradient><linearGradient id="cg43" gradientUnits="userSpaceOnUse" x1="40.6" x2="712.6"><stop offset="0" stop-color="#00c9ff"/><stop offset=".288" stop-color="#00b4ff"/><stop offset=".348" stop-color="#59b2ff"/><stop offset=".431" stop-color="#c5b1ff"/><stop offset=".478" stop-color="#ffa8fe"/><stop offset=".536" stop-color="#ff71bc"/><stop offset=".609" stop-color="#ff4382"/><stop offset=".714" stop-color="#ff174d"/><stop offset=".79" stop-color="#ff0033"/><stop offset="1" stop-color="#ff0004"/></linearGradient><linearGradient id="cg44" gradientUnits="userSpaceOnUse" x1="39.4" x2="705.4"><stop offset="0" stop-color="#00d2ff"/><stop offset=".297" stop-color="#01beff"/><stop offset=".36" stop-color="#5fbdff"/><stop offset=".444" stop-color="#d0bdff"/><stop offset=".482" stop-color="#ffb6fd"/><stop offset=".541" stop-color="#ff7cba"/><stop offset=".615" stop-color="#ff4b80"/><stop offset=".718" stop-color="#ff1e4c"/><stop offset=".818" stop-color="#ff002a"/><stop offset="1" stop-color="#ff0002"/></linearGradient><linearGradient id="cg45" gradientUnits="userSpaceOnUse" x1="38.1" x2="698.1"><stop offset="0" stop-color="#00daff"/><stop offset=".307" stop-color="#02caff"/><stop offset=".375" stop-color="#6ac8ff"/><stop offset=".457" stop-color="#dbcaff"/><stop offset=".486" stop-color="#ffc4fd"/><stop offset=".543" stop-color="#ff88bb"/><stop offset=".616" stop-color="#ff5681"/><stop offset=".718" stop-color="#ff274c"/><stop offset=".845" stop-color="#ff0021"/><stop offset="1" stop-color="#ff0000"/></linearGradient><linearGradient id="cg46" gradientUnits="userSpaceOnUse" x1="36.8" x2="692.3"><stop offset="0" stop-color="#00e3ff"/><stop offset=".316" stop-color="#03d6ff"/><stop offset=".389" stop-color="#75d5ff"/><stop offset=".469" stop-color="#e7d7ff"/><stop offset=".49" stop-color="#ffd3fc"/><stop offset=".547" stop-color="#ff94ba"/><stop offset=".618" stop-color="#ff6080"/><stop offset=".719" stop-color="#ff2f4b"/><stop offset=".87" stop-color="#ff0019"/><stop offset="1" stop-color="#ff0000"/></linearGradient><linearGradient id="cg47" gradientUnits="userSpaceOnUse" x1="35.6" x2="685.1"><stop offset="0" stop-color="#00ecff"/><stop offset=".323" stop-color="#00e3ff"/><stop offset=".416" stop-color="#93e2ff"/><stop offset=".48" stop-color="#f1e5ff"/><stop offset=".494" stop-color="#ffe1fc"/><stop offset=".552" stop-color="#ff9fb9"/><stop offset=".624" stop-color="#ff697e"/><stop offset=".723" stop-color="#ff374a"/><stop offset=".878" stop-color="#ff0516"/><stop offset=".915" stop-color="#ff000d"/><stop offset=".991" stop-color="#ff0000"/><stop offset="1" stop-color="#ff0000"/></linearGradient><linearGradient id="cg48" gradientUnits="userSpaceOnUse" x1="34.3" x2="677.8"><stop offset="0" stop-color="#00f6ff"/><stop offset=".333" stop-color="#00f1ff"/><stop offset=".403" stop-color="#75f1ff"/><stop offset=".487" stop-color="#f5f4ff"/><stop offset=".499" stop-color="#fff0fc"/><stop offset=".559" stop-color="#ffa9b5"/><stop offset=".629" stop-color="#ff727c"/><stop offset=".727" stop-color="#ff3f48"/><stop offset=".881" stop-color="#ff0c14"/><stop offset=".937" stop-color="#ff0006"/><stop offset=".986" stop-color="#ff0000"/><stop offset="1" stop-color="#ff0000"/></linearGradient><linearGradient id="cg49" gradientUnits="userSpaceOnUse" x1="33" x2="672"><stop offset="0" stop-color="#00fffe"/><stop offset=".343" stop-color="#00fffe"/><stop offset=".397" stop-color="#5ffffe"/><stop offset=".493" stop-color="#f7fffe"/><stop offset=".502" stop-color="#fffdfc"/><stop offset=".57" stop-color="#ffaead"/><stop offset=".643" stop-color="#ff7574"/><stop offset=".744" stop-color="#ff4140"/><stop offset=".908" stop-color="#ff0c0b"/><stop offset=".962" stop-color="#ff0000"/><stop offset="1" stop-color="#ff0000"/></linearGradient><linearGradient id="cg50" gradientUnits="userSpaceOnUse" x1="31.8" x2="664.8"><stop offset="0" stop-color="#00fff4"/><stop offset=".353" stop-color="#01ffee"/><stop offset=".408" stop-color="#5dffee"/><stop offset=".505" stop-color="#f3fff1"/><stop offset=".517" stop-color="#fffeef"/><stop offset=".576" stop-color="#ffb8a9"/><stop offset=".647" stop-color="#ff7d70"/><stop offset=".744" stop-color="#ff493e"/><stop offset=".896" stop-color="#ff160c"/><stop offset=".948" stop-color="#ff0800"/><stop offset="1" stop-color="#ff0000"/></linearGradient><linearGradient id="cg51" gradientUnits="userSpaceOnUse" x1="30.5" x2="657.5"><stop offset="0" stop-color="#00ffeb"/><stop offset=".364" stop-color="#02ffdf"/><stop offset=".428" stop-color="#6affde"/><stop offset=".517" stop-color="#edffe2"/><stop offset=".533" stop-color="#fffcdd"/><stop offset=".591" stop-color="#ffb99c"/><stop offset=".663" stop-color="#ff7e66"/><stop offset=".761" stop-color="#ff4a35"/><stop offset=".914" stop-color="#ff1703"/><stop offset="1" stop-color="#ff0400"/></linearGradient><linearGradient id="cg52" gradientUnits="userSpaceOnUse" x1="29.2" x2="650.2"><stop offset="0" stop-color="#00ffe2"/><stop offset=".374" stop-color="#02ffd1"/><stop offset=".447" stop-color="#73ffd0"/><stop offset=".524" stop-color="#e2ffd2"/><stop offset=".548" stop-color="#fffdce"/><stop offset=".604" stop-color="#ffbc91"/><stop offset=".674" stop-color="#ff825d"/><stop offset=".773" stop-color="#ff4d2e"/><stop offset=".918" stop-color="#ff1c00"/><stop offset="1" stop-color="#ff0a00"/></linearGradient><linearGradient id="cg53" gradientUnits="userSpaceOnUse" x1="28" x2="644.5"><stop offset="0" stop-color="#00ffd9"/><stop offset=".382" stop-color="#00ffc4"/><stop offset=".489" stop-color="#9fffc2"/><stop offset=".545" stop-color="#e8ffc0"/><stop offset=".564" stop-color="#fffcbb"/><stop offset=".62" stop-color="#ffbb81"/><stop offset=".693" stop-color="#ff804f"/><stop offset=".796" stop-color="#ff4b22"/><stop offset=".905" stop-color="#ff2600"/><stop offset="1" stop-color="#ff1000"/></linearGradient><linearGradient id="cg54" gradientUnits="userSpaceOnUse" x1="26.7" x2="637.2"><stop offset="0" stop-color="#00ffd0"/><stop offset=".393" stop-color="#00ffb6"/><stop offset=".477" stop-color="#7affb4"/><stop offset=".538" stop-color="#cbffb3"/><stop offset=".58" stop-color="#fffdab"/><stop offset=".636" stop-color="#ffbc74"/><stop offset=".71" stop-color="#ff8244"/><stop offset=".813" stop-color="#ff4d18"/><stop offset=".892" stop-color="#ff3100"/><stop offset="1" stop-color="#ff1600"/></linearGradient><linearGradient id="cg55" gradientUnits="userSpaceOnUse" x1="25.4" x2="629.9"><stop offset="0" stop-color="#00ffc8"/><stop offset=".385" stop-color="#00ffac"/><stop offset=".404" stop-color="#00ffa9"/><stop offset=".474" stop-color="#64ffa7"/><stop offset=".541" stop-color="#baffa5"/><stop offset=".596" stop-color="#ffff9a"/><stop offset=".653" stop-color="#ffbd66"/><stop offset=".727" stop-color="#ff8339"/><stop offset=".831" stop-color="#ff4e0e"/><stop offset=".881" stop-color="#ff3c00"/><stop offset="1" stop-color="#ff1d00"/></linearGradient><linearGradient id="cg56" gradientUnits="userSpaceOnUse" x1="24.2" x2="622.7"><stop offset="0" stop-color="#00ffc0"/><stop offset=".376" stop-color="#00ffa2"/><stop offset=".416" stop-color="#00ff9d"/><stop offset=".479" stop-color="#59ff9a"/><stop offset=".546" stop-color="#adff98"/><stop offset=".614" stop-color="#fffd87"/><stop offset=".669" stop-color="#ffbe58"/><stop offset=".742" stop-color="#ff862e"/><stop offset=".845" stop-color="#ff5105"/><stop offset=".877" stop-color="#ff4500"/><stop offset="1" stop-color="#ff2400"/></linearGradient><linearGradient id="cg57" gradientUnits="userSpaceOnUse" x1="22.9" x2="616.9"><stop offset="0" stop-color="#00ffb9"/><stop offset=".369" stop-color="#00ff99"/><stop offset=".427" stop-color="#01ff91"/><stop offset=".5" stop-color="#64ff8e"/><stop offset=".556" stop-color="#a6ff89"/><stop offset=".629" stop-color="#ffff76"/><stop offset=".684" stop-color="#ffc04a"/><stop offset=".758" stop-color="#ff8723"/><stop offset=".848" stop-color="#ff5800"/><stop offset="1" stop-color="#ff2a00"/></linearGradient><linearGradient id="cg58" gradientUnits="userSpaceOnUse" x1="21.6" x2="609.6"><stop offset="0" stop-color="#00ffb1"/><stop offset=".365" stop-color="#00ff90"/><stop offset=".439" stop-color="#02ff85"/><stop offset=".52" stop-color="#6cff82"/><stop offset=".579" stop-color="#adff78"/><stop offset=".648" stop-color="#fffe63"/><stop offset=".704" stop-color="#ffbf3b"/><stop offset=".781" stop-color="#ff8514"/><stop offset=".834" stop-color="#ff6900"/><stop offset=".969" stop-color="#ff3900"/><stop offset="1" stop-color="#ff3100"/></linearGradient><linearGradient id="cg59" gradientUnits="userSpaceOnUse" x1="20.4" x2="602.4"><stop offset="0" stop-color="#00ffaa"/><stop offset=".361" stop-color="#00ff88"/><stop offset=".451" stop-color="#03ff7a"/><stop offset=".541" stop-color="#74ff76"/><stop offset=".637" stop-color="#dbff5c"/><stop offset=".668" stop-color="#fffc50"/><stop offset=".724" stop-color="#ffbe2b"/><stop offset=".802" stop-color="#ff8505"/><stop offset=".825" stop-color="#ff7800"/><stop offset=".946" stop-color="#ff4800"/><stop offset="1" stop-color="#ff3800"/></linearGradient><linearGradient id="cg60" gradientUnits="userSpaceOnUse" x1="19.2" x2="596.7"><stop offset="0" stop-color="#00ffa3"/><stop offset=".358" stop-color="#00ff7f"/><stop offset=".46" stop-color="#00ff6f"/><stop offset=".545" stop-color="#69ff6b"/><stop offset=".644" stop-color="#d0ff4e"/><stop offset=".683" stop-color="#fffd3f"/><stop offset=".74" stop-color="#ffc01c"/><stop offset=".8" stop-color="#ff9200"/><stop offset=".901" stop-color="#ff6000"/><stop offset="1" stop-color="#ff3f00"/></linearGradient><linearGradient id="cg61" gradientUnits="userSpaceOnUse" x1="18.4" x2="589.9"><stop offset="0" stop-color="#00ff9d"/><stop offset=".357" stop-color="#00ff77"/><stop offset=".472" stop-color="#01ff64"/><stop offset=".551" stop-color="#60ff60"/><stop offset=".651" stop-color="#c4ff42"/><stop offset=".701" stop-color="#fffe2d"/><stop offset=".759" stop-color="#ffc00b"/><stop offset=".785" stop-color="#ffab00"/><stop offset=".874" stop-color="#ff7600"/><stop offset="1" stop-color="#ff4700"/></linearGradient><linearGradient id="cg62" gradientUnits="userSpaceOnUse" x1="17.6" x2="583.1"><stop offset="0" stop-color="#00ff96"/><stop offset=".355" stop-color="#00ff70"/><stop offset=".485" stop-color="#03ff5a"/><stop offset=".562" stop-color="#5bff54"/><stop offset=".666" stop-color="#c1ff32"/><stop offset=".719" stop-color="#ffff1b"/><stop offset=".767" stop-color="#ffcb00"/><stop offset=".841" stop-color="#ff9400"/><stop offset=".947" stop-color="#ff6200"/><stop offset="1" stop-color="#ff4f00"/></linearGradient><linearGradient id="cg63" gradientUnits="userSpaceOnUse" x1="16.8" x2="576.3"><stop offset="0" stop-color="#00ff90"/><stop offset=".354" stop-color="#00ff69"/><stop offset=".496" stop-color="#01ff50"/><stop offset=".563" stop-color="#4dff4b"/><stop offset=".676" stop-color="#b8ff25"/><stop offset=".74" stop-color="#fffc05"/><stop offset=".761" stop-color="#ffe400"/><stop offset=".828" stop-color="#ffaa00"/><stop offset=".922" stop-color="#ff7600"/><stop offset="1" stop-color="#ff5800"/></linearGradient><linearGradient id="cg64" gradientUnits="userSpaceOnUse" x1="15.9" x2="569.4"><stop offset="0" stop-color="#00ff89"/><stop offset=".355" stop-color="#00ff61"/><stop offset=".509" stop-color="#03ff46"/><stop offset=".575" stop-color="#49ff3f"/><stop offset=".691" stop-color="#b5ff15"/><stop offset=".734" stop-color="#e4ff00"/><stop offset=".759" stop-color="#fffd00"/><stop offset=".818" stop-color="#ffc200"/><stop offset=".902" stop-color="#ff8b00"/><stop offset="1" stop-color="#ff6100"/></linearGradient><linearGradient id="cg65" gradientUnits="userSpaceOnUse" x1="15.1" x2="562.6"><stop offset="0" stop-color="#00ff83"/><stop offset=".356" stop-color="#00ff5a"/><stop offset=".521" stop-color="#00ff3c"/><stop offset=".575" stop-color="#3cff36"/><stop offset=".696" stop-color="#a7ff0a"/><stop offset=".718" stop-color="#bdff00"/><stop offset=".778" stop-color="#fffe00"/><stop offset=".838" stop-color="#ffc400"/><stop offset=".923" stop-color="#ff8d00"/><stop offset="1" stop-color="#ff6b00"/></linearGradient><linearGradient id="cg66" gradientUnits="userSpaceOnUse" x1="14.3" x2="555.8"><stop offset="0" stop-color="#00ff7d"/><stop offset=".355" stop-color="#00ff54"/><stop offset=".535" stop-color="#02ff32"/><stop offset=".587" stop-color="#38ff2b"/><stop offset=".693" stop-color="#92ff02"/><stop offset=".798" stop-color="#fffe00"/><stop offset=".861" stop-color="#ffc300"/><stop offset=".95" stop-color="#ff8c00"/><stop offset="1" stop-color="#ff7500"/></linearGradient><linearGradient id="cg67" gradientUnits="userSpaceOnUse" x1="13.5" x2="549"><stop offset="0" stop-color="#00ff78"/><stop offset=".356" stop-color="#00ff4d"/><stop offset=".546" stop-color="#00ff29"/><stop offset=".591" stop-color="#2eff22"/><stop offset=".683" stop-color="#79ff00"/><stop offset=".807" stop-color="#f3ff00"/><stop offset=".821" stop-color="#fffc00"/><stop offset=".885" stop-color="#ffc200"/><stop offset=".975" stop-color="#ff8c00"/><stop offset="1" stop-color="#ff8100"/></linearGradient><linearGradient id="cg68" gradientUnits="userSpaceOnUse" x1="12.6" x2="542.1"><stop offset="0" stop-color="#00ff72"/><stop offset=".357" stop-color="#00ff47"/><stop offset=".561" stop-color="#02ff1f"/><stop offset=".601" stop-color="#28ff17"/><stop offset=".669" stop-color="#5eff00"/><stop offset=".805" stop-color="#dbff00"/><stop offset=".841" stop-color="#fffd00"/><stop offset=".909" stop-color="#ffc100"/><stop offset="1" stop-color="#ff8c00"/></linearGradient><linearGradient id="cg69" gradientUnits="userSpaceOnUse" x1="11.8" x2="535.3"><stop offset="0" stop-color="#00ff6d"/><stop offset=".358" stop-color="#00ff41"/><stop offset=".573" stop-color="#00ff15"/><stop offset=".607" stop-color="#20ff0e"/><stop offset=".648" stop-color="#3fff00"/><stop offset=".802" stop-color="#c4ff00"/><stop offset=".862" stop-color="#fffd00"/><stop offset=".931" stop-color="#ffc200"/><stop offset="1" stop-color="#ff9900"/></linearGradient><linearGradient id="cg70" gradientUnits="userSpaceOnUse" x1="11" x2="528.5"><stop offset="0" stop-color="#00ff67"/><stop offset=".359" stop-color="#00ff3b"/><stop offset=".577" stop-color="#00ff0e"/><stop offset=".591" stop-color="#05ff0b"/><stop offset=".632" stop-color="#26ff00"/><stop offset=".809" stop-color="#b7ff00"/><stop offset=".884" stop-color="#fffe00"/><stop offset=".954" stop-color="#ffc400"/><stop offset="1" stop-color="#ffa700"/></linearGradient><linearGradient id="cg71" gradientUnits="userSpaceOnUse" x1="10.1" x2="521.6"><stop offset="0" stop-color="#00ff62"/><stop offset=".361" stop-color="#00ff35"/><stop offset=".572" stop-color="#00ff0a"/><stop offset=".604" stop-color="#02ff00"/><stop offset=".836" stop-color="#bdff00"/><stop offset=".909" stop-color="#fffc00"/><stop offset=".982" stop-color="#ffc100"/><stop offset="1" stop-color="#ffb600"/></linearGradient><linearGradient id="cg72" gradientUnits="userSpaceOnUse" x1="9.3" x2="514.8"><stop offset="0" stop-color="#00ff5d"/><stop offset=".362" stop-color="#00ff30"/><stop offset=".567" stop-color="#00ff05"/><stop offset=".602" stop-color="#00ff00"/><stop offset=".62" stop-color="#04ff00"/><stop offset=".855" stop-color="#bbff00"/><stop offset=".932" stop-color="#fffc00"/><stop offset="1" stop-color="#ffc600"/></linearGradient><linearGradient id="cg73" gradientUnits="userSpaceOnUse" x1="8.5" x2="508"><stop offset="0" stop-color="#00ff58"/><stop offset=".36" stop-color="#00ff2b"/><stop offset=".556" stop-color="#00ff02"/><stop offset=".634" stop-color="#02ff00"/><stop offset=".88" stop-color="#beff00"/><stop offset=".955" stop-color="#fffd00"/><stop offset="1" stop-color="#ffd800"/></linearGradient><linearGradient id="cg74" gradientUnits="userSpaceOnUse" x1="7.7" x2="501.2"><stop offset="0" stop-color="#00ff53"/><stop offset=".362" stop-color="#00ff26"/><stop offset=".556" stop-color="#00ff00"/><stop offset=".647" stop-color="#00ff00"/><stop offset=".906" stop-color="#c1ff00"/><stop offset=".979" stop-color="#fffe00"/><stop offset="1" stop-color="#ffeb00"/></linearGradient><linearGradient id="cg75" gradientUnits="userSpaceOnUse" x1="6.8" x2="494.3"><stop offset="0" stop-color="#00ff4e"/><stop offset=".363" stop-color="#00ff20"/><stop offset=".532" stop-color="#00ff00"/><stop offset=".665" stop-color="#02ff00"/><stop offset=".926" stop-color="#bfff00"/><stop offset="1" stop-color="#fdff00"/></linearGradient><linearGradient id="cg76" gradientUnits="userSpaceOnUse" x1="6" x2="487.5"><stop offset="0" stop-color="#00ff4a"/><stop offset=".361" stop-color="#00ff1c"/><stop offset=".511" stop-color="#00ff00"/><stop offset=".682" stop-color="#03ff00"/><stop offset=".947" stop-color="#bdff00"/><stop offset="1" stop-color="#e7ff00"/></linearGradient><linearGradient id="cg77" gradientUnits="userSpaceOnUse" x1="5.2" x2="480.7"><stop offset="0" stop-color="#00ff45"/><stop offset=".36" stop-color="#00ff17"/><stop offset=".489" stop-color="#00ff00"/><stop offset=".697" stop-color="#01ff00"/><stop offset=".975" stop-color="#c0ff00"/><stop offset="1" stop-color="#d3ff00"/></linearGradient><linearGradient id="cg78" gradientUnits="userSpaceOnUse" x1="4.3" x2="473.8"><stop offset="0" stop-color="#00ff41"/><stop offset=".358" stop-color="#00ff13"/><stop offset=".466" stop-color="#00ff00"/><stop offset=".716" stop-color="#03ff00"/><stop offset=".997" stop-color="#beff00"/><stop offset="1" stop-color="#c0ff00"/></linearGradient><linearGradient id="cg79" gradientUnits="userSpaceOnUse" x1="4" x2="466"><stop offset="0" stop-color="#00ff3c"/><stop offset=".354" stop-color="#00ff0f"/><stop offset=".445" stop-color="#00ff00"/><stop offset=".734" stop-color="#02ff00"/><stop offset="1" stop-color="#acff00"/></linearGradient><linearGradient id="cg80" gradientUnits="userSpaceOnUse" x1="3.7" x2="459.7"><stop offset="0" stop-color="#00ff38"/><stop offset=".345" stop-color="#00ff0b"/><stop offset=".421" stop-color="#00ff00"/><stop offset=".75" stop-color="#01ff00"/><stop offset="1" stop-color="#9cff00"/></linearGradient><linearGradient id="cg81" gradientUnits="userSpaceOnUse" x1="3.5" x2="453.5"><stop offset="0" stop-color="#00ff33"/><stop offset=".34" stop-color="#00ff07"/><stop offset=".397" stop-color="#00ff00"/><stop offset=".767" stop-color="#01ff00"/><stop offset="1" stop-color="#8dff00"/></linearGradient><linearGradient id="cg82" gradientUnits="userSpaceOnUse" x1="3.2" x2="445.7"><stop offset="0" stop-color="#00ff2f"/><stop offset=".329" stop-color="#00ff04"/><stop offset=".403" stop-color="#00ff00"/><stop offset=".786" stop-color="#00ff00"/><stop offset="1" stop-color="#7dff00"/></linearGradient><linearGradient id="cg83" gradientUnits="userSpaceOnUse" x1="3" x2="439.5"><stop offset="0" stop-color="#00ff2a"/><stop offset=".313" stop-color="#00ff02"/><stop offset=".808" stop-color="#03ff00"/><stop offset="1" stop-color="#6fff00"/></linearGradient><linearGradient id="cg84" gradientUnits="userSpaceOnUse" x1="2.7" x2="431.7"><stop offset="0" stop-color="#00ff26"/><stop offset=".318" stop-color="#00ff00"/><stop offset=".829" stop-color="#02ff00"/><stop offset="1" stop-color="#60ff00"/></linearGradient><linearGradient id="cg85" gradientUnits="userSpaceOnUse" x1="2.5" x2="425.5"><stop offset="0" stop-color="#00ff22"/><stop offset=".287" stop-color="#00ff00"/><stop offset=".848" stop-color="#02ff00"/><stop offset="1" stop-color="#53ff00"/></linearGradient><linearGradient id="cg86" gradientUnits="userSpaceOnUse" x1="2.2" x2="417.7"><stop offset="0" stop-color="#00ff1e"/><stop offset=".256" stop-color="#00ff00"/><stop offset=".87" stop-color="#01ff00"/><stop offset="1" stop-color="#45ff00"/></linearGradient><linearGradient id="cg87" gradientUnits="userSpaceOnUse" x1="2" x2="411.5"><stop offset="0" stop-color="#00ff1a"/><stop offset=".227" stop-color="#00ff00"/><stop offset=".89" stop-color="#01ff00"/><stop offset="1" stop-color="#39ff00"/></linearGradient><linearGradient id="cg88" gradientUnits="userSpaceOnUse" x1="1.7" x2="403.7"><stop offset="0" stop-color="#00ff15"/><stop offset=".194" stop-color="#00ff00"/><stop offset=".918" stop-color="#03ff00"/><stop offset="1" stop-color="#2cff00"/></linearGradient><linearGradient id="cg89" gradientUnits="userSpaceOnUse" x1="1.5" x2="397.5"><stop offset="0" stop-color="#00ff11"/><stop offset=".163" stop-color="#00ff00"/><stop offset=".939" stop-color="#03ff00"/><stop offset="1" stop-color="#21ff00"/></linearGradient><linearGradient id="cg90" gradientUnits="userSpaceOnUse" x1="1.2" x2="391.2"><stop offset="0" stop-color="#00ff0d"/><stop offset=".127" stop-color="#00ff00"/><stop offset=".962" stop-color="#02ff00"/><stop offset="1" stop-color="#16ff00"/></linearGradient><linearGradient id="cg91" gradientUnits="userSpaceOnUse" x1="1" x2="383.5"><stop offset="0" stop-color="#00ff09"/><stop offset=".102" stop-color="#00ff00"/><stop offset=".988" stop-color="#02ff00"/><stop offset="1" stop-color="#08ff00"/></linearGradient><linearGradient id="cg92" gradientUnits="userSpaceOnUse" x1="0.7" x2="377.2"><stop offset="0" stop-color="#00ff04"/><stop offset=".12" stop-color="#00ff00"/><stop offset="1" stop-color="#00ff00"/></linearGradient><linearGradient id="cg93" gradientUnits="userSpaceOnUse" x1="0.5" x2="369.5"><stop offset="0" stop-color="#00ff00"/><stop offset="1" stop-color="#00ff00"/></linearGradient><linearGradient id="cg94" gradientUnits="userSpaceOnUse" x1="0.2" x2="363.2"><stop offset="0" stop-color="#00ff00"/><stop offset="1" stop-color="#00ff00"/></linearGradient><linearGradient id="cg95" gradientUnits="userSpaceOnUse" x1="-0" x2="355.5"><stop offset="0" stop-color="#00ff00"/><stop offset="1" stop-color="#00ff00"/></linearGradient><linearGradient id="cg96" gradientUnits="userSpaceOnUse" x1="-0" x2="348"><stop offset="0" stop-color="#00ff00"/><stop offset="1" stop-color="#00ff00"/></linearGradient><linearGradient id="cg97" gradientUnits="userSpaceOnUse" x1="0.4" x2="340.9"><stop offset="0" stop-color="#00ff00"/><stop offset="1" stop-color="#00ff00"/></linearGradient><linearGradient id="cg98" gradientUnits="userSpaceOnUse" x1="1.1" x2="334.1"><stop offset="0" stop-color="#00ff00"/><stop offset="1" stop-color="#00ff00"/></linearGradient><linearGradient id="cg99" gradientUnits="userSpaceOnUse" x1="1.8" x2="327.3"><stop offset="0" stop-color="#00ff00"/><stop offset="1" stop-color="#00ff00"/></linearGradient><linearGradient id="cg100" gradientUnits="userSpaceOnUse" x1="2.5" x2="319"><stop offset="0" stop-color="#00ff00"/><stop offset="1" stop-color="#00ff00"/></linearGradient><linearGradient id="cg101" gradientUnits="userSpaceOnUse" x1="3.3" x2="312.3"><stop offset="0" stop-color="#00ff00"/><stop offset="1" stop-color="#00ff00"/></linearGradient><linearGradient id="cg102" gradientUnits="userSpaceOnUse" x1="4" x2="305.5"><stop offset="0" stop-color="#00ff00"/><stop offset="1" stop-color="#00ff00"/></linearGradient><linearGradient id="cg103" gradientUnits="userSpaceOnUse" x1="4.7" x2="297.2"><stop offset="0" stop-color="#00ff00"/><stop offset="1" stop-color="#00ff00"/></linearGradient><linearGradient id="cg104" gradientUnits="userSpaceOnUse" x1="5.4" x2="290.4"><stop offset="0" stop-color="#00ff00"/><stop offset="1" stop-color="#00ff00"/></linearGradient><linearGradient id="cg105" gradientUnits="userSpaceOnUse" x1="6.1" x2="282.1"><stop offset="0" stop-color="#00ff00"/><stop offset="1" stop-color="#00ff00"/></linearGradient><linearGradient id="cg106" gradientUnits="userSpaceOnUse" x1="6.8" x2="273.8"><stop offset="0" stop-color="#00ff00"/><stop offset="1" stop-color="#00ff00"/></linearGradient><linearGradient id="cg107" gradientUnits="userSpaceOnUse" x1="7.5" x2="267"><stop offset="0" stop-color="#00ff00"/><stop offset="1" stop-color="#00ff00"/></linearGradient><linearGradient id="cg108" gradientUnits="userSpaceOnUse" x1="8.2" x2="258.7"><stop offset="0" stop-color="#00ff00"/><stop offset="1" stop-color="#00ff00"/></linearGradient><linearGradient id="cg109" gradientUnits="userSpaceOnUse" x1="9" x2="250.5"><stop offset="0" stop-color="#00ff00"/><stop offset="1" stop-color="#00ff00"/></linearGradient><linearGradient id="cg110" gradientUnits="userSpaceOnUse" x1="9.7" x2="242.2"><stop offset="0" stop-color="#00ff00"/><stop offset="1" stop-color="#00ff00"/></linearGradient><linearGradient id="cg111" gradientUnits="userSpaceOnUse" x1="11.8" x2="233.8"><stop offset="0" stop-color="#00ff00"/><stop offset="1" stop-color="#00ff00"/></linearGradient><linearGradient id="cg112" gradientUnits="userSpaceOnUse" x1="14.5" x2="224.5"><stop offset="0" stop-color="#00ff00"/><stop offset="1" stop-color="#00ff00"/></linearGradient><linearGradient id="cg113" gradientUnits="userSpaceOnUse" x1="17.3" x2="215.3"><stop offset="0" stop-color="#00ff00"/><stop offset="1" stop-color="#00ff00"/></linearGradient><linearGradient id="cg114" gradientUnits="userSpaceOnUse" x1="20" x2="206"><stop offset="0" stop-color="#00ff00"/><stop offset="1" stop-color="#00ff00"/></linearGradient><linearGradient id="cg115" gradientUnits="userSpaceOnUse" x1="22.8" x2="196.8"><stop offset="0" stop-color="#00ff00"/><stop offset="1" stop-color="#00ff00"/></linearGradient><linearGradient id="cg116" gradientUnits="userSpaceOnUse" x1="25.5" x2="186"><stop offset="0" stop-color="#00ff00"/><stop offset="1" stop-color="#00ff00"/></linearGradient><linearGradient id="cg117" gradientUnits="userSpaceOnUse" x1="28.3" x2="175.3"><stop offset="0" stop-color="#00ff00"/><stop offset="1" stop-color="#00ff00"/></linearGradient><linearGradient id="cg118" gradientUnits="userSpaceOnUse" x1="31" x2="164.5"><stop offset="0" stop-color="#00ff00"/><stop offset="1" stop-color="#00ff00"/></linearGradient><linearGradient id="cg119" gradientUnits="userSpaceOnUse" x1="33.8" x2="152.3"><stop offset="0" stop-color="#00ff00"/><stop offset="1" stop-color="#00ff00"/></linearGradient><linearGradient id="cg120" gradientUnits="userSpaceOnUse" x1="41.4" x2="138.9"><stop offset="0" stop-color="#00ff00"/><stop offset="1" stop-color="#00ff00"/></linearGradient><linearGradient id="cg121" gradientUnits="userSpaceOnUse" x1="52.4" x2="125.9"><stop offset="0" stop-color="#00ff00"/><stop offset="1" stop-color="#00ff00"/></linearGradient><linearGradient id="cg122" gradientUnits="userSpaceOnUse" x1="63.5" x2="101"><stop offset="0" stop-color="#00ff00"/><stop offset="1" stop-color="#00ff00"/></linearGradient><linearGradient id="cg123" gradientUnits="userSpaceOnUse" x1="70.1" x2="79.1"><stop offset="0" stop-color="#00ff00"/><stop offset="1" stop-color="#00ff00"/></linearGradient>
<path id="locusPath" d="M174.1,5L174.1,5L174.1,5L174,5L174,5L174,5L173.9,4.9L173.9,4.9L173.8,4.9L173.8,4.9L173.7,4.9L173.7,4.9L173.6,4.9L173.5,4.9L173.5,4.9L173.4,4.8L173.3,4.8L173.2,4.8L173.2,4.8L173.1,4.8L173,4.8L172.9,4.8L172.8,4.8L172.7,4.8L172.6,4.8L172.5,4.8L172.4,4.8L172.2,4.8L172.1,4.8L171.9,4.8L171.8,4.9L171.6,5L171.4,5.1L171.2,5.2L170.9,5.4L170.6,5.6L170.3,5.8L170,6L169.7,6.3L169.3,6.6L168.9,6.9L168.5,7.3L168,7.7L167.4,8.1L166.9,8.6L166.3,9.1L165.7,9.7L165.1,10.3L164.4,10.9L163.7,11.6L162.9,12.2L162,13L161.1,13.8L160.1,14.7L159,15.6L157.8,16.6L156.6,17.7L155.3,18.8L154,20L152.5,21.3L151,22.7L149.4,24.2L147.7,25.9L145.9,27.7L144,29.7L142,31.8L140,34.1L137.9,36.7L135.5,39.9L132.9,43.6L130.2,47.7L127.2,52.4L124.1,57.8L120.8,63.9L117.3,70.5L113.6,78.1L109.6,86.8L105.4,96.6L101,107.3L96.3,119.3L91.3,132.7L86,147.5L80.3,163.7L74.5,181.3L68.7,200.7L62.9,221.9L57,244.7L51.1,269.2L45.4,295L39.7,322.6L34,351.9L28.5,382.2L23.5,412.7L19,443.8L14.8,475.6L11.1,507.4L8.2,538.4L6,568.6L4.5,598.5L3.7,627.4L3.9,654.8L5,680.9L7.1,705.9L10,729.2L13.9,750.2L18.9,768.9L24.8,785.7L31.6,800.2L38.9,812L46.9,821L55.7,827.2L64.9,831.4L74.3,833.8L83.9,834.3L93.9,832.6L104.1,829.7L114.2,826.2L124.3,822.1L134.6,817.1L144.7,811.6L154.7,805.9L164.4,800.2L174,794.2L183.5,788L192.9,781.6L202.2,775L211.4,768.3L220.5,761.4L229.6,754.3L238.7,747L247.8,739.6L256.8,732L265.8,724.3L274.8,716.5L283.7,708.5L292.7,700.4L301.6,692.3L310.5,684.1L319.4,675.8L328.4,667.4L337.3,658.9L346.2,650.4L355.2,641.8L364.2,633.2L373.1,624.5L382,615.8L390.9,607.1L399.8,598.3L408.7,589.6L417.6,580.9L426.5,572.1L435.3,563.4L444.1,554.7L452.8,546L461.6,537.4L470.2,528.8L478.8,520.2L487.3,511.7L495.8,503.3L504.2,494.9L512.5,486.6L520.7,478.4L528.9,470.3L536.9,462.3L544.8,454.4L552.6,446.7L560.3,439L567.8,431.5L575.2,424.2L582.4,417L589.4,410L596.3,403.1L602.9,396.5L609.2,390.2L615.4,384.1L621.3,378.2L627,372.5L632.6,366.9L638,361.5L643.2,356.3L648.2,351.4L652.9,346.7L657.4,342.3L661.7,338L665.8,334L669.7,330.1L673.3,326.5L676.8,323L680.1,319.7L683.2,316.6L686.1,313.7L688.9,310.9L691.5,308.3L694,305.8L696.3,303.5L698.5,301.4L700.6,299.3L702.6,297.3L704.4,295.5L706.2,293.7L707.9,292L709.5,290.4L711.1,288.8L712.6,287.3L714,285.9L715.4,284.5L716.6,283.3L717.8,282L719,280.9L720.1,279.8L721.1,278.8L722.1,277.9L723,277L723.8,276.2L724.6,275.4L725.3,274.7L726,274L726.6,273.4L727.2,272.8L727.8,272.2L728.3,271.7L728.8,271.2L729.2,270.8L729.6,270.4L730,270L730.3,269.7L730.6,269.4L730.9,269.1L731.1,268.9L731.3,268.7L731.6,268.4L731.8,268.2L732,268L732.2,267.8L732.4,267.6L732.5,267.5L732.7,267.3L732.9,267.1L733.1,266.9L733.2,266.8L733.4,266.6L733.6,266.4L733.7,266.3L733.9,266.1L734,266L734.1,265.9L734.2,265.8L734.3,265.7L734.4,265.6L734.5,265.5L734.5,265.5L734.6,265.4L734.6,265.4L734.6,265.4L734.7,265.3L734.7,265.3L734.7,265.3Z"/>
<filter id="vblur" x="-3%" y="-3%" width="106%" height="106%"><feGaussianBlur stdDeviation="0.35 1.0"/></filter>
<g id="cieFill" shape-rendering="crispEdges">
<rect x="145" y="-14" width="58" height="21.8" fill="url(#cg0)"/><rect x="157.3" y="1.8" width="40.5" height="12.8" fill="url(#cg1)"/><rect x="149.6" y="8.6" width="63" height="12.8" fill="url(#cg2)"/><rect x="142.5" y="15.4" width="84" height="12.8" fill="url(#cg3)"/><rect x="136.4" y="22.2" width="105" height="12.8" fill="url(#cg4)"/><rect x="130.9" y="29" width="124.5" height="12.8" fill="url(#cg5)"/><rect x="126.6" y="35.8" width="144" height="12.8" fill="url(#cg6)"/><rect x="122.3" y="42.6" width="163.5" height="12.8" fill="url(#cg7)"/><rect x="118.4" y="49.4" width="181.5" height="12.8" fill="url(#cg8)"/><rect x="115" y="56.2" width="199.5" height="12.8" fill="url(#cg9)"/><rect x="111.6" y="63" width="217.5" height="12.8" fill="url(#cg10)"/><rect x="108.2" y="69.8" width="235.5" height="12.8" fill="url(#cg11)"/><rect x="105" y="76.6" width="253.5" height="12.8" fill="url(#cg12)"/><rect x="102.3" y="83.4" width="271.5" height="12.8" fill="url(#cg13)"/><rect x="99.5" y="90.2" width="288" height="12.8" fill="url(#cg14)"/><rect x="96.8" y="97" width="306" height="12.8" fill="url(#cg15)"/><rect x="94.1" y="103.8" width="322.5" height="12.8" fill="url(#cg16)"/><rect x="91.4" y="110.6" width="340.5" height="12.8" fill="url(#cg17)"/><rect x="88.7" y="117.4" width="357" height="12.8" fill="url(#cg18)"/><rect x="86.2" y="124.2" width="375" height="12.8" fill="url(#cg19)"/><rect x="83.9" y="131" width="391.5" height="12.8" fill="url(#cg20)"/><rect x="81.7" y="137.8" width="408" height="12.8" fill="url(#cg21)"/><rect x="79.4" y="144.6" width="426" height="12.8" fill="url(#cg22)"/><rect x="77.2" y="151.4" width="442.5" height="12.8" fill="url(#cg23)"/><rect x="74.9" y="158.2" width="459" height="12.8" fill="url(#cg24)"/><rect x="72.6" y="165" width="475.5" height="12.8" fill="url(#cg25)"/><rect x="70.4" y="171.8" width="493.5" height="12.8" fill="url(#cg26)"/><rect x="68.1" y="178.6" width="510" height="12.8" fill="url(#cg27)"/><rect x="65.9" y="185.4" width="526.5" height="12.8" fill="url(#cg28)"/><rect x="63.9" y="192.2" width="543" height="12.8" fill="url(#cg29)"/><rect x="62.2" y="199" width="559.5" height="12.8" fill="url(#cg30)"/><rect x="60.5" y="205.8" width="576" height="12.8" fill="url(#cg31)"/><rect x="58.8" y="212.6" width="592.5" height="12.8" fill="url(#cg32)"/><rect x="57.2" y="219.4" width="609" height="12.8" fill="url(#cg33)"/><rect x="55.5" y="226.2" width="625.5" height="12.8" fill="url(#cg34)"/><rect x="53.8" y="233" width="642" height="12.8" fill="url(#cg35)"/><rect x="52.1" y="239.8" width="658.5" height="12.8" fill="url(#cg36)"/><rect x="50.4" y="246.6" width="673.5" height="12.8" fill="url(#cg37)"/><rect x="48.8" y="253.4" width="690" height="12.8" fill="url(#cg38)"/><rect x="47.1" y="260.2" width="691.5" height="12.8" fill="url(#cg39)"/><rect x="45.4" y="267" width="687" height="12.8" fill="url(#cg40)"/><rect x="43.7" y="273.8" width="682.5" height="12.8" fill="url(#cg41)"/><rect x="42" y="280.6" width="676.5" height="12.8" fill="url(#cg42)"/><rect x="40.6" y="287.4" width="672" height="12.8" fill="url(#cg43)"/><rect x="39.4" y="294.2" width="666" height="12.8" fill="url(#cg44)"/><rect x="38.1" y="301" width="660" height="12.8" fill="url(#cg45)"/><rect x="36.8" y="307.8" width="655.5" height="12.8" fill="url(#cg46)"/><rect x="35.6" y="314.6" width="649.5" height="12.8" fill="url(#cg47)"/><rect x="34.3" y="321.4" width="643.5" height="12.8" fill="url(#cg48)"/><rect x="33" y="328.2" width="639" height="12.8" fill="url(#cg49)"/><rect x="31.8" y="335" width="633" height="12.8" fill="url(#cg50)"/><rect x="30.5" y="341.8" width="627" height="12.8" fill="url(#cg51)"/><rect x="29.2" y="348.6" width="621" height="12.8" fill="url(#cg52)"/><rect x="28" y="355.4" width="616.5" height="12.8" fill="url(#cg53)"/><rect x="26.7" y="362.2" width="610.5" height="12.8" fill="url(#cg54)"/><rect x="25.4" y="369" width="604.5" height="12.8" fill="url(#cg55)"/><rect x="24.2" y="375.8" width="598.5" height="12.8" fill="url(#cg56)"/><rect x="22.9" y="382.6" width="594" height="12.8" fill="url(#cg57)"/><rect x="21.6" y="389.4" width="588" height="12.8" fill="url(#cg58)"/><rect x="20.4" y="396.2" width="582" height="12.8" fill="url(#cg59)"/><rect x="19.2" y="403" width="577.5" height="12.8" fill="url(#cg60)"/><rect x="18.4" y="409.8" width="571.5" height="12.8" fill="url(#cg61)"/><rect x="17.6" y="416.6" width="565.5" height="12.8" fill="url(#cg62)"/><rect x="16.8" y="423.4" width="559.5" height="12.8" fill="url(#cg63)"/><rect x="15.9" y="430.2" width="553.5" height="12.8" fill="url(#cg64)"/><rect x="15.1" y="437" width="547.5" height="12.8" fill="url(#cg65)"/><rect x="14.3" y="443.8" width="541.5" height="12.8" fill="url(#cg66)"/><rect x="13.5" y="450.6" width="535.5" height="12.8" fill="url(#cg67)"/><rect x="12.6" y="457.4" width="529.5" height="12.8" fill="url(#cg68)"/><rect x="11.8" y="464.2" width="523.5" height="12.8" fill="url(#cg69)"/><rect x="11" y="471" width="517.5" height="12.8" fill="url(#cg70)"/><rect x="10.1" y="477.8" width="511.5" height="12.8" fill="url(#cg71)"/><rect x="9.3" y="484.6" width="505.5" height="12.8" fill="url(#cg72)"/><rect x="8.5" y="491.4" width="499.5" height="12.8" fill="url(#cg73)"/><rect x="7.7" y="498.2" width="493.5" height="12.8" fill="url(#cg74)"/><rect x="6.8" y="505" width="487.5" height="12.8" fill="url(#cg75)"/><rect x="6" y="511.8" width="481.5" height="12.8" fill="url(#cg76)"/><rect x="5.2" y="518.6" width="475.5" height="12.8" fill="url(#cg77)"/><rect x="4.3" y="525.4" width="469.5" height="12.8" fill="url(#cg78)"/><rect x="4" y="532.2" width="462" height="12.8" fill="url(#cg79)"/><rect x="3.7" y="539" width="456" height="12.8" fill="url(#cg80)"/><rect x="3.5" y="545.8" width="450" height="12.8" fill="url(#cg81)"/><rect x="3.2" y="552.6" width="442.5" height="12.8" fill="url(#cg82)"/><rect x="3" y="559.4" width="436.5" height="12.8" fill="url(#cg83)"/><rect x="2.7" y="566.2" width="429" height="12.8" fill="url(#cg84)"/><rect x="2.5" y="573" width="423" height="12.8" fill="url(#cg85)"/><rect x="2.2" y="579.8" width="415.5" height="12.8" fill="url(#cg86)"/><rect x="2" y="586.6" width="409.5" height="12.8" fill="url(#cg87)"/><rect x="1.7" y="593.4" width="402" height="12.8" fill="url(#cg88)"/><rect x="1.5" y="600.2" width="396" height="12.8" fill="url(#cg89)"/><rect x="1.2" y="607" width="390" height="12.8" fill="url(#cg90)"/><rect x="1" y="613.8" width="382.5" height="12.8" fill="url(#cg91)"/><rect x="0.7" y="620.6" width="376.5" height="12.8" fill="url(#cg92)"/><rect x="0.5" y="627.4" width="369" height="12.8" fill="url(#cg93)"/><rect x="0.2" y="634.2" width="363" height="12.8" fill="url(#cg94)"/><rect x="-0" y="641" width="355.5" height="12.8" fill="url(#cg95)"/><rect x="-0" y="647.8" width="348" height="12.8" fill="url(#cg96)"/><rect x="0.4" y="654.6" width="340.5" height="12.8" fill="url(#cg97)"/><rect x="1.1" y="661.4" width="333" height="12.8" fill="url(#cg98)"/><rect x="1.8" y="668.2" width="325.5" height="12.8" fill="url(#cg99)"/><rect x="2.5" y="675" width="316.5" height="12.8" fill="url(#cg100)"/><rect x="3.3" y="681.8" width="309" height="12.8" fill="url(#cg101)"/><rect x="4" y="688.6" width="301.5" height="12.8" fill="url(#cg102)"/><rect x="4.7" y="695.4" width="292.5" height="12.8" fill="url(#cg103)"/><rect x="5.4" y="702.2" width="285" height="12.8" fill="url(#cg104)"/><rect x="6.1" y="709" width="276" height="12.8" fill="url(#cg105)"/><rect x="6.8" y="715.8" width="267" height="12.8" fill="url(#cg106)"/><rect x="7.5" y="722.6" width="259.5" height="12.8" fill="url(#cg107)"/><rect x="8.2" y="729.4" width="250.5" height="12.8" fill="url(#cg108)"/><rect x="9" y="736.2" width="241.5" height="12.8" fill="url(#cg109)"/><rect x="9.7" y="743" width="232.5" height="12.8" fill="url(#cg110)"/><rect x="11.8" y="749.8" width="222" height="12.8" fill="url(#cg111)"/><rect x="14.5" y="756.6" width="210" height="12.8" fill="url(#cg112)"/><rect x="17.3" y="763.4" width="198" height="12.8" fill="url(#cg113)"/><rect x="20" y="770.2" width="186" height="12.8" fill="url(#cg114)"/><rect x="22.8" y="777" width="174" height="12.8" fill="url(#cg115)"/><rect x="25.5" y="783.8" width="160.5" height="12.8" fill="url(#cg116)"/><rect x="28.3" y="790.6" width="147" height="12.8" fill="url(#cg117)"/><rect x="31" y="797.4" width="133.5" height="12.8" fill="url(#cg118)"/><rect x="33.8" y="804.2" width="118.5" height="12.8" fill="url(#cg119)"/><rect x="41.4" y="811" width="97.5" height="12.8" fill="url(#cg120)"/><rect x="52.4" y="817.8" width="73.5" height="12.8" fill="url(#cg121)"/><rect x="43.5" y="824.6" width="77.5" height="27.8" fill="url(#cg122)"/><rect x="50.1" y="831.4" width="49" height="27.8" fill="url(#cg123)"/>
</g>
</defs>
<defs><linearGradient id="insC" gradientUnits="userSpaceOnUse" x1="488.6" y1="200.4" x2="540.2" y2="274"><stop offset="0" stop-color="#b8f800"/><stop offset=".16" stop-color="#fff000"/><stop offset=".33" stop-color="#ffc800"/><stop offset=".47" stop-color="#ff9408"/><stop offset=".63" stop-color="#ff5a1c"/><stop offset=".8" stop-color="#ff3024"/><stop offset="1" stop-color="#ff1428"/></linearGradient><linearGradient id="insE" gradientUnits="userSpaceOnUse" x1="734" y1="200.4" x2="815.2" y2="248"><stop offset="0" stop-color="#64ff28"/><stop offset=".3" stop-color="#9cff18"/><stop offset=".45" stop-color="#d4ff08"/><stop offset=".55" stop-color="#fff000"/><stop offset=".7" stop-color="#ffb40e"/><stop offset=".85" stop-color="#ff8c18"/><stop offset="1" stop-color="#ff6c20"/></linearGradient><linearGradient id="arr" x1="0" y1="0" x2="0" y2="1"><stop offset="0" stop-color="#7da2e0"/><stop offset=".5" stop-color="#4472c4"/><stop offset="1" stop-color="#2c4f96"/></linearGradient></defs>
<g id="panelC">
<rect x="358.5" y="195.0" width="210.1" height="209.4" fill="#000"/>
<path d="M415.3,388.6l-2.8,4.1M408.6,383.3l-5.6,4.2M403.8,377.3l-6.4,4M395.8,361.2l-5.1,2.1M384.6,326.3l-5.3,1.3M375.6,273.9l-5.5,0.5M377,228.4l-5.3,-1.3M391.7,210.4l-0.9,-5.4M411.2,216.4l2.5,-4.9M429.4,227.5l3.1,-4.5M446.9,240.9l3.5,-4.3M464.3,255.4l3.6,-4.2M481.5,270.4l3.6,-4.1M498.1,285.1l3.6,-4.1M513.4,298.5l3.6,-4.1M526,309.6l3.6,-4.1M535.4,317.9l3.6,-4.1M541.6,323.4l3.6,-4.1M552.1,332.7l4.4,-3.3M374.5,248.9l-3,-0.1M383.1,215.1l-2.3,-1.9M401.4,212.1l0.9,-2.9M420.5,221.7l1.6,-2.6M438.2,234l1.8,-2.4M455.6,248l1.9,-2.3M472.9,262.9l2,-2.3M489.9,277.9l2,-2.3M506,292l2,-2.3M520.1,304.5l2,-2.2M531.1,314.1l2,-2.3M538.9,321l2,-2.2" stroke="#9a9a9a" stroke-width="0.6" fill="none"/>
<clipPath id="clippanelC"><use href="#locusPath" transform="translate(373.6,389.7) scale(0.243,-0.215)"/></clipPath>
<g clip-path="url(#clippanelC)"><g filter="url(#vblur)"><use href="#cieFill" transform="translate(373.6,389.7) scale(0.243,-0.215)"/></g></g>
<path d="M373.6,205.9V389.7H553.4" stroke="#a8a8a8" stroke-width="0.9" fill="none"/>
<path d="M372.6,368.2h2.6M372.6,346.7h2.6M372.6,325.2h2.6M372.6,303.7h2.6M372.6,282.2h2.6M372.6,260.7h2.6M372.6,239.2h2.6M372.6,217.7h2.6M397.9,389.7v-2.2M422.2,389.7v-2.2M446.5,389.7v-2.2M470.8,389.7v-2.2M495.1,389.7v-2.2M519.4,389.7v-2.2M543.7,389.7v-2.2" stroke="#c8c8c8" stroke-width="0.8" fill="none"/>
<g class="sans" font-size="7.3" fill="#ececec">
<text x="372" y="392.4" text-anchor="end">0.0</text>
<text x="372" y="370.9" text-anchor="end">0.1</text>
<text x="372" y="349.4" text-anchor="end">0.2</text>
<text x="372" y="327.9" text-anchor="end">0.3</text>
<text x="372" y="306.4" text-anchor="end">0.4</text>
<text x="372" y="284.9" text-anchor="end">0.5</text>
<text x="372" y="263.4" text-anchor="end">0.6</text>
<text x="372" y="241.9" text-anchor="end">0.7</text>
<text x="372" y="220.4" text-anchor="end">0.8</text>
<text x="373.2" y="397" text-anchor="middle">0.0</text>
<text x="397.5" y="397" text-anchor="middle">0.1</text>
<text x="421.8" y="397" text-anchor="middle">0.2</text>
<text x="446.1" y="397" text-anchor="middle">0.3</text>
<text x="470.4" y="397" text-anchor="middle">0.4</text>
<text x="494.7" y="397" text-anchor="middle">0.5</text>
<text x="519" y="397" text-anchor="middle">0.6</text>
<text x="543.3" y="397" text-anchor="middle">0.7</text>
</g>
<text class="sans" font-size="11.5" fill="#f4f4f4" x="373.4" y="206.9" text-anchor="middle">y</text>
<text class="sans" font-size="10.5" fill="#f4f4f4" x="558.8" y="394.3" text-anchor="middle">x</text>
<g class="sans" font-size="5.1" fill="#dadada" text-anchor="middle"><text x="408.7" y="397.8">420</text><text x="401" y="390.7">460</text><text x="395.2" y="384.7">470</text><text x="385.8" y="366">480</text><text x="374.7" y="331.5">490</text><text x="365.4" y="277.9">500</text><text x="367.1" y="229.5">510</text><text x="390.7" y="205.1">520</text><text x="417.1" y="211.9">530</text><text x="436.6" y="223.6">540</text><text x="454.8" y="237.3">550</text><text x="472.4" y="252.1">560</text><text x="489.7" y="267.1">570</text><text x="506.4" y="281.8">580</text><text x="521.6" y="295.2">590</text><text x="534.2" y="306.3">600</text><text x="543.6" y="314.6">610</text><text x="549.9" y="320.1">620</text><text x="559.5" y="329.5">680</text></g>
<text class="sans" font-size="5.5" fill="#d8d8d8" x="451.9" y="201.8">CIE 1931</text>
<rect x="464.2" y="288.9" width="55.1" height="24" fill="none" stroke="#2a4168" stroke-width="1.1" stroke-dasharray="4.2 2.6"/>
<rect x="483.4" y="290" width="2.6" height="4.2" fill="#0a0a0a"/>
<rect x="485.4" y="292.4" width="2.6" height="4.2" fill="#0a0a0a"/>
<rect x="487.3" y="294" width="2.6" height="4.2" fill="#0a0a0a"/>
<rect x="489.1" y="295.4" width="2.6" height="4.2" fill="#0a0a0a"/>
<rect x="491" y="296.6" width="2.6" height="4.2" fill="#0a0a0a"/>
<rect x="492.9" y="298" width="2.6" height="4.2" fill="#0a0a0a"/>
<rect x="494.8" y="299" width="2.6" height="4.2" fill="#0a0a0a"/>
<rect x="496.7" y="300" width="2.6" height="4.2" fill="#0a0a0a"/>
<rect x="498.7" y="301.4" width="2.6" height="4.2" fill="#0a0a0a"/>
<rect x="500.6" y="302.6" width="2.6" height="4.2" fill="#0a0a0a"/>
<rect x="502.5" y="303.4" width="2.6" height="4.2" fill="#0a0a0a"/>
<rect x="504.5" y="303.6" width="2.6" height="4.2" fill="#0a0a0a"/>
<rect x="506.2" y="301.8" width="2.6" height="4.2" fill="#0a0a0a"/>
<rect x="504.0" y="300.0" width="5.0" height="5.0" fill="#0a0a0a"/>
<rect x="484.3" y="290.6" width="0.8" height="2.6" fill="#ffee00" opacity="0.6"/>
<rect x="486.3" y="293" width="0.8" height="2.6" fill="#00d8f0" opacity="0.6"/>
<rect x="488.2" y="294.6" width="0.8" height="2.6" fill="#ff00ff" opacity="0.6"/>
<rect x="490" y="296" width="0.8" height="2.6" fill="#00d000" opacity="0.6"/>
<rect x="491.9" y="297.2" width="0.8" height="2.6" fill="#b8b8b8" opacity="0.6"/>
<rect x="493.8" y="298.6" width="0.8" height="2.6" fill="#e8e8e8" opacity="0.6"/>
<rect x="495.7" y="299.6" width="0.8" height="2.6" fill="#ff2020" opacity="0.6"/>
<rect x="497.6" y="300.6" width="0.8" height="2.6" fill="#a8a8a8" opacity="0.6"/>
<rect x="499.6" y="302" width="0.8" height="2.6" fill="#30a030" opacity="0.6"/>
<rect x="501.5" y="303.2" width="0.8" height="2.6" fill="#d0e0ff" opacity="0.6"/>
<rect x="503.4" y="304" width="0.8" height="2.6" fill="#9040d0" opacity="0.6"/>
<rect x="505.4" y="304.2" width="0.8" height="2.6" fill="#6080c0" opacity="0.6"/>
<rect x="507.1" y="302.4" width="0.8" height="2.6" fill="#d01818" opacity="0.6"/>
<circle cx="484" cy="294.8" r="1" fill="#ffee00"/>
<circle cx="486" cy="297.2" r="1" fill="#00e5ff"/>
<circle cx="487.9" cy="298.8" r="1" fill="#ff00ff"/>
<circle cx="489.7" cy="300.2" r="1" fill="#00e000"/>
<circle cx="491.6" cy="301.4" r="1" fill="#e0e8d0"/>
<circle cx="493.5" cy="302.8" r="1" fill="#ffffff"/>
<circle cx="495.4" cy="303.8" r="1" fill="#ff1010"/>
<circle cx="497.3" cy="304.8" r="1" fill="#9a9a9a"/>
<circle cx="499.3" cy="306.2" r="1" fill="#2aa02a"/>
<circle cx="501.2" cy="307.4" r="1" fill="#c8dcff"/>
<circle cx="503.1" cy="308.2" r="1" fill="#7a20c0"/>
<circle cx="505.1" cy="308.4" r="1" fill="#405aa0"/>
<circle cx="506.8" cy="306.6" r="1" fill="#a81414"/>
<path d="M494.6,200.4H536.6L564.6,225.3V250.9a6,6 0 0 1 -6,6H494.6a6,6 0 0 1 -6,-6V206.4a6,6 0 0 1 6,-6Z" fill="url(#insC)"/>
<path d="M543.2,209.2l3.6,-3.2M557.6,218.4l5.4,-4.2" stroke="#a0a0a0" stroke-width="0.6" fill="none"/>
<text class="sans" font-size="5.2" fill="#9ab0dc" x="561.8" y="211.6">5</text>
<rect x="504.6" y="207.4" width="3.6" height="7.6" fill="#080808"/>
<rect x="509.7" y="213.4" width="4.0" height="7.2" fill="#080808"/>
<rect x="514.0" y="216.2" width="3.4" height="7.0" fill="#080808"/>
<rect x="517.2" y="218.0" width="3.8" height="7.2" fill="#080808"/>
<rect x="521.2" y="219.6" width="3.8" height="7.2" fill="#080808"/>
<rect x="525.4" y="222.0" width="3.2" height="7.2" fill="#080808"/>
<rect x="528.8" y="222.8" width="3.4" height="7.2" fill="#080808"/>
<rect x="532.4" y="224.2" width="4.2" height="7.2" fill="#080808"/>
<rect x="537.2" y="226.8" width="2.6" height="5.6" fill="#080808"/>
<rect x="539.8" y="226.8" width="2.6" height="5.6" fill="#080808"/>
<rect x="542.0" y="227.6" width="1.6" height="4.8" fill="#080808"/>
<rect x="543.2" y="228.0" width="1.2" height="4.4" fill="#080808"/>
<rect x="542.6" y="222.0" width="7.2" height="7.2" fill="#080808"/>
<g class="sans" font-size="8.2" text-anchor="middle">
<text x="506.4" y="214.4" fill="#ffee00" textLength="3.2" lengthAdjust="spacingAndGlyphs">1</text>
<text x="511.7" y="220" fill="#00d8f0" textLength="3.6" lengthAdjust="spacingAndGlyphs">2</text>
<text x="515.7" y="222.6" fill="#ff00ff" textLength="3" lengthAdjust="spacingAndGlyphs">3</text>
<text x="519.1" y="224.6" fill="#00d000" textLength="3.4" lengthAdjust="spacingAndGlyphs">4</text>
<text x="523.1" y="226.2" fill="#b8b8b8" textLength="3.4" lengthAdjust="spacingAndGlyphs">5</text>
<text x="527" y="228.6" fill="#e8e8e8" textLength="2.8" lengthAdjust="spacingAndGlyphs">6</text>
<text x="530.5" y="229.4" fill="#ff2020" textLength="3" lengthAdjust="spacingAndGlyphs">7</text>
<text x="534.5" y="230.8" fill="#a8a8a8" textLength="3.8" lengthAdjust="spacingAndGlyphs">8</text>
<text x="538.5" y="231.8" fill="#30a030" textLength="2.2" lengthAdjust="spacingAndGlyphs">9</text>
<text x="541.1" y="231.8" fill="#d0e0ff" textLength="2.2" lengthAdjust="spacingAndGlyphs">1</text>
<text x="542.8" y="231.8" fill="#9040d0" textLength="1.2" lengthAdjust="spacingAndGlyphs">1</text>
<text x="546.2" y="228.6" fill="#d01818" textLength="6.8" lengthAdjust="spacingAndGlyphs">13</text>
</g>
<circle cx="506.8" cy="218.2" r="1.75" fill="#ffee00" stroke="rgba(0,0,0,0.5)" stroke-width="0.4"/>
<circle cx="512.5" cy="223.4" r="1.75" fill="#00e5ff" stroke="rgba(0,0,0,0.5)" stroke-width="0.4"/>
<circle cx="516.3" cy="226.1" r="1.75" fill="#ff00ff" stroke="rgba(0,0,0,0.5)" stroke-width="0.4"/>
<circle cx="519.5" cy="228" r="1.75" fill="#00e000" stroke="rgba(0,0,0,0.5)" stroke-width="0.4"/>
<circle cx="523.5" cy="229.2" r="1.75" fill="#e0e8d0" stroke="rgba(0,0,0,0.5)" stroke-width="0.4"/>
<circle cx="527.4" cy="232.4" r="1.75" fill="#ffffff" stroke="rgba(0,0,0,0.5)" stroke-width="0.4"/>
<circle cx="530.7" cy="233.4" r="1.75" fill="#ff1010" stroke="rgba(0,0,0,0.5)" stroke-width="0.4"/>
<circle cx="534.7" cy="234.5" r="1.75" fill="#9a9a9a" stroke="rgba(0,0,0,0.5)" stroke-width="0.4"/>
<circle cx="538.7" cy="236.8" r="1.75" fill="#2aa02a" stroke="rgba(0,0,0,0.5)" stroke-width="0.4"/>
<circle cx="541.4" cy="237.5" r="1.75" fill="#c8dcff" stroke="rgba(0,0,0,0.5)" stroke-width="0.4"/>
<circle cx="544" cy="236.8" r="1.75" fill="#7a20c0" stroke="rgba(0,0,0,0.5)" stroke-width="0.4"/>
<circle cx="545.6" cy="235" r="1.75" fill="#405aa0" stroke="rgba(0,0,0,0.5)" stroke-width="0.4"/>
<circle cx="545" cy="232.7" r="1.75" fill="#a81414" stroke="rgba(0,0,0,0.5)" stroke-width="0.4"/>
<path d="M499.7,230.8L522.2,247.9L520.4,250.3L529.8,250.2L527.4,241.1L525.6,243.5L503.1,226.4Z" fill="url(#arr)" stroke="#35599e" stroke-width="0.4"/>
<text x="332.1" y="198.6" font-size="13.4" font-weight="bold" fill="#111" textLength="15.1" lengthAdjust="spacingAndGlyphs">(c)</text>
</g>
<g id="panelE">
<rect x="608.0" y="195.0" width="210" height="207.6" fill="#000"/>
<path d="M664,389.2l-2.8,4.1M657.3,383.9l-5.6,4.2M652.4,377.8l-6.3,4M644.3,361.5l-5.1,2.1M632.9,326.3l-5.3,1.3M623.7,273.5l-5.5,0.5M625.1,227.5l-5.3,-1.4M640.1,209.4l-0.9,-5.4M659.9,215.4l2.5,-4.9M678.4,226.6l3.1,-4.5M696.2,240.1l3.4,-4.3M713.9,254.8l3.6,-4.2M731.4,269.9l3.6,-4.1M748.3,284.7l3.6,-4.1M763.8,298.2l3.6,-4.1M776.6,309.5l3.6,-4.1M786.2,317.8l3.6,-4.1M792.5,323.4l3.6,-4.1M803.2,332.7l4.4,-3.3M622.7,248.2l-3,-0.1M631.3,214.1l-2.3,-1.9M649.9,211l0.9,-2.9M669.3,220.7l1.6,-2.6M687.4,233.1l1.8,-2.4M705,247.3l1.9,-2.3M722.6,262.4l2,-2.3M740,277.4l2,-2.3M756.3,291.7l2,-2.3M770.6,304.3l2,-2.3M781.8,314l2,-2.3M789.7,320.9l2,-2.3" stroke="#9a9a9a" stroke-width="0.6" fill="none"/>
<clipPath id="clippanelE"><use href="#locusPath" transform="translate(621.7,390.3) scale(0.247,-0.217)"/></clipPath>
<g clip-path="url(#clippanelE)"><g filter="url(#vblur)"><use href="#cieFill" transform="translate(621.7,390.3) scale(0.247,-0.217)"/></g></g>
<path d="M621.7,204.8V390.3H804.5" stroke="#a8a8a8" stroke-width="0.9" fill="none"/>
<path d="M620.7,368.6h2.6M620.7,346.9h2.6M620.7,325.2h2.6M620.7,303.5h2.6M620.7,281.8h2.6M620.7,260.1h2.6M620.7,238.4h2.6M620.7,216.7h2.6M646.4,390.3v-2.2M671.1,390.3v-2.2M695.8,390.3v-2.2M720.5,390.3v-2.2M745.2,390.3v-2.2M769.9,390.3v-2.2M794.6,390.3v-2.2" stroke="#c8c8c8" stroke-width="0.8" fill="none"/>
<g class="sans" font-size="7.3" fill="#ececec">
<text x="620.1" y="393" text-anchor="end">0.0</text>
<text x="620.1" y="371.3" text-anchor="end">0.1</text>
<text x="620.1" y="349.6" text-anchor="end">0.2</text>
<text x="620.1" y="327.9" text-anchor="end">0.3</text>
<text x="620.1" y="306.2" text-anchor="end">0.4</text>
<text x="620.1" y="284.5" text-anchor="end">0.5</text>
<text x="620.1" y="262.8" text-anchor="end">0.6</text>
<text x="620.1" y="241.1" text-anchor="end">0.7</text>
<text x="620.1" y="219.4" text-anchor="end">0.8</text>
<text x="621.3" y="397.6" text-anchor="middle">0.0</text>
<text x="646" y="397.6" text-anchor="middle">0.1</text>
<text x="670.7" y="397.6" text-anchor="middle">0.2</text>
<text x="695.4" y="397.6" text-anchor="middle">0.3</text>
<text x="720.1" y="397.6" text-anchor="middle">0.4</text>
<text x="744.8" y="397.6" text-anchor="middle">0.5</text>
<text x="769.5" y="397.6" text-anchor="middle">0.6</text>
<text x="794.2" y="397.6" text-anchor="middle">0.7</text>
</g>
<text class="sans" font-size="11.5" fill="#f4f4f4" x="621.5" y="205.8" text-anchor="middle">y</text>
<text class="sans" font-size="10.5" fill="#f4f4f4" x="809.9" y="394.9" text-anchor="middle">x</text>
<g class="sans" font-size="5.1" fill="#dadada" text-anchor="middle"><text x="657.4" y="398.4">420</text><text x="649.7" y="391.3">460</text><text x="643.8" y="385.2">470</text><text x="634.3" y="366.3">480</text><text x="623" y="331.5">490</text><text x="613.6" y="277.5">500</text><text x="615.3" y="228.6">510</text><text x="639.1" y="204">520</text><text x="665.8" y="210.9">530</text><text x="685.6" y="222.7">540</text><text x="704" y="236.5">550</text><text x="722" y="251.4">560</text><text x="739.6" y="266.6">570</text><text x="756.5" y="281.4">580</text><text x="772" y="294.9">590</text><text x="784.8" y="306.2">600</text><text x="794.4" y="314.5">610</text><text x="800.7" y="320.1">620</text><text x="810.6" y="329.5">680</text></g>
<text class="sans" font-size="5.5" fill="#d8d8d8" x="701.2" y="200.6">CIE 1931</text>
<rect x="700.1" y="282.3" width="56.4" height="24.3" fill="none" stroke="#44566c" stroke-width="1.2" stroke-dasharray="4.2 2.6"/>
<rect x="661.3" y="360.4" width="2.6" height="5.0" fill="#0a0a0a"/>
<rect x="662.1" y="361.2" width="0.9" height="3.0" fill="#ffee00" opacity="0.55"/>
<rect x="665.7" y="350.6" width="2.6" height="5.0" fill="#0a0a0a"/>
<rect x="666.5" y="351.4" width="0.9" height="3.0" fill="#00d8f0" opacity="0.55"/>
<rect x="671.3" y="341.7" width="2.6" height="5.0" fill="#0a0a0a"/>
<rect x="672.1" y="342.5" width="0.9" height="3.0" fill="#ff00ff" opacity="0.55"/>
<rect x="677.7" y="332.2" width="2.6" height="5.0" fill="#0a0a0a"/>
<rect x="678.5" y="333" width="0.9" height="3.0" fill="#00d000" opacity="0.55"/>
<rect x="689.2" y="318.6" width="2.6" height="5.0" fill="#0a0a0a"/>
<rect x="690" y="319.4" width="0.9" height="3.0" fill="#b8b8b8" opacity="0.55"/>
<rect x="715.1" y="295.6" width="2.6" height="5.0" fill="#0a0a0a"/>
<rect x="715.9" y="296.4" width="0.9" height="3.0" fill="#e8e8e8" opacity="0.55"/>
<rect x="718.1" y="293.6" width="2.6" height="5.0" fill="#0a0a0a"/>
<rect x="718.9" y="294.4" width="0.9" height="3.0" fill="#ff2020" opacity="0.55"/>
<rect x="723.8" y="289.2" width="2.6" height="5.0" fill="#0a0a0a"/>
<rect x="724.6" y="290" width="0.9" height="3.0" fill="#a8a8a8" opacity="0.55"/>
<rect x="727.4" y="287.8" width="2.6" height="5.0" fill="#0a0a0a"/>
<rect x="728.2" y="288.6" width="0.9" height="3.0" fill="#30a030" opacity="0.55"/>
<rect x="729.6" y="287.2" width="2.6" height="5.0" fill="#0a0a0a"/>
<rect x="730.4" y="288" width="0.9" height="3.0" fill="#d0e0ff" opacity="0.55"/>
<rect x="731.8" y="286.6" width="2.6" height="5.0" fill="#0a0a0a"/>
<rect x="732.6" y="287.4" width="0.9" height="3.0" fill="#9040d0" opacity="0.55"/>
<rect x="734" y="286.2" width="2.6" height="5.0" fill="#0a0a0a"/>
<rect x="734.8" y="287" width="0.9" height="3.0" fill="#6080c0" opacity="0.55"/>
<rect x="736.2" y="285.8" width="2.6" height="5.0" fill="#0a0a0a"/>
<rect x="737" y="286.6" width="0.9" height="3.0" fill="#d01818" opacity="0.55"/>
<circle cx="662.5" cy="366.8" r="1.15" fill="#ffee00"/>
<circle cx="666.9" cy="357" r="1.15" fill="#00e5ff"/>
<circle cx="672.5" cy="348.1" r="1.15" fill="#ff00ff"/>
<circle cx="678.9" cy="338.6" r="1.15" fill="#00e000"/>
<circle cx="690.4" cy="325" r="1.15" fill="#e0e8d0"/>
<circle cx="716.3" cy="302" r="1.15" fill="#ffffff"/>
<circle cx="719.3" cy="300" r="1.15" fill="#ff1010"/>
<circle cx="725" cy="295.6" r="1.15" fill="#9a9a9a"/>
<circle cx="728.6" cy="294.2" r="1.15" fill="#2aa02a"/>
<circle cx="730.8" cy="293.6" r="1.15" fill="#c8dcff"/>
<circle cx="733" cy="293" r="1.15" fill="#7a20c0"/>
<circle cx="735.2" cy="292.6" r="1.15" fill="#405aa0"/>
<circle cx="737.4" cy="292.2" r="1.15" fill="#a81414"/>
<path d="M740,200.4H795.2L809.9,215V250.9a6,6 0 0 1 -6,6H740a6,6 0 0 1 -6,-6V206.4a6,6 0 0 1 6,-6Z" fill="url(#insE)"/>
<path d="M806.2,211.8l3.2,-3.0" stroke="#a0a0a0" stroke-width="0.6" fill="none"/>
<rect x="749.7" y="235.5" width="4.4" height="8.7" fill="#080808"/>
<rect x="754.0" y="230.0" width="4.8" height="8.7" fill="#080808"/>
<rect x="764.4" y="223.2" width="4.7" height="9.5" fill="#080808"/>
<rect x="770.4" y="220.0" width="3.2" height="9.2" fill="#080808"/>
<rect x="773.5" y="218.9" width="3.2" height="9.4" fill="#080808"/>
<rect x="776.7" y="218.1" width="4.3" height="9.4" fill="#080808"/>
<rect x="781.7" y="218.1" width="8.3" height="8.7" fill="#080808"/>
<g class="sans" font-size="9.6" text-anchor="middle">
<text x="751.9" y="243.3" fill="#e8e8e8" textLength="3.9" lengthAdjust="spacingAndGlyphs">6</text>
<text x="756.4" y="237.8" fill="#ff2020" textLength="4.3" lengthAdjust="spacingAndGlyphs">7</text>
<text x="766.8" y="231.8" fill="#a8a8a8" textLength="4.2" lengthAdjust="spacingAndGlyphs">8</text>
<text x="772" y="228.3" fill="#30a030" textLength="2.7" lengthAdjust="spacingAndGlyphs">9</text>
<text x="775.1" y="227.4" fill="#00d000" textLength="2.7" lengthAdjust="spacingAndGlyphs">1</text>
<text x="778.9" y="226.6" fill="#d0e0ff" textLength="3.8" lengthAdjust="spacingAndGlyphs">1</text>
<text x="785.9" y="225.9" fill="#d01818" textLength="7.8" lengthAdjust="spacingAndGlyphs">13</text>
</g>
<circle cx="752.5" cy="247.4" r="2.35" fill="#ffffff"/>
<circle cx="757.2" cy="242.3" r="2.35" fill="#ff1010"/>
<circle cx="767" cy="235.2" r="2.35" fill="#9a9a9a"/>
<circle cx="773" cy="232.7" r="2.35" fill="#2aa02a"/>
<circle cx="775.4" cy="231.6" r="2.35" fill="#00e000"/>
<circle cx="779.4" cy="230.2" r="2.35" fill="#c8dcff"/>
<circle cx="782.5" cy="230" r="2.35" fill="#7a20c0"/>
<circle cx="784.6" cy="229.7" r="2.35" fill="#a81414"/>
<path d="M767.4,253.8L792.9,239.6L794.4,242.2L798.2,233.4L788.7,232L790.2,234.7L764.6,249Z" fill="url(#arr)" stroke="#35599e" stroke-width="0.4"/>
<text x="575.3" y="203.1" font-size="13.4" font-weight="bold" fill="#111" textLength="14.8" lengthAdjust="spacingAndGlyphs">(e)</text>
</g>
</svg>
</body></html>
